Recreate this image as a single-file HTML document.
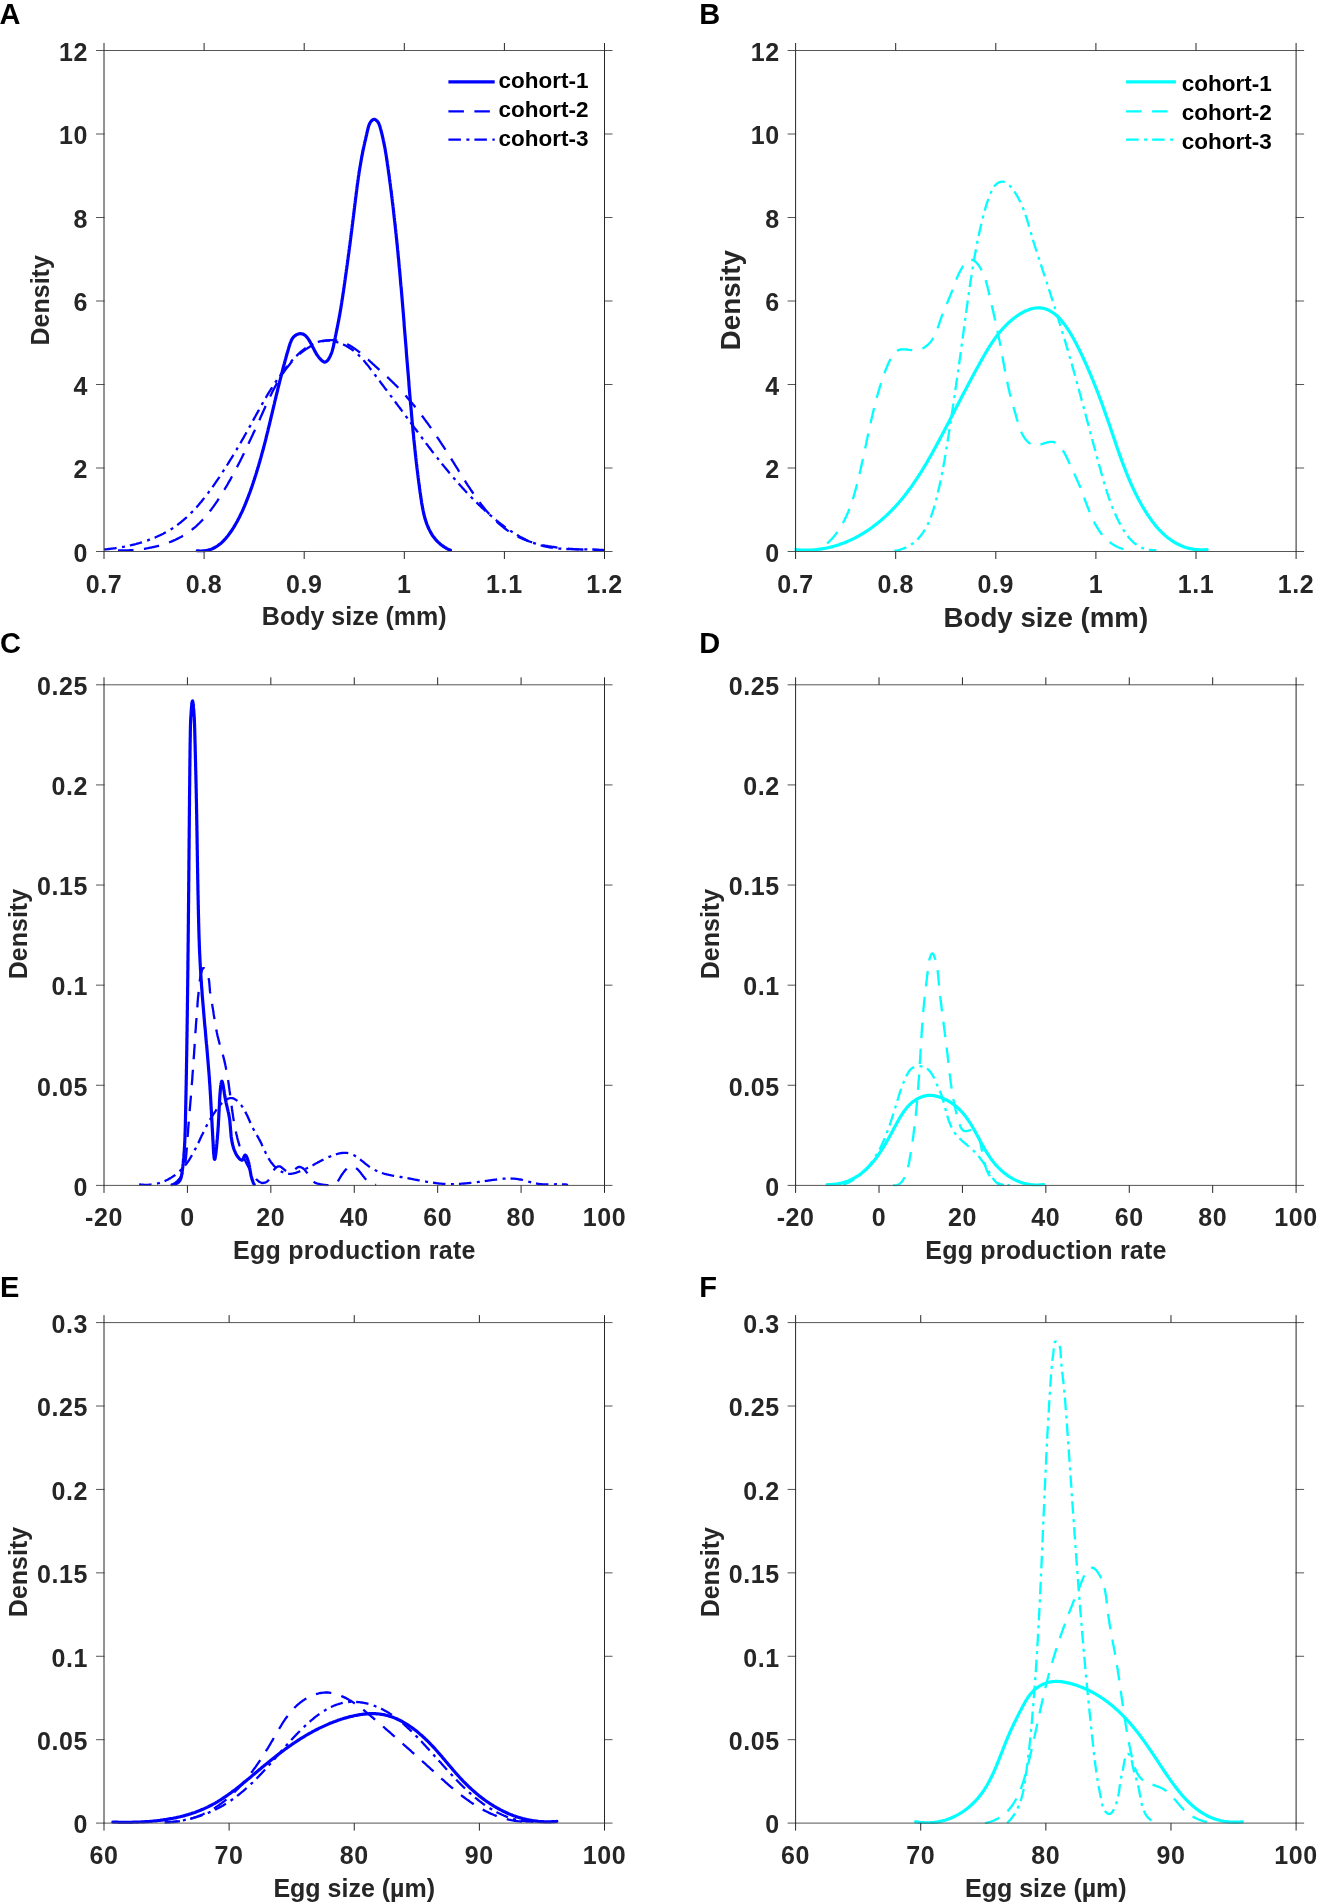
<!DOCTYPE html><html><head><meta charset="utf-8"><style>html,body{margin:0;padding:0;background:#fff;}svg{display:block;}text{font-family:"Liberation Sans",sans-serif;font-weight:bold;}svg{will-change:transform;}</style></head><body>
<svg width="1321" height="1903" viewBox="0 0 1321 1903">
<rect width="1321" height="1903" fill="#fff"/>
<clipPath id="clipA"><rect x="103.00" y="49.50" width="502.50" height="503.00"/></clipPath>
<g clip-path="url(#clipA)" fill="none" stroke="#0000ff" stroke-width="3.20" stroke-linejoin="round">
<path d="M197.3,550.8 L198.7,550.9 L200.1,551.0 L201.5,551.0 L202.8,550.9 L204.1,550.8 L205.3,550.7 L206.5,550.5 L207.7,550.2 L208.9,549.9 L210.0,549.6 L211.2,549.2 L212.3,548.8 L213.3,548.3 L214.4,547.8 L215.4,547.2 L216.4,546.6 L217.3,546.0 L218.3,545.3 L219.2,544.6 L220.1,543.9 L221.0,543.2 L221.9,542.4 L222.7,541.6 L223.6,540.8 L224.4,539.9 L225.2,539.0 L226.0,538.1 L226.7,537.2 L227.5,536.3 L228.2,535.4 L228.9,534.4 L229.6,533.4 L230.3,532.5 L231.0,531.5 L231.7,530.5 L232.4,529.5 L233.0,528.5 L233.7,527.4 L234.3,526.4 L234.9,525.4 L235.5,524.3 L236.1,523.3 L236.7,522.2 L237.3,521.2 L237.9,520.1 L238.4,519.0 L239.0,518.0 L239.5,516.9 L240.1,515.8 L240.6,514.7 L241.1,513.6 L241.7,512.5 L242.2,511.4 L242.7,510.3 L243.2,509.2 L243.6,508.1 L244.1,507.0 L244.6,505.9 L245.1,504.7 L245.5,503.6 L246.0,502.5 L246.4,501.4 L246.9,500.2 L247.3,499.1 L247.8,498.0 L248.2,496.8 L248.6,495.7 L249.0,494.6 L249.5,493.4 L249.9,492.3 L250.3,491.2 L250.7,490.0 L251.1,488.9 L251.5,487.7 L251.9,486.6 L252.3,485.5 L252.7,484.3 L253.1,483.2 L253.4,482.0 L253.8,480.9 L254.2,479.8 L254.6,478.6 L254.9,477.5 L255.3,476.3 L255.7,475.2 L256.0,474.1 L256.4,472.9 L256.7,471.8 L257.1,470.6 L257.4,469.5 L257.8,468.3 L258.1,467.2 L258.5,466.0 L258.8,464.9 L259.1,463.8 L259.5,462.6 L259.8,461.5 L260.1,460.3 L260.4,459.2 L260.8,458.0 L261.1,456.9 L261.4,455.7 L261.7,454.6 L262.0,453.4 L262.3,452.3 L262.7,451.1 L263.0,450.0 L263.3,448.8 L263.6,447.7 L263.9,446.5 L264.2,445.4 L264.5,444.2 L264.8,443.1 L265.1,441.9 L265.4,440.8 L265.7,439.6 L266.0,438.4 L266.2,437.3 L266.5,436.1 L266.8,435.0 L267.1,433.8 L267.4,432.7 L267.7,431.5 L268.0,430.3 L268.2,429.2 L268.5,428.0 L268.8,426.9 L269.1,425.7 L269.4,424.5 L269.7,423.4 L269.9,422.2 L270.2,421.1 L270.5,419.9 L270.8,418.7 L271.0,417.6 L271.3,416.4 L271.6,415.2 L271.9,414.1 L272.2,412.9 L272.4,411.7 L272.7,410.6 L273.0,409.4 L273.3,408.2 L273.5,407.1 L273.8,405.9 L274.1,404.7 L274.4,403.6 L274.6,402.4 L274.9,401.2 L275.2,400.1 L275.5,398.9 L275.8,397.7 L276.0,396.5 L276.3,395.4 L276.6,394.2 L276.9,393.0 L277.2,391.8 L277.5,390.7 L277.7,389.5 L278.0,388.3 L278.3,387.1 L278.6,386.0 L278.9,384.8 L279.2,383.6 L279.5,382.4 L279.8,381.2 L280.1,380.1 L280.4,378.9 L280.7,377.7 L281.0,376.5 L281.3,375.3 L281.6,374.1 L281.9,373.0 L282.2,371.8 L282.5,370.6 L282.8,369.4 L283.1,368.2 L283.4,367.0 L283.7,365.8 L284.0,364.7 L284.4,363.5 L284.7,362.3 L285.0,361.1 L285.3,359.9 L285.7,358.7 L286.0,357.5 L286.3,356.3 L286.7,355.1 L287.0,353.9 L287.3,352.7 L287.7,351.6 L288.0,350.4 L288.4,349.2 L288.7,348.0 L289.1,346.8 L289.5,345.6 L289.8,344.4 L290.2,343.2 L290.7,342.1 L291.1,341.0 L291.6,339.9 L292.2,338.9 L292.8,338.0 L293.5,337.1 L294.3,336.3 L295.2,335.6 L296.2,334.9 L297.2,334.4 L298.3,334.0 L299.5,333.7 L300.6,333.7 L301.7,333.8 L302.8,334.0 L303.8,334.5 L304.7,335.1 L305.6,335.8 L306.4,336.7 L307.3,337.6 L308.0,338.6 L308.8,339.7 L309.5,340.9 L310.2,342.1 L310.8,343.3 L311.5,344.5 L312.1,345.8 L312.7,347.0 L313.3,348.1 L313.9,349.2 L314.4,350.3 L315.0,351.4 L315.6,352.4 L316.1,353.4 L316.7,354.4 L317.4,355.3 L318.0,356.2 L318.7,357.2 L319.4,358.0 L320.2,358.9 L321.0,359.8 L321.9,360.6 L322.9,361.4 L323.8,361.9 L324.8,362.1 L325.8,361.8 L326.8,361.2 L327.7,360.3 L328.5,359.2 L329.2,358.1 L329.8,356.9 L330.4,355.7 L330.9,354.5 L331.4,353.3 L331.8,352.2 L332.2,351.0 L332.5,349.9 L332.8,348.8 L333.1,347.6 L333.4,346.5 L333.6,345.4 L333.9,344.2 L334.1,343.1 L334.3,341.9 L334.6,340.8 L334.8,339.6 L335.0,338.5 L335.3,337.3 L335.5,336.1 L335.8,334.9 L336.0,333.8 L336.2,332.6 L336.5,331.4 L336.7,330.2 L337.0,329.0 L337.2,327.9 L337.4,326.7 L337.7,325.5 L337.9,324.3 L338.1,323.1 L338.4,321.9 L338.6,320.7 L338.8,319.6 L339.0,318.4 L339.2,317.2 L339.5,316.0 L339.7,314.8 L339.9,313.6 L340.1,312.4 L340.3,311.2 L340.5,310.1 L340.7,308.9 L340.9,307.7 L341.1,306.5 L341.3,305.3 L341.5,304.1 L341.7,302.9 L341.8,301.7 L342.0,300.6 L342.2,299.4 L342.4,298.2 L342.6,297.0 L342.8,295.8 L342.9,294.6 L343.1,293.4 L343.3,292.2 L343.5,291.0 L343.6,289.9 L343.8,288.7 L344.0,287.5 L344.2,286.3 L344.3,285.1 L344.5,283.9 L344.7,282.7 L344.8,281.5 L345.0,280.3 L345.2,279.2 L345.3,278.0 L345.5,276.8 L345.7,275.6 L345.8,274.4 L346.0,273.2 L346.2,272.0 L346.3,270.8 L346.5,269.6 L346.7,268.5 L346.8,267.3 L347.0,266.1 L347.2,264.9 L347.3,263.7 L347.5,262.5 L347.6,261.3 L347.8,260.1 L348.0,258.9 L348.1,257.8 L348.3,256.6 L348.4,255.4 L348.6,254.2 L348.8,253.0 L348.9,251.8 L349.1,250.6 L349.2,249.4 L349.4,248.2 L349.5,247.0 L349.7,245.9 L349.9,244.7 L350.0,243.5 L350.2,242.3 L350.3,241.1 L350.5,239.9 L350.6,238.7 L350.8,237.5 L350.9,236.3 L351.1,235.1 L351.2,233.9 L351.4,232.8 L351.5,231.6 L351.7,230.4 L351.8,229.2 L352.0,228.0 L352.1,226.8 L352.3,225.6 L352.4,224.4 L352.6,223.2 L352.7,222.0 L352.9,220.8 L353.0,219.6 L353.2,218.4 L353.3,217.2 L353.5,216.0 L353.6,214.8 L353.8,213.6 L353.9,212.4 L354.1,211.3 L354.2,210.1 L354.3,208.9 L354.5,207.7 L354.6,206.5 L354.8,205.3 L354.9,204.1 L355.1,202.9 L355.2,201.7 L355.4,200.5 L355.5,199.3 L355.7,198.1 L355.8,196.9 L356.0,195.7 L356.1,194.5 L356.3,193.3 L356.4,192.1 L356.6,190.9 L356.7,189.7 L356.9,188.5 L357.0,187.3 L357.2,186.1 L357.3,184.9 L357.5,183.7 L357.7,182.5 L357.8,181.4 L358.0,180.2 L358.2,179.0 L358.3,177.8 L358.5,176.6 L358.7,175.4 L358.9,174.2 L359.0,173.0 L359.2,171.9 L359.4,170.7 L359.6,169.5 L359.8,168.3 L360.0,167.1 L360.2,165.9 L360.4,164.8 L360.6,163.6 L360.8,162.4 L361.0,161.2 L361.2,160.1 L361.4,158.9 L361.6,157.7 L361.8,156.6 L362.1,155.4 L362.3,154.2 L362.5,153.1 L362.7,151.9 L363.0,150.7 L363.2,149.6 L363.5,148.4 L363.7,147.2 L364.0,146.1 L364.2,144.9 L364.5,143.8 L364.7,142.6 L365.0,141.4 L365.3,140.3 L365.6,139.1 L365.8,137.9 L366.1,136.7 L366.4,135.5 L366.7,134.3 L366.9,133.1 L367.2,131.9 L367.5,130.7 L367.8,129.5 L368.1,128.2 L368.4,127.0 L368.8,125.8 L369.2,124.6 L369.7,123.5 L370.3,122.4 L371.0,121.4 L371.9,120.5 L372.8,119.8 L373.8,119.4 L374.8,119.4 L375.8,119.9 L376.7,120.7 L377.6,121.6 L378.3,122.6 L378.9,123.7 L379.3,124.8 L379.8,126.0 L380.1,127.2 L380.4,128.4 L380.8,129.6 L381.1,130.8 L381.4,132.0 L381.7,133.2 L382.0,134.4 L382.3,135.5 L382.5,136.7 L382.8,137.9 L383.1,139.1 L383.3,140.3 L383.6,141.5 L383.8,142.7 L384.1,143.9 L384.3,145.0 L384.5,146.2 L384.8,147.4 L385.0,148.6 L385.2,149.8 L385.4,151.0 L385.6,152.2 L385.8,153.3 L386.0,154.5 L386.2,155.7 L386.4,156.9 L386.6,158.1 L386.7,159.3 L386.9,160.4 L387.1,161.6 L387.3,162.8 L387.4,164.0 L387.6,165.2 L387.8,166.4 L388.0,167.5 L388.1,168.7 L388.3,169.9 L388.4,171.1 L388.6,172.3 L388.8,173.5 L388.9,174.6 L389.1,175.8 L389.3,177.0 L389.4,178.2 L389.6,179.4 L389.7,180.6 L389.9,181.8 L390.0,182.9 L390.2,184.1 L390.4,185.3 L390.5,186.5 L390.7,187.7 L390.8,188.9 L391.0,190.1 L391.1,191.3 L391.3,192.4 L391.4,193.6 L391.6,194.8 L391.7,196.0 L391.9,197.2 L392.0,198.4 L392.2,199.6 L392.3,200.8 L392.4,202.0 L392.6,203.2 L392.7,204.3 L392.9,205.5 L393.0,206.7 L393.2,207.9 L393.3,209.1 L393.4,210.3 L393.6,211.5 L393.7,212.7 L393.8,213.9 L394.0,215.1 L394.1,216.3 L394.2,217.5 L394.4,218.6 L394.5,219.8 L394.6,221.0 L394.8,222.2 L394.9,223.4 L395.0,224.6 L395.2,225.8 L395.3,227.0 L395.4,228.2 L395.6,229.4 L395.7,230.6 L395.8,231.8 L395.9,233.0 L396.1,234.2 L396.2,235.4 L396.3,236.6 L396.4,237.8 L396.6,239.0 L396.7,240.2 L396.8,241.4 L396.9,242.6 L397.0,243.8 L397.2,245.0 L397.3,246.1 L397.4,247.3 L397.5,248.5 L397.6,249.7 L397.8,250.9 L397.9,252.1 L398.0,253.3 L398.1,254.5 L398.2,255.7 L398.3,256.9 L398.4,258.1 L398.6,259.3 L398.7,260.5 L398.8,261.7 L398.9,262.9 L399.0,264.1 L399.1,265.3 L399.2,266.5 L399.3,267.7 L399.5,268.9 L399.6,270.1 L399.7,271.3 L399.8,272.5 L399.9,273.7 L400.0,274.9 L400.1,276.1 L400.2,277.3 L400.3,278.5 L400.4,279.7 L400.5,280.9 L400.6,282.1 L400.7,283.3 L400.8,284.5 L400.9,285.7 L401.1,286.9 L401.2,288.1 L401.3,289.3 L401.4,290.5 L401.5,291.7 L401.6,292.9 L401.7,294.1 L401.8,295.3 L401.9,296.5 L402.0,297.7 L402.1,298.9 L402.2,300.1 L402.3,301.3 L402.4,302.5 L402.5,303.7 L402.6,304.9 L402.7,306.1 L402.8,307.3 L402.9,308.5 L403.0,309.7 L403.1,310.9 L403.2,312.1 L403.3,313.3 L403.4,314.5 L403.5,315.7 L403.6,317.0 L403.7,318.2 L403.8,319.4 L403.9,320.6 L404.0,321.8 L404.1,323.0 L404.1,324.2 L404.2,325.4 L404.3,326.6 L404.4,327.8 L404.5,329.0 L404.6,330.2 L404.7,331.4 L404.8,332.6 L404.9,333.8 L405.0,335.0 L405.1,336.2 L405.2,337.4 L405.3,338.6 L405.4,339.8 L405.5,341.0 L405.6,342.1 L405.7,343.3 L405.8,344.5 L405.9,345.7 L406.0,346.9 L406.1,348.1 L406.2,349.3 L406.3,350.5 L406.3,351.7 L406.4,352.9 L406.5,354.1 L406.6,355.3 L406.7,356.5 L406.8,357.7 L406.9,358.9 L407.0,360.1 L407.1,361.3 L407.2,362.5 L407.3,363.7 L407.4,364.9 L407.5,366.1 L407.6,367.3 L407.7,368.5 L407.8,369.7 L407.9,370.9 L408.0,372.1 L408.1,373.3 L408.2,374.5 L408.3,375.7 L408.4,376.9 L408.5,378.1 L408.6,379.3 L408.7,380.4 L408.8,381.6 L408.9,382.8 L408.9,384.0 L409.0,385.2 L409.1,386.4 L409.2,387.6 L409.3,388.8 L409.4,390.0 L409.5,391.2 L409.6,392.4 L409.7,393.6 L409.8,394.8 L409.9,395.9 L410.0,397.1 L410.1,398.3 L410.2,399.5 L410.3,400.7 L410.4,401.9 L410.5,403.1 L410.6,404.3 L410.8,405.5 L410.9,406.7 L411.0,407.9 L411.1,409.0 L411.2,410.2 L411.3,411.4 L411.4,412.6 L411.5,413.8 L411.6,415.0 L411.7,416.2 L411.8,417.4 L411.9,418.6 L412.0,419.7 L412.1,420.9 L412.2,422.1 L412.3,423.3 L412.5,424.5 L412.6,425.7 L412.7,426.9 L412.8,428.1 L412.9,429.3 L413.0,430.5 L413.1,431.6 L413.2,432.8 L413.4,434.0 L413.5,435.2 L413.6,436.4 L413.7,437.6 L413.8,438.8 L413.9,440.0 L414.1,441.2 L414.2,442.4 L414.3,443.6 L414.4,444.8 L414.6,445.9 L414.7,447.1 L414.8,448.3 L414.9,449.5 L415.1,450.7 L415.2,451.9 L415.3,453.1 L415.4,454.3 L415.6,455.5 L415.7,456.7 L415.8,457.9 L416.0,459.1 L416.1,460.3 L416.2,461.5 L416.4,462.7 L416.5,463.9 L416.7,465.1 L416.8,466.3 L416.9,467.5 L417.1,468.7 L417.2,469.9 L417.4,471.1 L417.5,472.3 L417.7,473.5 L417.8,474.7 L418.0,475.9 L418.1,477.2 L418.3,478.4 L418.4,479.6 L418.6,480.8 L418.7,482.0 L418.9,483.2 L419.1,484.4 L419.2,485.6 L419.4,486.8 L419.5,488.1 L419.7,489.3 L419.9,490.5 L420.0,491.7 L420.2,492.9 L420.4,494.1 L420.6,495.4 L420.7,496.6 L420.9,497.8 L421.1,499.0 L421.3,500.3 L421.5,501.5 L421.6,502.7 L421.8,503.9 L422.1,505.1 L422.3,506.3 L422.5,507.5 L422.7,508.7 L423.0,509.9 L423.2,511.1 L423.5,512.3 L423.7,513.5 L424.0,514.7 L424.3,515.8 L424.6,517.0 L424.9,518.1 L425.2,519.3 L425.6,520.4 L426.0,521.5 L426.3,522.6 L426.7,523.7 L427.1,524.8 L427.6,525.9 L428.0,527.0 L428.5,528.0 L429.0,529.1 L429.5,530.1 L430.0,531.1 L430.5,532.1 L431.1,533.1 L431.7,534.1 L432.3,535.1 L432.9,536.0 L433.6,536.9 L434.3,537.8 L435.0,538.7 L435.7,539.6 L436.5,540.5 L437.3,541.3 L438.1,542.1 L439.0,542.9 L439.9,543.7 L440.8,544.5 L441.7,545.2 L442.7,545.9 L443.7,546.6 L444.7,547.3 L445.8,547.9 L446.9,548.6 L448.0,549.2 L449.2,549.7 L450.4,550.3" stroke-linecap="round"/>
<path d="M118.0,550.4 L119.2,550.4 L120.4,550.4 L121.6,550.4 L122.7,550.4 L123.9,550.4 L125.1,550.4 L126.3,550.3 L127.5,550.3 L128.7,550.3 L129.9,550.2 L131.1,550.1 L132.3,550.1 L133.6,550.0 L134.8,549.9 L136.0,549.8 L137.2,549.7 L138.4,549.5 L139.6,549.4 L140.8,549.3 L142.0,549.1 L143.2,548.9 L144.4,548.8 L145.6,548.6 L146.8,548.4 L148.0,548.2 L149.2,547.9 L150.4,547.7 L151.6,547.5 L152.8,547.2 L153.9,547.0 L155.1,546.7 L156.3,546.4 L157.5,546.1 L158.6,545.8 L159.8,545.5 L161.0,545.1 L162.1,544.8 L163.3,544.4 L164.4,544.1 L165.6,543.7 L166.7,543.3 L167.8,542.9 L169.0,542.4 L170.1,542.0 L171.2,541.6 L172.3,541.1 L173.4,540.6 L174.5,540.2 L175.6,539.7 L176.6,539.1 L177.7,538.6 L178.8,538.1 L179.8,537.5 L180.9,537.0 L181.9,536.4 L182.9,535.8 L184.0,535.2 L185.0,534.6 L186.0,533.9 L187.0,533.3 L188.0,532.6 L188.9,531.9 L189.9,531.2 L190.9,530.5 L191.8,529.8 L192.7,529.0 L193.7,528.3 L194.6,527.5 L195.5,526.8 L196.4,526.0 L197.3,525.2 L198.1,524.3 L199.0,523.5 L199.8,522.7 L200.7,521.8 L201.5,521.0 L202.4,520.1 L203.2,519.2 L204.0,518.3 L204.8,517.4 L205.6,516.5 L206.4,515.6 L207.2,514.6 L208.0,513.7 L208.7,512.7 L209.5,511.8 L210.2,510.8 L211.0,509.9 L211.7,508.9 L212.4,507.9 L213.2,506.9 L213.9,505.9 L214.6,504.9 L215.3,503.9 L216.0,502.9 L216.7,501.9 L217.4,500.9 L218.0,499.9 L218.7,498.8 L219.4,497.8 L220.0,496.8 L220.7,495.7 L221.3,494.7 L222.0,493.7 L222.6,492.6 L223.3,491.6 L223.9,490.5 L224.5,489.5 L225.1,488.4 L225.8,487.4 L226.4,486.4 L227.0,485.3 L227.6,484.3 L228.2,483.2 L228.8,482.2 L229.4,481.1 L230.0,480.1 L230.6,479.1 L231.1,478.0 L231.7,477.0 L232.3,475.9 L232.9,474.9 L233.4,473.8 L234.0,472.8 L234.5,471.8 L235.1,470.7 L235.7,469.7 L236.2,468.6 L236.8,467.6 L237.3,466.5 L237.8,465.5 L238.4,464.4 L238.9,463.4 L239.5,462.3 L240.0,461.3 L240.5,460.2 L241.0,459.2 L241.6,458.1 L242.1,457.1 L242.6,456.0 L243.1,455.0 L243.7,453.9 L244.2,452.9 L244.7,451.8 L245.2,450.7 L245.7,449.7 L246.2,448.6 L246.7,447.6 L247.2,446.5 L247.7,445.4 L248.2,444.4 L248.7,443.3 L249.2,442.2 L249.7,441.1 L250.2,440.1 L250.7,439.0 L251.2,437.9 L251.7,436.8 L252.2,435.8 L252.7,434.7 L253.2,433.6 L253.7,432.5 L254.2,431.4 L254.7,430.4 L255.2,429.3 L255.7,428.2 L256.2,427.1 L256.7,426.0 L257.2,424.9 L257.7,423.8 L258.2,422.7 L258.7,421.6 L259.2,420.5 L259.7,419.4 L260.2,418.3 L260.7,417.1 L261.2,416.0 L261.7,414.9 L262.2,413.8 L262.7,412.7 L263.2,411.6 L263.7,410.4 L264.2,409.3 L264.7,408.2 L265.2,407.0 L265.7,405.9 L266.2,404.8 L266.7,403.7 L267.3,402.5 L267.8,401.4 L268.3,400.3 L268.8,399.1 L269.4,398.0 L269.9,396.9 L270.5,395.8 L271.0,394.7 L271.6,393.5 L272.1,392.4 L272.7,391.3 L273.2,390.2 L273.8,389.1 L274.4,388.0 L275.0,386.9 L275.6,385.8 L276.2,384.7 L276.8,383.7 L277.4,382.6 L278.0,381.5 L278.6,380.4 L279.2,379.4 L279.9,378.3 L280.5,377.3 L281.1,376.3 L281.8,375.2 L282.5,374.2 L283.1,373.2 L283.8,372.2 L284.5,371.2 L285.2,370.2 L285.9,369.2 L286.6,368.2 L287.4,367.3 L288.1,366.3 L288.8,365.4 L289.6,364.5 L290.3,363.5 L291.1,362.6 L291.9,361.7 L292.7,360.8 L293.5,360.0 L294.3,359.1 L295.2,358.3 L296.0,357.4 L296.9,356.6 L297.7,355.8 L298.6,355.0 L299.5,354.2 L300.4,353.4 L301.3,352.7 L302.2,351.9 L303.2,351.2 L304.1,350.5 L305.1,349.8 L306.1,349.1 L307.1,348.5 L308.1,347.8 L309.1,347.2 L310.1,346.6 L311.2,346.0 L312.2,345.4 L313.3,344.9 L314.4,344.3 L315.5,343.8 L316.6,343.3 L317.7,342.9 L318.8,342.5 L320.0,342.1 L321.1,341.7 L322.2,341.4 L323.4,341.1 L324.5,340.8 L325.7,340.6 L326.9,340.4 L328.0,340.3 L329.2,340.1 L330.3,340.1 L331.5,340.1 L332.6,340.1 L333.8,340.1 L334.9,340.3 L336.1,340.4 L337.2,340.6 L338.4,340.9 L339.5,341.2 L340.6,341.5 L341.8,341.9 L342.9,342.3 L344.0,342.7 L345.1,343.2 L346.2,343.7 L347.3,344.2 L348.4,344.8 L349.4,345.3 L350.5,346.0 L351.6,346.6 L352.6,347.3 L353.6,347.9 L354.7,348.6 L355.7,349.4 L356.7,350.1 L357.7,350.8 L358.7,351.6 L359.7,352.4 L360.7,353.2 L361.6,354.0 L362.6,354.8 L363.6,355.6 L364.6,356.5 L365.5,357.3 L366.5,358.1 L367.4,359.0 L368.4,359.8 L369.3,360.7 L370.2,361.5 L371.2,362.4 L372.1,363.2 L373.0,364.1 L374.0,364.9 L374.9,365.8 L375.8,366.6 L376.7,367.4 L377.7,368.3 L378.6,369.1 L379.5,369.9 L380.4,370.7 L381.3,371.6 L382.2,372.4 L383.1,373.2 L384.0,374.0 L384.9,374.9 L385.8,375.7 L386.7,376.5 L387.6,377.3 L388.5,378.2 L389.4,379.0 L390.2,379.8 L391.1,380.6 L392.0,381.5 L392.8,382.3 L393.7,383.1 L394.5,384.0 L395.4,384.8 L396.2,385.7 L397.1,386.5 L397.9,387.4 L398.7,388.2 L399.6,389.1 L400.4,390.0 L401.2,390.8 L402.0,391.7 L402.8,392.6 L403.6,393.5 L404.4,394.3 L405.2,395.2 L406.0,396.1 L406.8,397.0 L407.5,397.9 L408.3,398.8 L409.1,399.7 L409.9,400.6 L410.6,401.5 L411.4,402.4 L412.2,403.3 L412.9,404.2 L413.7,405.1 L414.4,406.0 L415.1,406.9 L415.9,407.9 L416.6,408.8 L417.4,409.7 L418.1,410.6 L418.8,411.6 L419.5,412.5 L420.3,413.4 L421.0,414.4 L421.7,415.3 L422.4,416.3 L423.1,417.2 L423.8,418.2 L424.5,419.1 L425.2,420.1 L425.9,421.0 L426.6,422.0 L427.3,422.9 L428.0,423.9 L428.7,424.9 L429.4,425.8 L430.1,426.8 L430.8,427.8 L431.5,428.7 L432.1,429.7 L432.8,430.7 L433.5,431.7 L434.2,432.7 L434.8,433.6 L435.5,434.6 L436.2,435.6 L436.9,436.6 L437.5,437.6 L438.2,438.6 L438.9,439.6 L439.5,440.6 L440.2,441.6 L440.8,442.6 L441.5,443.6 L442.1,444.6 L442.8,445.6 L443.5,446.6 L444.1,447.6 L444.8,448.6 L445.4,449.6 L446.1,450.7 L446.7,451.7 L447.4,452.7 L448.0,453.7 L448.7,454.7 L449.3,455.8 L450.0,456.8 L450.6,457.8 L451.3,458.9 L451.9,459.9 L452.5,460.9 L453.2,461.9 L453.8,463.0 L454.5,464.0 L455.1,465.1 L455.8,466.1 L456.4,467.1 L457.1,468.2 L457.7,469.2 L458.4,470.3 L459.0,471.3 L459.7,472.3 L460.3,473.4 L461.0,474.4 L461.6,475.5 L462.3,476.5 L462.9,477.6 L463.6,478.6 L464.2,479.7 L464.9,480.7 L465.5,481.7 L466.2,482.8 L466.9,483.8 L467.5,484.8 L468.2,485.9 L468.9,486.9 L469.6,487.9 L470.2,488.9 L470.9,490.0 L471.6,491.0 L472.3,492.0 L473.0,493.0 L473.7,494.0 L474.4,495.0 L475.1,496.0 L475.8,497.0 L476.5,498.0 L477.2,499.0 L477.9,500.0 L478.6,500.9 L479.3,501.9 L480.1,502.9 L480.8,503.8 L481.5,504.8 L482.3,505.7 L483.0,506.7 L483.8,507.6 L484.5,508.5 L485.3,509.5 L486.1,510.4 L486.8,511.3 L487.6,512.2 L488.4,513.1 L489.2,514.0 L490.0,514.8 L490.8,515.7 L491.6,516.6 L492.4,517.4 L493.3,518.3 L494.1,519.1 L494.9,519.9 L495.8,520.7 L496.6,521.5 L497.5,522.3 L498.4,523.1 L499.2,523.9 L500.1,524.7 L501.0,525.4 L501.9,526.2 L502.8,526.9 L503.7,527.6 L504.6,528.3 L505.6,529.0 L506.5,529.7 L507.5,530.4 L508.4,531.0 L509.4,531.7 L510.4,532.3 L511.3,533.0 L512.3,533.6 L513.3,534.2 L514.3,534.8 L515.4,535.3 L516.4,535.9 L517.4,536.4 L518.5,537.0 L519.5,537.5 L520.6,538.0 L521.7,538.5 L522.8,538.9 L523.9,539.4 L525.0,539.8 L526.1,540.3 L527.2,540.7 L528.4,541.1 L529.5,541.5 L530.7,541.9 L531.8,542.2 L533.0,542.6 L534.2,543.0 L535.3,543.3 L536.5,543.6 L537.7,543.9 L538.9,544.2 L540.1,544.5 L541.3,544.8 L542.5,545.1 L543.8,545.3 L545.0,545.6 L546.2,545.8 L547.4,546.0 L548.7,546.3 L549.9,546.5 L551.1,546.7 L552.4,546.9 L553.6,547.0 L554.9,547.2 L556.1,547.4 L557.4,547.6 L558.6,547.7 L559.8,547.9 L561.1,548.0 L562.3,548.1 L563.6,548.3 L564.8,548.4 L566.1,548.5 L567.3,548.6 L568.6,548.7 L569.8,548.8 L571.1,548.9 L572.3,549.0 L573.5,549.1 L574.8,549.2 L576.0,549.2 L577.2,549.3 L578.5,549.4 L579.7,549.4 L580.9,549.5 L582.1,549.5 L583.3,549.6 L584.5,549.6 L585.7,549.7 L586.9,549.7 L588.1,549.8 L589.3,549.8 L590.4,549.9 L591.6,549.9 L592.8,549.9 L593.9,550.0 L595.0,550.0 L596.2,550.0 L597.3,550.1 L598.4,550.1 L599.5,550.1 L600.6,550.2 L601.7,550.2 L602.8,550.2 L603.9,550.3" stroke-dasharray="15.5 10.5" stroke-width="2.30"/>
<path d="M104.2,549.5 L105.3,549.4 L106.5,549.3 L107.7,549.1 L108.8,549.0 L110.0,548.9 L111.2,548.7 L112.3,548.6 L113.5,548.4 L114.7,548.3 L115.9,548.1 L117.0,547.9 L118.2,547.7 L119.4,547.5 L120.6,547.3 L121.8,547.1 L123.0,546.9 L124.2,546.7 L125.3,546.4 L126.5,546.2 L127.7,546.0 L128.9,545.7 L130.1,545.4 L131.3,545.2 L132.5,544.9 L133.6,544.6 L134.8,544.3 L136.0,544.0 L137.2,543.6 L138.4,543.3 L139.5,543.0 L140.7,542.6 L141.9,542.3 L143.0,541.9 L144.2,541.5 L145.4,541.2 L146.5,540.8 L147.7,540.4 L148.8,539.9 L150.0,539.5 L151.1,539.1 L152.2,538.6 L153.4,538.2 L154.5,537.7 L155.6,537.3 L156.7,536.8 L157.8,536.3 L158.9,535.8 L160.0,535.3 L161.1,534.7 L162.2,534.2 L163.3,533.7 L164.3,533.1 L165.4,532.5 L166.4,532.0 L167.5,531.4 L168.5,530.8 L169.5,530.2 L170.6,529.5 L171.6,528.9 L172.6,528.3 L173.6,527.6 L174.5,526.9 L175.5,526.3 L176.5,525.6 L177.4,524.9 L178.4,524.2 L179.3,523.4 L180.3,522.7 L181.2,522.0 L182.1,521.2 L183.0,520.5 L183.9,519.7 L184.8,518.9 L185.7,518.1 L186.6,517.3 L187.4,516.5 L188.3,515.7 L189.2,514.9 L190.0,514.1 L190.8,513.2 L191.7,512.4 L192.5,511.5 L193.3,510.7 L194.2,509.8 L195.0,508.9 L195.8,508.0 L196.6,507.2 L197.4,506.3 L198.2,505.4 L198.9,504.5 L199.7,503.5 L200.5,502.6 L201.3,501.7 L202.0,500.8 L202.8,499.8 L203.5,498.9 L204.3,497.9 L205.0,497.0 L205.8,496.0 L206.5,495.1 L207.2,494.1 L208.0,493.2 L208.7,492.2 L209.4,491.2 L210.1,490.2 L210.8,489.3 L211.6,488.3 L212.3,487.3 L213.0,486.3 L213.7,485.3 L214.4,484.3 L215.1,483.3 L215.7,482.3 L216.4,481.3 L217.1,480.3 L217.8,479.3 L218.5,478.3 L219.2,477.3 L219.8,476.3 L220.5,475.3 L221.2,474.2 L221.9,473.2 L222.5,472.2 L223.2,471.2 L223.8,470.2 L224.5,469.2 L225.2,468.1 L225.8,467.1 L226.5,466.1 L227.1,465.1 L227.8,464.0 L228.4,463.0 L229.1,462.0 L229.7,460.9 L230.3,459.9 L231.0,458.9 L231.6,457.9 L232.2,456.8 L232.9,455.8 L233.5,454.7 L234.1,453.7 L234.7,452.7 L235.4,451.6 L236.0,450.6 L236.6,449.6 L237.2,448.5 L237.8,447.5 L238.4,446.4 L239.1,445.4 L239.7,444.4 L240.3,443.3 L240.9,442.3 L241.5,441.2 L242.1,440.2 L242.7,439.2 L243.3,438.1 L243.9,437.1 L244.4,436.0 L245.0,435.0 L245.6,434.0 L246.2,432.9 L246.8,431.9 L247.4,430.8 L248.0,429.8 L248.5,428.8 L249.1,427.7 L249.7,426.7 L250.3,425.6 L250.8,424.6 L251.4,423.6 L252.0,422.5 L252.5,421.5 L253.1,420.4 L253.7,419.4 L254.2,418.4 L254.8,417.3 L255.4,416.3 L255.9,415.3 L256.5,414.2 L257.1,413.2 L257.6,412.2 L258.2,411.1 L258.8,410.1 L259.3,409.1 L259.9,408.0 L260.5,407.0 L261.1,406.0 L261.6,405.0 L262.2,403.9 L262.8,402.9 L263.4,401.9 L264.0,400.8 L264.6,399.8 L265.2,398.8 L265.8,397.8 L266.4,396.7 L267.0,395.7 L267.6,394.7 L268.2,393.7 L268.8,392.7 L269.4,391.6 L270.1,390.6 L270.7,389.6 L271.3,388.6 L272.0,387.6 L272.6,386.5 L273.3,385.5 L273.9,384.5 L274.6,383.5 L275.3,382.5 L276.0,381.5 L276.6,380.5 L277.3,379.5 L278.0,378.4 L278.7,377.4 L279.4,376.4 L280.2,375.4 L280.9,374.4 L281.6,373.4 L282.4,372.4 L283.1,371.4 L283.9,370.4 L284.7,369.4 L285.5,368.4 L286.2,367.4 L287.0,366.4 L287.9,365.4 L288.7,364.4 L289.5,363.4 L290.3,362.5 L291.2,361.5 L292.0,360.5 L292.9,359.6 L293.7,358.7 L294.6,357.7 L295.5,356.8 L296.4,356.0 L297.3,355.1 L298.2,354.2 L299.1,353.4 L300.0,352.5 L301.0,351.7 L301.9,351.0 L302.9,350.2 L303.8,349.4 L304.8,348.7 L305.7,348.0 L306.7,347.4 L307.7,346.7 L308.7,346.1 L309.7,345.5 L310.7,344.9 L311.7,344.4 L312.8,343.9 L313.8,343.4 L314.8,343.0 L315.9,342.6 L316.9,342.2 L318.0,341.9 L319.1,341.6 L320.2,341.3 L321.2,341.1 L322.3,340.9 L323.4,340.7 L324.5,340.6 L325.7,340.6 L326.8,340.5 L327.9,340.6 L329.0,340.6 L330.2,340.7 L331.3,340.9 L332.4,341.0 L333.6,341.2 L334.7,341.5 L335.9,341.8 L337.0,342.1 L338.1,342.5 L339.3,342.8 L340.4,343.3 L341.5,343.7 L342.6,344.2 L343.8,344.7 L344.9,345.2 L346.0,345.8 L347.0,346.4 L348.1,347.0 L349.2,347.7 L350.2,348.4 L351.2,349.0 L352.3,349.8 L353.3,350.5 L354.3,351.3 L355.2,352.1 L356.2,352.9 L357.1,353.7 L358.0,354.5 L358.9,355.4 L359.8,356.3 L360.7,357.1 L361.5,358.1 L362.4,359.0 L363.2,359.9 L364.0,360.8 L364.8,361.8 L365.6,362.7 L366.4,363.7 L367.2,364.7 L368.0,365.6 L368.8,366.6 L369.5,367.6 L370.3,368.6 L371.0,369.6 L371.8,370.6 L372.5,371.6 L373.3,372.5 L374.0,373.5 L374.7,374.5 L375.5,375.5 L376.2,376.5 L376.9,377.4 L377.7,378.4 L378.4,379.4 L379.1,380.4 L379.9,381.3 L380.6,382.3 L381.3,383.3 L382.0,384.2 L382.8,385.2 L383.5,386.1 L384.2,387.1 L384.9,388.1 L385.6,389.0 L386.4,390.0 L387.1,390.9 L387.8,391.9 L388.5,392.8 L389.2,393.8 L389.9,394.7 L390.6,395.7 L391.4,396.6 L392.1,397.6 L392.8,398.5 L393.5,399.5 L394.2,400.4 L394.9,401.4 L395.6,402.3 L396.3,403.3 L397.0,404.2 L397.7,405.2 L398.4,406.1 L399.2,407.1 L399.9,408.0 L400.6,409.0 L401.3,409.9 L402.0,410.9 L402.7,411.8 L403.4,412.8 L404.1,413.7 L404.8,414.7 L405.5,415.6 L406.2,416.6 L406.9,417.5 L407.6,418.5 L408.3,419.5 L409.0,420.4 L409.8,421.4 L410.5,422.3 L411.2,423.3 L411.9,424.2 L412.6,425.2 L413.3,426.2 L414.0,427.1 L414.7,428.1 L415.4,429.1 L416.2,430.0 L416.9,431.0 L417.6,431.9 L418.3,432.9 L419.0,433.9 L419.7,434.8 L420.5,435.8 L421.2,436.8 L421.9,437.7 L422.6,438.7 L423.3,439.6 L424.1,440.6 L424.8,441.6 L425.5,442.5 L426.2,443.5 L427.0,444.4 L427.7,445.4 L428.4,446.4 L429.1,447.3 L429.9,448.3 L430.6,449.2 L431.3,450.2 L432.1,451.2 L432.8,452.1 L433.6,453.1 L434.3,454.0 L435.0,455.0 L435.8,455.9 L436.5,456.9 L437.3,457.8 L438.0,458.8 L438.8,459.7 L439.5,460.7 L440.3,461.6 L441.0,462.6 L441.8,463.5 L442.5,464.5 L443.3,465.4 L444.1,466.4 L444.8,467.3 L445.6,468.2 L446.4,469.2 L447.1,470.1 L447.9,471.0 L448.7,472.0 L449.4,472.9 L450.2,473.8 L451.0,474.7 L451.8,475.7 L452.6,476.6 L453.3,477.5 L454.1,478.4 L454.9,479.3 L455.7,480.3 L456.5,481.2 L457.3,482.1 L458.1,483.0 L458.9,483.9 L459.7,484.8 L460.5,485.7 L461.3,486.6 L462.1,487.5 L462.9,488.4 L463.8,489.3 L464.6,490.2 L465.4,491.0 L466.2,491.9 L467.0,492.8 L467.9,493.7 L468.7,494.6 L469.5,495.4 L470.4,496.3 L471.2,497.2 L472.1,498.0 L472.9,498.9 L473.7,499.7 L474.6,500.6 L475.5,501.4 L476.3,502.3 L477.2,503.1 L478.0,504.0 L478.9,504.8 L479.8,505.6 L480.6,506.5 L481.5,507.3 L482.4,508.1 L483.3,508.9 L484.2,509.8 L485.0,510.6 L485.9,511.4 L486.8,512.2 L487.7,513.0 L488.6,513.8 L489.5,514.6 L490.4,515.4 L491.4,516.2 L492.3,516.9 L493.2,517.7 L494.1,518.5 L495.0,519.2 L496.0,520.0 L496.9,520.8 L497.8,521.5 L498.8,522.3 L499.7,523.0 L500.7,523.8 L501.6,524.5 L502.6,525.2 L503.5,525.9 L504.5,526.7 L505.5,527.4 L506.5,528.1 L507.4,528.7 L508.4,529.4 L509.4,530.1 L510.4,530.8 L511.4,531.4 L512.4,532.1 L513.4,532.7 L514.4,533.4 L515.4,534.0 L516.4,534.6 L517.5,535.2 L518.5,535.8 L519.5,536.4 L520.6,537.0 L521.6,537.5 L522.7,538.1 L523.7,538.6 L524.8,539.1 L525.8,539.7 L526.9,540.2 L528.0,540.7 L529.1,541.1 L530.2,541.6 L531.3,542.1 L532.4,542.5 L533.5,542.9 L534.6,543.3 L535.7,543.7 L536.8,544.1 L537.9,544.5 L539.1,544.8 L540.2,545.2 L541.4,545.5 L542.5,545.8 L543.7,546.1 L544.9,546.4 L546.0,546.7 L547.2,546.9 L548.4,547.1 L549.6,547.3 L550.8,547.5 L552.0,547.7 L553.2,547.9 L554.4,548.1 L555.6,548.2 L556.8,548.3 L558.1,548.5 L559.3,548.6 L560.5,548.7 L561.7,548.8 L563.0,548.8 L564.2,548.9 L565.5,549.0 L566.7,549.0 L567.9,549.1 L569.2,549.1 L570.4,549.2 L571.7,549.2 L572.9,549.2 L574.1,549.2 L575.4,549.3 L576.6,549.3 L577.9,549.3 L579.1,549.3 L580.3,549.3 L581.6,549.3 L582.8,549.3 L584.0,549.4 L585.2,549.4 L586.4,549.4 L587.7,549.4 L588.9,549.4 L590.1,549.4 L591.3,549.5 L592.5,549.5 L593.6,549.5 L594.8,549.6 L596.0,549.6 L597.2,549.6 L598.3,549.7 L599.5,549.8 L600.6,549.8 L601.8,549.9 L602.9,550.0 L604.0,550.1" stroke-dasharray="12.5 5.5 3 5" stroke-width="2.30"/>
</g>
<g stroke="#555555" stroke-width="1" fill="none" stroke-linecap="square">
<path d="M104.00,50.50 H604.50 M104.00,551.50 H604.50"/>
<path d="M104.00,551.50 H96.50 M604.50,551.50 H612.00"/>
<path d="M104.00,468.00 H96.50 M604.50,468.00 H612.00"/>
<path d="M104.00,384.50 H96.50 M604.50,384.50 H612.00"/>
<path d="M104.00,301.00 H96.50 M604.50,301.00 H612.00"/>
<path d="M104.00,217.50 H96.50 M604.50,217.50 H612.00"/>
<path d="M104.00,134.00 H96.50 M604.50,134.00 H612.00"/>
<path d="M104.00,50.50 H96.50 M604.50,50.50 H612.00"/>
</g>
<g stroke="#262626" stroke-width="1" fill="none">
<path d="M104.00,50.50 V551.50 M604.50,50.50 V551.50"/>
<path d="M104.00,551.50 V559.00 M104.00,50.50 V43.00"/>
<path d="M204.10,551.50 V559.00 M204.10,50.50 V43.00"/>
<path d="M304.20,551.50 V559.00 M304.20,50.50 V43.00"/>
<path d="M404.30,551.50 V559.00 M404.30,50.50 V43.00"/>
<path d="M504.40,551.50 V559.00 M504.40,50.50 V43.00"/>
<path d="M604.50,551.50 V559.00 M604.50,50.50 V43.00"/>
</g>
<g fill="#262626" font-size="25.0" letter-spacing="0.6">
<text x="104.00" y="592.50" text-anchor="middle">0.7</text>
<text x="204.10" y="592.50" text-anchor="middle">0.8</text>
<text x="304.20" y="592.50" text-anchor="middle">0.9</text>
<text x="404.30" y="592.50" text-anchor="middle">1</text>
<text x="504.40" y="592.50" text-anchor="middle">1.1</text>
<text x="604.50" y="592.50" text-anchor="middle">1.2</text>
<text x="88.10" y="561.80" text-anchor="end">0</text>
<text x="88.10" y="478.30" text-anchor="end">2</text>
<text x="88.10" y="394.80" text-anchor="end">4</text>
<text x="88.10" y="311.30" text-anchor="end">6</text>
<text x="88.10" y="227.80" text-anchor="end">8</text>
<text x="88.10" y="144.30" text-anchor="end">10</text>
<text x="88.10" y="60.80" text-anchor="end">12</text>
</g>
<text x="354.25" y="625.00" font-size="25.0" fill="#262626" text-anchor="middle" letter-spacing="0.00">Body size (mm)</text>
<text transform="translate(48.60,300.30) rotate(-90)" font-size="25.0" fill="#262626" text-anchor="middle">Density</text>
<clipPath id="clipB"><rect x="794.60" y="49.50" width="502.50" height="503.00"/></clipPath>
<g clip-path="url(#clipB)" fill="none" stroke="#00ffff" stroke-width="3.20" stroke-linejoin="round">
<path d="M794.6,549.6 L795.9,549.7 L797.1,549.8 L798.4,549.9 L799.7,550.0 L801.0,550.1 L802.2,550.1 L803.5,550.1 L804.8,550.2 L806.0,550.2 L807.3,550.2 L808.5,550.1 L809.8,550.1 L811.0,550.0 L812.2,550.0 L813.5,549.9 L814.7,549.8 L815.9,549.7 L817.1,549.5 L818.3,549.4 L819.5,549.2 L820.7,549.1 L821.9,548.9 L823.1,548.7 L824.3,548.5 L825.5,548.2 L826.7,548.0 L827.9,547.8 L829.0,547.5 L830.2,547.2 L831.4,546.9 L832.5,546.6 L833.7,546.3 L834.8,546.0 L836.0,545.6 L837.1,545.3 L838.2,544.9 L839.4,544.5 L840.5,544.1 L841.6,543.7 L842.7,543.3 L843.8,542.9 L845.0,542.5 L846.1,542.0 L847.1,541.6 L848.2,541.1 L849.3,540.6 L850.4,540.1 L851.5,539.6 L852.6,539.1 L853.6,538.6 L854.7,538.1 L855.7,537.5 L856.8,537.0 L857.8,536.4 L858.9,535.8 L859.9,535.2 L860.9,534.6 L862.0,534.0 L863.0,533.4 L864.0,532.8 L865.0,532.2 L866.0,531.5 L867.0,530.9 L868.0,530.2 L869.0,529.5 L870.0,528.9 L870.9,528.2 L871.9,527.5 L872.9,526.8 L873.8,526.1 L874.8,525.3 L875.7,524.6 L876.7,523.9 L877.6,523.1 L878.5,522.4 L879.5,521.6 L880.4,520.9 L881.3,520.1 L882.2,519.3 L883.1,518.5 L884.0,517.7 L884.9,516.9 L885.8,516.1 L886.6,515.3 L887.5,514.5 L888.4,513.6 L889.2,512.8 L890.1,511.9 L891.0,511.1 L891.8,510.2 L892.6,509.4 L893.5,508.5 L894.3,507.6 L895.1,506.8 L895.9,505.9 L896.7,505.0 L897.5,504.1 L898.3,503.2 L899.1,502.3 L899.9,501.4 L900.7,500.5 L901.4,499.5 L902.2,498.6 L903.0,497.7 L903.7,496.7 L904.5,495.8 L905.2,494.9 L905.9,493.9 L906.7,493.0 L907.4,492.0 L908.1,491.0 L908.8,490.1 L909.6,489.1 L910.3,488.1 L911.0,487.2 L911.7,486.2 L912.4,485.2 L913.1,484.2 L913.7,483.2 L914.4,482.2 L915.1,481.2 L915.8,480.2 L916.5,479.2 L917.1,478.2 L917.8,477.2 L918.4,476.2 L919.1,475.1 L919.7,474.1 L920.4,473.1 L921.0,472.1 L921.7,471.0 L922.3,470.0 L922.9,469.0 L923.6,467.9 L924.2,466.9 L924.8,465.9 L925.4,464.8 L926.1,463.8 L926.7,462.7 L927.3,461.7 L927.9,460.6 L928.5,459.6 L929.1,458.5 L929.7,457.5 L930.3,456.4 L930.9,455.4 L931.5,454.3 L932.1,453.3 L932.7,452.2 L933.3,451.1 L933.9,450.1 L934.4,449.0 L935.0,447.9 L935.6,446.9 L936.2,445.8 L936.7,444.8 L937.3,443.7 L937.9,442.6 L938.5,441.6 L939.0,440.5 L939.6,439.4 L940.2,438.4 L940.7,437.3 L941.3,436.2 L941.9,435.2 L942.4,434.1 L943.0,433.0 L943.6,432.0 L944.1,430.9 L944.7,429.8 L945.2,428.8 L945.8,427.7 L946.4,426.6 L946.9,425.6 L947.5,424.5 L948.0,423.4 L948.6,422.4 L949.1,421.3 L949.7,420.2 L950.2,419.2 L950.8,418.1 L951.3,417.1 L951.9,416.0 L952.4,414.9 L953.0,413.9 L953.5,412.8 L954.1,411.7 L954.6,410.7 L955.2,409.6 L955.7,408.5 L956.3,407.5 L956.8,406.4 L957.4,405.4 L957.9,404.3 L958.5,403.2 L959.0,402.2 L959.6,401.1 L960.1,400.1 L960.7,399.0 L961.2,397.9 L961.8,396.9 L962.3,395.8 L962.9,394.8 L963.4,393.7 L964.0,392.6 L964.5,391.6 L965.1,390.5 L965.7,389.5 L966.2,388.4 L966.8,387.3 L967.3,386.3 L967.9,385.2 L968.4,384.2 L969.0,383.1 L969.6,382.0 L970.1,381.0 L970.7,379.9 L971.2,378.9 L971.8,377.8 L972.4,376.8 L972.9,375.7 L973.5,374.7 L974.1,373.6 L974.6,372.5 L975.2,371.5 L975.8,370.4 L976.4,369.4 L976.9,368.3 L977.5,367.3 L978.1,366.2 L978.7,365.2 L979.3,364.1 L979.8,363.1 L980.4,362.0 L981.0,361.0 L981.6,359.9 L982.2,358.9 L982.8,357.8 L983.4,356.8 L984.0,355.7 L984.6,354.7 L985.2,353.6 L985.8,352.6 L986.4,351.6 L987.0,350.5 L987.7,349.5 L988.3,348.5 L988.9,347.4 L989.6,346.4 L990.2,345.4 L990.9,344.4 L991.5,343.4 L992.2,342.4 L992.9,341.4 L993.6,340.4 L994.3,339.4 L995.0,338.4 L995.7,337.4 L996.4,336.5 L997.1,335.5 L997.9,334.5 L998.6,333.6 L999.4,332.6 L1000.1,331.7 L1000.9,330.8 L1001.7,329.9 L1002.5,329.0 L1003.3,328.1 L1004.2,327.2 L1005.0,326.3 L1005.9,325.4 L1006.7,324.5 L1007.6,323.7 L1008.5,322.8 L1009.4,322.0 L1010.4,321.2 L1011.3,320.4 L1012.3,319.6 L1013.2,318.8 L1014.2,318.0 L1015.2,317.3 L1016.3,316.5 L1017.3,315.8 L1018.3,315.1 L1019.4,314.4 L1020.5,313.7 L1021.5,313.1 L1022.6,312.5 L1023.7,311.9 L1024.8,311.3 L1025.9,310.8 L1027.0,310.4 L1028.2,309.9 L1029.3,309.5 L1030.4,309.1 L1031.5,308.8 L1032.7,308.5 L1033.8,308.3 L1034.9,308.1 L1036.1,308.0 L1037.2,307.9 L1038.3,307.8 L1039.4,307.9 L1040.6,307.9 L1041.7,308.1 L1042.8,308.3 L1043.9,308.5 L1045.0,308.8 L1046.1,309.2 L1047.2,309.6 L1048.2,310.0 L1049.3,310.5 L1050.3,311.1 L1051.3,311.7 L1052.3,312.3 L1053.3,313.0 L1054.3,313.7 L1055.3,314.4 L1056.2,315.2 L1057.1,316.0 L1058.0,316.8 L1058.9,317.7 L1059.7,318.6 L1060.5,319.5 L1061.4,320.4 L1062.1,321.4 L1062.9,322.4 L1063.7,323.4 L1064.4,324.3 L1065.2,325.4 L1065.9,326.4 L1066.6,327.4 L1067.3,328.4 L1067.9,329.4 L1068.6,330.5 L1069.3,331.5 L1069.9,332.5 L1070.6,333.6 L1071.2,334.6 L1071.8,335.7 L1072.4,336.7 L1073.0,337.8 L1073.6,338.8 L1074.2,339.9 L1074.8,341.0 L1075.3,342.0 L1075.9,343.1 L1076.5,344.2 L1077.0,345.2 L1077.6,346.3 L1078.1,347.4 L1078.6,348.4 L1079.2,349.5 L1079.7,350.6 L1080.2,351.7 L1080.7,352.8 L1081.3,353.8 L1081.8,354.9 L1082.3,356.0 L1082.8,357.1 L1083.3,358.2 L1083.8,359.3 L1084.3,360.4 L1084.8,361.5 L1085.3,362.6 L1085.8,363.7 L1086.3,364.8 L1086.8,365.9 L1087.3,367.0 L1087.8,368.1 L1088.2,369.2 L1088.7,370.3 L1089.2,371.4 L1089.7,372.5 L1090.1,373.6 L1090.6,374.7 L1091.1,375.8 L1091.5,376.9 L1092.0,378.0 L1092.4,379.1 L1092.9,380.2 L1093.3,381.3 L1093.8,382.5 L1094.2,383.6 L1094.7,384.7 L1095.1,385.8 L1095.6,386.9 L1096.0,388.0 L1096.5,389.2 L1096.9,390.3 L1097.3,391.4 L1097.8,392.5 L1098.2,393.6 L1098.6,394.8 L1099.0,395.9 L1099.5,397.0 L1099.9,398.1 L1100.3,399.3 L1100.7,400.4 L1101.2,401.5 L1101.6,402.6 L1102.0,403.8 L1102.4,404.9 L1102.8,406.0 L1103.2,407.2 L1103.6,408.3 L1104.0,409.4 L1104.4,410.6 L1104.8,411.7 L1105.2,412.8 L1105.6,414.0 L1106.0,415.1 L1106.4,416.2 L1106.8,417.4 L1107.2,418.5 L1107.6,419.6 L1108.0,420.8 L1108.4,421.9 L1108.8,423.0 L1109.2,424.2 L1109.6,425.3 L1110.0,426.5 L1110.4,427.6 L1110.7,428.7 L1111.1,429.9 L1111.5,431.0 L1111.9,432.1 L1112.3,433.3 L1112.7,434.4 L1113.1,435.6 L1113.4,436.7 L1113.8,437.8 L1114.2,439.0 L1114.6,440.1 L1115.0,441.2 L1115.4,442.4 L1115.8,443.5 L1116.1,444.7 L1116.5,445.8 L1116.9,446.9 L1117.3,448.1 L1117.7,449.2 L1118.1,450.3 L1118.5,451.5 L1118.9,452.6 L1119.3,453.7 L1119.7,454.9 L1120.1,456.0 L1120.5,457.1 L1120.9,458.2 L1121.3,459.4 L1121.7,460.5 L1122.1,461.6 L1122.6,462.8 L1123.0,463.9 L1123.4,465.0 L1123.8,466.1 L1124.3,467.2 L1124.7,468.4 L1125.1,469.5 L1125.6,470.6 L1126.0,471.7 L1126.4,472.8 L1126.9,473.9 L1127.3,475.1 L1127.8,476.2 L1128.3,477.3 L1128.7,478.4 L1129.2,479.5 L1129.7,480.6 L1130.1,481.7 L1130.6,482.8 L1131.1,483.9 L1131.6,485.0 L1132.1,486.1 L1132.6,487.2 L1133.1,488.3 L1133.6,489.4 L1134.1,490.5 L1134.7,491.6 L1135.2,492.7 L1135.7,493.7 L1136.3,494.8 L1136.8,495.9 L1137.4,497.0 L1137.9,498.1 L1138.5,499.1 L1139.0,500.2 L1139.6,501.3 L1140.2,502.3 L1140.8,503.4 L1141.4,504.5 L1142.0,505.5 L1142.6,506.6 L1143.2,507.6 L1143.8,508.7 L1144.5,509.7 L1145.1,510.8 L1145.8,511.8 L1146.4,512.8 L1147.1,513.9 L1147.7,514.9 L1148.4,515.9 L1149.1,516.9 L1149.8,517.9 L1150.5,518.9 L1151.2,519.9 L1151.9,520.9 L1152.7,521.9 L1153.4,522.8 L1154.2,523.8 L1154.9,524.7 L1155.7,525.7 L1156.4,526.6 L1157.2,527.5 L1158.0,528.4 L1158.8,529.3 L1159.6,530.1 L1160.5,531.0 L1161.3,531.8 L1162.1,532.7 L1163.0,533.5 L1163.9,534.3 L1164.7,535.1 L1165.6,535.9 L1166.5,536.6 L1167.4,537.4 L1168.3,538.1 L1169.3,538.8 L1170.2,539.5 L1171.2,540.2 L1172.1,540.8 L1173.1,541.4 L1174.1,542.1 L1175.1,542.7 L1176.1,543.2 L1177.1,543.8 L1178.1,544.3 L1179.2,544.8 L1180.3,545.3 L1181.3,545.8 L1182.4,546.2 L1183.5,546.7 L1184.6,547.0 L1185.7,547.4 L1186.9,547.8 L1188.0,548.1 L1189.2,548.4 L1190.4,548.7 L1191.6,548.9 L1192.8,549.1 L1194.0,549.3 L1195.2,549.5 L1196.5,549.6 L1197.7,549.7 L1199.0,549.8 L1200.3,549.9 L1201.6,549.9 L1202.9,549.9 L1204.2,549.9 L1205.6,549.8 L1207.0,549.7" stroke-linecap="round"/>
<path d="M802.9,550.4 L804.2,550.6 L805.6,550.7 L806.9,550.8 L808.1,550.8 L809.4,550.8 L810.6,550.7 L811.9,550.5 L813.0,550.3 L814.2,550.1 L815.4,549.8 L816.5,549.4 L817.6,549.0 L818.7,548.6 L819.8,548.1 L820.8,547.6 L821.8,547.0 L822.8,546.4 L823.8,545.8 L824.8,545.2 L825.8,544.5 L826.7,543.7 L827.6,543.0 L828.5,542.2 L829.4,541.4 L830.2,540.5 L831.1,539.7 L831.9,538.8 L832.7,537.9 L833.5,537.0 L834.3,536.0 L835.0,535.1 L835.8,534.1 L836.5,533.1 L837.2,532.2 L837.9,531.2 L838.6,530.2 L839.2,529.1 L839.9,528.1 L840.5,527.1 L841.1,526.1 L841.8,525.0 L842.3,524.0 L842.9,522.9 L843.5,521.9 L844.1,520.8 L844.6,519.8 L845.1,518.7 L845.6,517.6 L846.2,516.5 L846.7,515.4 L847.1,514.3 L847.6,513.3 L848.1,512.2 L848.5,511.0 L849.0,509.9 L849.4,508.8 L849.8,507.7 L850.3,506.6 L850.7,505.5 L851.1,504.3 L851.5,503.2 L851.9,502.1 L852.2,500.9 L852.6,499.8 L853.0,498.7 L853.3,497.5 L853.7,496.4 L854.0,495.2 L854.3,494.1 L854.7,492.9 L855.0,491.7 L855.3,490.6 L855.6,489.4 L856.0,488.2 L856.3,487.1 L856.6,485.9 L856.9,484.7 L857.2,483.6 L857.5,482.4 L857.8,481.2 L858.1,480.1 L858.3,478.9 L858.6,477.7 L858.9,476.5 L859.2,475.4 L859.5,474.2 L859.7,473.0 L860.0,471.8 L860.3,470.7 L860.6,469.5 L860.8,468.3 L861.1,467.1 L861.4,465.9 L861.6,464.7 L861.9,463.6 L862.1,462.4 L862.4,461.2 L862.7,460.0 L862.9,458.8 L863.2,457.7 L863.4,456.5 L863.7,455.3 L863.9,454.1 L864.2,452.9 L864.4,451.7 L864.7,450.6 L864.9,449.4 L865.2,448.2 L865.4,447.0 L865.7,445.8 L865.9,444.6 L866.2,443.5 L866.4,442.3 L866.7,441.1 L866.9,439.9 L867.2,438.7 L867.4,437.5 L867.7,436.4 L867.9,435.2 L868.2,434.0 L868.5,432.8 L868.7,431.6 L869.0,430.5 L869.2,429.3 L869.5,428.1 L869.7,426.9 L870.0,425.8 L870.2,424.6 L870.5,423.4 L870.8,422.2 L871.0,421.1 L871.3,419.9 L871.6,418.7 L871.8,417.6 L872.1,416.4 L872.4,415.2 L872.6,414.1 L872.9,412.9 L873.2,411.7 L873.5,410.6 L873.8,409.4 L874.0,408.3 L874.3,407.1 L874.6,405.9 L874.9,404.8 L875.2,403.6 L875.5,402.5 L875.8,401.3 L876.1,400.2 L876.4,399.0 L876.7,397.9 L877.0,396.7 L877.3,395.6 L877.7,394.4 L878.0,393.3 L878.3,392.2 L878.6,391.0 L879.0,389.9 L879.3,388.8 L879.6,387.6 L880.0,386.5 L880.3,385.4 L880.7,384.3 L881.0,383.1 L881.4,382.0 L881.8,380.9 L882.1,379.8 L882.5,378.7 L882.9,377.6 L883.3,376.4 L883.6,375.3 L884.0,374.2 L884.5,373.1 L884.9,372.0 L885.3,370.8 L885.7,369.7 L886.2,368.5 L886.7,367.4 L887.2,366.2 L887.7,365.0 L888.2,363.8 L888.7,362.6 L889.3,361.4 L889.9,360.2 L890.5,359.0 L891.1,357.8 L891.8,356.7 L892.5,355.6 L893.2,354.5 L893.9,353.6 L894.7,352.7 L895.6,351.9 L896.5,351.2 L897.4,350.6 L898.4,350.1 L899.4,349.7 L900.5,349.5 L901.6,349.3 L902.7,349.3 L903.9,349.3 L905.1,349.4 L906.3,349.5 L907.6,349.6 L908.8,349.8 L910.1,349.9 L911.3,350.1 L912.6,350.2 L913.8,350.2 L915.0,350.2 L916.2,350.2 L917.4,350.0 L918.5,349.8 L919.6,349.5 L920.7,349.2 L921.8,348.7 L922.8,348.3 L923.9,347.7 L924.8,347.1 L925.8,346.5 L926.7,345.7 L927.6,345.0 L928.4,344.2 L929.3,343.3 L930.1,342.5 L930.8,341.5 L931.5,340.6 L932.2,339.6 L932.8,338.6 L933.5,337.5 L934.0,336.5 L934.6,335.4 L935.1,334.3 L935.6,333.1 L936.1,332.0 L936.6,330.8 L937.1,329.7 L937.5,328.5 L938.0,327.3 L938.4,326.1 L938.8,324.9 L939.2,323.7 L939.6,322.4 L940.0,321.2 L940.4,320.0 L940.9,318.8 L941.3,317.6 L941.7,316.4 L942.1,315.3 L942.6,314.1 L943.0,312.9 L943.5,311.8 L943.9,310.7 L944.4,309.5 L944.8,308.4 L945.3,307.3 L945.8,306.2 L946.2,305.1 L946.7,304.0 L947.2,302.9 L947.6,301.8 L948.1,300.7 L948.5,299.7 L949.0,298.6 L949.4,297.5 L949.9,296.4 L950.3,295.4 L950.7,294.3 L951.2,293.3 L951.6,292.2 L952.0,291.1 L952.4,290.1 L952.8,289.0 L953.1,288.0 L953.5,286.9 L953.9,285.8 L954.3,284.8 L954.7,283.7 L955.1,282.6 L955.5,281.5 L955.9,280.4 L956.3,279.4 L956.8,278.3 L957.3,277.1 L957.8,276.0 L958.3,274.9 L958.8,273.8 L959.4,272.6 L960.0,271.4 L960.6,270.3 L961.3,269.1 L962.0,267.9 L962.7,266.7 L963.5,265.5 L964.3,264.4 L965.2,263.4 L966.1,262.4 L967.0,261.6 L968.0,260.9 L968.9,260.3 L969.9,259.9 L970.9,259.7 L971.9,259.8 L972.9,260.0 L973.8,260.5 L974.8,261.1 L975.7,261.9 L976.5,262.8 L977.4,263.8 L978.2,264.8 L979.0,265.9 L979.7,267.0 L980.4,268.1 L981.0,269.2 L981.6,270.3 L982.2,271.4 L982.8,272.6 L983.3,273.7 L983.7,274.8 L984.2,276.0 L984.6,277.1 L985.0,278.3 L985.4,279.4 L985.8,280.6 L986.1,281.7 L986.5,282.9 L986.8,284.0 L987.1,285.2 L987.4,286.4 L987.7,287.5 L987.9,288.7 L988.2,289.9 L988.5,291.1 L988.8,292.2 L989.0,293.4 L989.3,294.6 L989.6,295.7 L989.8,296.9 L990.1,298.1 L990.4,299.2 L990.6,300.4 L990.9,301.6 L991.2,302.7 L991.5,303.9 L991.7,305.1 L992.0,306.3 L992.3,307.4 L992.5,308.6 L992.8,309.8 L993.1,310.9 L993.3,312.1 L993.6,313.3 L993.8,314.4 L994.1,315.6 L994.4,316.8 L994.6,318.0 L994.9,319.1 L995.2,320.3 L995.4,321.5 L995.7,322.6 L995.9,323.8 L996.2,325.0 L996.4,326.2 L996.7,327.3 L996.9,328.5 L997.2,329.7 L997.4,330.9 L997.7,332.0 L997.9,333.2 L998.2,334.4 L998.4,335.6 L998.7,336.7 L998.9,337.9 L999.1,339.1 L999.4,340.3 L999.6,341.4 L999.8,342.6 L1000.1,343.8 L1000.3,345.0 L1000.5,346.2 L1000.7,347.3 L1001.0,348.5 L1001.2,349.7 L1001.4,350.9 L1001.6,352.1 L1001.8,353.3 L1002.0,354.4 L1002.2,355.6 L1002.5,356.8 L1002.7,358.0 L1002.9,359.2 L1003.1,360.4 L1003.3,361.6 L1003.5,362.7 L1003.7,363.9 L1004.0,365.1 L1004.2,366.3 L1004.4,367.5 L1004.6,368.7 L1004.8,369.9 L1005.1,371.0 L1005.3,372.2 L1005.5,373.4 L1005.7,374.6 L1006.0,375.8 L1006.2,377.0 L1006.4,378.1 L1006.7,379.3 L1006.9,380.5 L1007.2,381.7 L1007.4,382.9 L1007.7,384.1 L1007.9,385.2 L1008.2,386.4 L1008.4,387.6 L1008.7,388.8 L1009.0,389.9 L1009.3,391.1 L1009.5,392.3 L1009.8,393.5 L1010.1,394.6 L1010.4,395.8 L1010.7,397.0 L1011.0,398.1 L1011.3,399.3 L1011.7,400.5 L1012.0,401.6 L1012.3,402.8 L1012.6,404.0 L1013.0,405.1 L1013.3,406.3 L1013.6,407.4 L1013.9,408.6 L1014.3,409.7 L1014.6,410.9 L1014.9,412.0 L1015.3,413.1 L1015.6,414.3 L1015.9,415.4 L1016.2,416.6 L1016.5,417.7 L1016.8,418.8 L1017.2,419.9 L1017.5,421.0 L1017.8,422.2 L1018.1,423.3 L1018.4,424.4 L1018.8,425.5 L1019.1,426.6 L1019.5,427.8 L1019.9,428.9 L1020.4,430.1 L1020.9,431.2 L1021.4,432.4 L1022.0,433.6 L1022.6,434.7 L1023.2,435.9 L1023.9,437.0 L1024.7,438.1 L1025.4,439.2 L1026.3,440.2 L1027.1,441.1 L1028.0,442.0 L1028.9,442.8 L1029.9,443.5 L1030.8,444.1 L1031.9,444.6 L1032.9,445.0 L1034.0,445.2 L1035.1,445.4 L1036.2,445.4 L1037.4,445.3 L1038.6,445.0 L1039.8,444.7 L1041.0,444.4 L1042.2,444.0 L1043.4,443.6 L1044.6,443.2 L1045.9,442.8 L1047.1,442.4 L1048.3,442.1 L1049.5,441.9 L1050.6,441.8 L1051.8,441.8 L1052.9,441.9 L1053.9,442.2 L1055.0,442.6 L1056.0,443.2 L1057.0,443.9 L1057.9,444.6 L1058.8,445.5 L1059.7,446.4 L1060.5,447.4 L1061.3,448.4 L1062.1,449.4 L1062.8,450.5 L1063.5,451.6 L1064.2,452.7 L1064.8,453.7 L1065.4,454.9 L1066.0,456.0 L1066.5,457.1 L1067.1,458.2 L1067.6,459.3 L1068.1,460.4 L1068.6,461.5 L1069.1,462.6 L1069.6,463.7 L1070.1,464.8 L1070.6,465.9 L1071.1,467.0 L1071.6,468.1 L1072.1,469.1 L1072.6,470.2 L1073.1,471.2 L1073.6,472.3 L1074.1,473.3 L1074.6,474.4 L1075.1,475.4 L1075.5,476.5 L1076.0,477.5 L1076.5,478.6 L1077.0,479.7 L1077.4,480.7 L1077.9,481.8 L1078.4,482.8 L1078.8,483.9 L1079.3,485.0 L1079.7,486.1 L1080.2,487.2 L1080.6,488.3 L1081.1,489.4 L1081.5,490.5 L1081.9,491.7 L1082.4,492.8 L1082.8,493.9 L1083.2,495.1 L1083.6,496.2 L1084.1,497.4 L1084.5,498.5 L1084.9,499.7 L1085.3,500.9 L1085.8,502.0 L1086.2,503.2 L1086.6,504.4 L1087.1,505.5 L1087.5,506.7 L1088.0,507.8 L1088.4,509.0 L1088.9,510.1 L1089.3,511.3 L1089.8,512.4 L1090.3,513.6 L1090.7,514.7 L1091.2,515.9 L1091.7,517.0 L1092.2,518.1 L1092.7,519.2 L1093.3,520.3 L1093.8,521.4 L1094.4,522.5 L1094.9,523.5 L1095.5,524.6 L1096.1,525.7 L1096.7,526.7 L1097.3,527.7 L1097.9,528.7 L1098.5,529.7 L1099.2,530.7 L1099.8,531.7 L1100.5,532.6 L1101.2,533.5 L1101.9,534.5 L1102.7,535.4 L1103.4,536.2 L1104.2,537.1 L1105.0,537.9 L1105.8,538.8 L1106.6,539.6 L1107.5,540.3 L1108.3,541.1 L1109.2,541.8 L1110.2,542.5 L1111.1,543.2 L1112.1,543.9 L1113.0,544.5 L1114.0,545.1 L1115.1,545.7 L1116.1,546.3 L1117.2,546.8 L1118.3,547.3 L1119.5,547.8 L1120.6,548.2 L1121.8,548.6 L1123.1,549.0 L1124.3,549.3 L1125.6,549.7 L1126.9,550.0 L1128.2,550.2" stroke-dasharray="15.5 10.5" stroke-width="2.30"/>
<path d="M894.4,550.9 L895.8,550.6 L897.1,550.4 L898.4,550.1 L899.6,549.8 L900.8,549.4 L902.0,549.0 L903.2,548.6 L904.4,548.1 L905.5,547.7 L906.6,547.2 L907.6,546.6 L908.7,546.1 L909.7,545.5 L910.7,544.9 L911.6,544.2 L912.6,543.6 L913.5,542.9 L914.4,542.2 L915.2,541.5 L916.1,540.7 L916.9,539.9 L917.7,539.1 L918.5,538.3 L919.2,537.5 L920.0,536.6 L920.7,535.7 L921.4,534.8 L922.1,533.9 L922.8,533.0 L923.4,532.0 L924.0,531.0 L924.6,530.0 L925.2,529.0 L925.8,528.0 L926.4,527.0 L926.9,526.0 L927.5,524.9 L928.0,523.8 L928.5,522.7 L929.0,521.6 L929.4,520.5 L929.9,519.4 L930.4,518.3 L930.8,517.2 L931.2,516.0 L931.6,514.9 L932.0,513.7 L932.4,512.6 L932.8,511.4 L933.2,510.2 L933.6,509.0 L933.9,507.8 L934.3,506.7 L934.6,505.5 L935.0,504.3 L935.3,503.1 L935.6,501.9 L935.9,500.7 L936.2,499.5 L936.5,498.3 L936.8,497.1 L937.1,495.9 L937.4,494.7 L937.7,493.5 L938.0,492.3 L938.3,491.1 L938.5,489.9 L938.8,488.7 L939.1,487.5 L939.4,486.3 L939.6,485.1 L939.9,483.9 L940.1,482.7 L940.4,481.5 L940.6,480.3 L940.9,479.2 L941.1,478.0 L941.4,476.8 L941.6,475.6 L941.8,474.4 L942.1,473.2 L942.3,472.1 L942.5,470.9 L942.7,469.7 L943.0,468.5 L943.2,467.4 L943.4,466.2 L943.6,465.0 L943.8,463.8 L944.0,462.6 L944.3,461.5 L944.5,460.3 L944.7,459.1 L944.9,457.9 L945.1,456.8 L945.3,455.6 L945.5,454.4 L945.7,453.2 L945.9,452.1 L946.1,450.9 L946.3,449.7 L946.4,448.6 L946.6,447.4 L946.8,446.2 L947.0,445.0 L947.2,443.9 L947.4,442.7 L947.6,441.5 L947.8,440.3 L947.9,439.2 L948.1,438.0 L948.3,436.8 L948.5,435.6 L948.7,434.5 L948.9,433.3 L949.0,432.1 L949.2,430.9 L949.4,429.7 L949.6,428.6 L949.8,427.4 L950.0,426.2 L950.1,425.0 L950.3,423.8 L950.5,422.7 L950.7,421.5 L950.9,420.3 L951.0,419.1 L951.2,417.9 L951.4,416.8 L951.6,415.6 L951.8,414.4 L951.9,413.2 L952.1,412.0 L952.3,410.8 L952.5,409.7 L952.6,408.5 L952.8,407.3 L953.0,406.1 L953.2,404.9 L953.3,403.7 L953.5,402.5 L953.7,401.3 L953.9,400.2 L954.0,399.0 L954.2,397.8 L954.4,396.6 L954.6,395.4 L954.7,394.2 L954.9,393.0 L955.1,391.8 L955.3,390.6 L955.4,389.5 L955.6,388.3 L955.8,387.1 L956.0,385.9 L956.1,384.7 L956.3,383.5 L956.5,382.3 L956.6,381.1 L956.8,379.9 L957.0,378.7 L957.2,377.5 L957.3,376.4 L957.5,375.2 L957.7,374.0 L957.8,372.8 L958.0,371.6 L958.2,370.4 L958.3,369.2 L958.5,368.0 L958.7,366.8 L958.8,365.6 L959.0,364.4 L959.2,363.2 L959.4,362.0 L959.5,360.8 L959.7,359.6 L959.9,358.5 L960.0,357.3 L960.2,356.1 L960.4,354.9 L960.5,353.7 L960.7,352.5 L960.9,351.3 L961.0,350.1 L961.2,348.9 L961.3,347.7 L961.5,346.5 L961.7,345.3 L961.8,344.1 L962.0,342.9 L962.2,341.7 L962.3,340.5 L962.5,339.3 L962.7,338.1 L962.8,337.0 L963.0,335.8 L963.1,334.6 L963.3,333.4 L963.5,332.2 L963.6,331.0 L963.8,329.8 L964.0,328.6 L964.1,327.4 L964.3,326.2 L964.4,325.0 L964.6,323.8 L964.8,322.6 L964.9,321.4 L965.1,320.2 L965.2,319.0 L965.4,317.8 L965.6,316.7 L965.7,315.5 L965.9,314.3 L966.0,313.1 L966.2,311.9 L966.4,310.7 L966.5,309.5 L966.7,308.3 L966.9,307.1 L967.0,305.9 L967.2,304.7 L967.4,303.5 L967.5,302.3 L967.7,301.2 L967.9,300.0 L968.0,298.8 L968.2,297.6 L968.4,296.4 L968.5,295.2 L968.7,294.0 L968.9,292.8 L969.0,291.6 L969.2,290.5 L969.4,289.3 L969.6,288.1 L969.7,286.9 L969.9,285.7 L970.1,284.5 L970.3,283.3 L970.4,282.1 L970.6,281.0 L970.8,279.8 L971.0,278.6 L971.2,277.4 L971.4,276.2 L971.5,275.0 L971.7,273.9 L971.9,272.7 L972.1,271.5 L972.3,270.3 L972.5,269.1 L972.7,267.9 L972.9,266.8 L973.1,265.6 L973.3,264.4 L973.5,263.2 L973.7,262.0 L973.9,260.9 L974.1,259.7 L974.3,258.5 L974.5,257.3 L974.7,256.2 L974.9,255.0 L975.1,253.8 L975.4,252.6 L975.6,251.5 L975.8,250.3 L976.0,249.1 L976.2,247.9 L976.5,246.8 L976.7,245.6 L976.9,244.4 L977.1,243.3 L977.4,242.1 L977.6,240.9 L977.9,239.8 L978.1,238.6 L978.3,237.4 L978.6,236.3 L978.8,235.1 L979.1,233.9 L979.3,232.8 L979.6,231.6 L979.8,230.4 L980.1,229.3 L980.4,228.1 L980.6,226.9 L980.9,225.8 L981.2,224.6 L981.4,223.5 L981.7,222.3 L982.0,221.2 L982.3,220.0 L982.6,218.8 L982.8,217.7 L983.1,216.5 L983.4,215.4 L983.7,214.2 L984.0,213.1 L984.3,211.9 L984.6,210.7 L985.0,209.6 L985.3,208.4 L985.7,207.2 L986.0,206.0 L986.4,204.9 L986.8,203.7 L987.1,202.4 L987.6,201.2 L988.0,200.0 L988.4,198.8 L988.9,197.5 L989.3,196.2 L989.8,195.0 L990.4,193.7 L990.9,192.4 L991.5,191.2 L992.1,190.0 L992.7,188.8 L993.4,187.7 L994.1,186.7 L994.8,185.7 L995.6,184.9 L996.4,184.1 L997.3,183.4 L998.2,182.8 L999.1,182.3 L1000.0,182.0 L1001.0,181.8 L1002.0,181.7 L1002.9,181.7 L1003.9,181.9 L1004.8,182.2 L1005.8,182.6 L1006.7,183.1 L1007.6,183.8 L1008.5,184.5 L1009.3,185.3 L1010.2,186.2 L1011.0,187.1 L1011.9,188.1 L1012.7,189.2 L1013.4,190.2 L1014.2,191.3 L1014.9,192.4 L1015.6,193.5 L1016.3,194.6 L1017.0,195.7 L1017.6,196.8 L1018.2,197.9 L1018.8,199.1 L1019.4,200.2 L1020.0,201.3 L1020.5,202.4 L1021.0,203.5 L1021.5,204.6 L1022.0,205.7 L1022.5,206.9 L1023.0,208.0 L1023.4,209.1 L1023.8,210.2 L1024.3,211.3 L1024.7,212.5 L1025.1,213.6 L1025.4,214.7 L1025.8,215.8 L1026.2,217.0 L1026.6,218.1 L1026.9,219.2 L1027.3,220.3 L1027.6,221.5 L1027.9,222.6 L1028.3,223.7 L1028.6,224.9 L1028.9,226.0 L1029.2,227.1 L1029.6,228.3 L1029.9,229.4 L1030.2,230.5 L1030.5,231.7 L1030.9,232.8 L1031.2,234.0 L1031.5,235.1 L1031.9,236.2 L1032.2,237.4 L1032.5,238.5 L1032.9,239.7 L1033.2,240.8 L1033.6,241.9 L1033.9,243.1 L1034.3,244.2 L1034.6,245.4 L1035.0,246.5 L1035.4,247.7 L1035.7,248.8 L1036.1,249.9 L1036.5,251.1 L1036.8,252.2 L1037.2,253.4 L1037.6,254.5 L1037.9,255.7 L1038.3,256.8 L1038.7,258.0 L1039.1,259.1 L1039.4,260.3 L1039.8,261.4 L1040.2,262.6 L1040.6,263.7 L1041.0,264.9 L1041.3,266.0 L1041.7,267.1 L1042.1,268.3 L1042.5,269.4 L1042.8,270.6 L1043.2,271.7 L1043.6,272.9 L1044.0,274.0 L1044.3,275.2 L1044.7,276.3 L1045.1,277.5 L1045.5,278.6 L1045.8,279.8 L1046.2,280.9 L1046.6,282.1 L1047.0,283.2 L1047.3,284.3 L1047.7,285.5 L1048.1,286.6 L1048.4,287.8 L1048.8,288.9 L1049.2,290.1 L1049.6,291.2 L1049.9,292.4 L1050.3,293.5 L1050.7,294.7 L1051.0,295.8 L1051.4,296.9 L1051.8,298.1 L1052.1,299.2 L1052.5,300.4 L1052.9,301.5 L1053.2,302.7 L1053.6,303.8 L1053.9,305.0 L1054.3,306.1 L1054.7,307.3 L1055.0,308.4 L1055.4,309.5 L1055.8,310.7 L1056.1,311.8 L1056.5,313.0 L1056.8,314.1 L1057.2,315.3 L1057.5,316.4 L1057.9,317.6 L1058.3,318.7 L1058.6,319.9 L1059.0,321.0 L1059.3,322.1 L1059.7,323.3 L1060.0,324.4 L1060.4,325.6 L1060.7,326.7 L1061.1,327.9 L1061.4,329.0 L1061.8,330.2 L1062.1,331.3 L1062.5,332.5 L1062.8,333.6 L1063.2,334.8 L1063.5,335.9 L1063.9,337.1 L1064.2,338.2 L1064.6,339.4 L1064.9,340.5 L1065.2,341.7 L1065.6,342.8 L1065.9,344.0 L1066.3,345.1 L1066.6,346.3 L1067.0,347.4 L1067.3,348.6 L1067.6,349.7 L1068.0,350.9 L1068.3,352.0 L1068.6,353.2 L1069.0,354.3 L1069.3,355.5 L1069.6,356.6 L1070.0,357.8 L1070.3,358.9 L1070.6,360.1 L1071.0,361.3 L1071.3,362.4 L1071.6,363.6 L1072.0,364.7 L1072.3,365.9 L1072.6,367.0 L1072.9,368.2 L1073.3,369.3 L1073.6,370.5 L1073.9,371.7 L1074.2,372.8 L1074.6,374.0 L1074.9,375.1 L1075.2,376.3 L1075.5,377.4 L1075.8,378.6 L1076.2,379.8 L1076.5,380.9 L1076.8,382.1 L1077.1,383.2 L1077.4,384.4 L1077.7,385.6 L1078.1,386.7 L1078.4,387.9 L1078.7,389.0 L1079.0,390.2 L1079.3,391.3 L1079.6,392.5 L1080.0,393.7 L1080.3,394.8 L1080.6,396.0 L1080.9,397.2 L1081.2,398.3 L1081.5,399.5 L1081.8,400.6 L1082.2,401.8 L1082.5,403.0 L1082.8,404.1 L1083.1,405.3 L1083.4,406.4 L1083.7,407.6 L1084.0,408.8 L1084.3,409.9 L1084.6,411.1 L1085.0,412.2 L1085.3,413.4 L1085.6,414.6 L1085.9,415.7 L1086.2,416.9 L1086.5,418.1 L1086.8,419.2 L1087.1,420.4 L1087.4,421.5 L1087.7,422.7 L1088.1,423.9 L1088.4,425.0 L1088.7,426.2 L1089.0,427.4 L1089.3,428.5 L1089.6,429.7 L1089.9,430.8 L1090.2,432.0 L1090.5,433.2 L1090.8,434.3 L1091.2,435.5 L1091.5,436.6 L1091.8,437.8 L1092.1,439.0 L1092.4,440.1 L1092.7,441.3 L1093.0,442.5 L1093.3,443.6 L1093.6,444.8 L1094.0,445.9 L1094.3,447.1 L1094.6,448.3 L1094.9,449.4 L1095.2,450.6 L1095.5,451.7 L1095.8,452.9 L1096.1,454.1 L1096.5,455.2 L1096.8,456.4 L1097.1,457.5 L1097.4,458.7 L1097.7,459.9 L1098.0,461.0 L1098.4,462.2 L1098.7,463.3 L1099.0,464.5 L1099.3,465.6 L1099.6,466.8 L1100.0,468.0 L1100.3,469.1 L1100.6,470.3 L1100.9,471.4 L1101.2,472.6 L1101.6,473.7 L1101.9,474.9 L1102.2,476.1 L1102.5,477.2 L1102.9,478.4 L1103.2,479.5 L1103.5,480.7 L1103.9,481.8 L1104.2,483.0 L1104.5,484.1 L1104.9,485.3 L1105.2,486.4 L1105.6,487.6 L1105.9,488.7 L1106.3,489.9 L1106.7,491.0 L1107.0,492.1 L1107.4,493.3 L1107.8,494.4 L1108.1,495.6 L1108.5,496.7 L1108.9,497.8 L1109.3,499.0 L1109.7,500.1 L1110.1,501.2 L1110.5,502.4 L1110.9,503.5 L1111.4,504.6 L1111.8,505.7 L1112.2,506.9 L1112.7,508.0 L1113.1,509.1 L1113.6,510.2 L1114.1,511.3 L1114.5,512.4 L1115.0,513.5 L1115.5,514.6 L1116.0,515.7 L1116.5,516.8 L1117.0,517.9 L1117.5,519.0 L1118.1,520.1 L1118.6,521.2 L1119.2,522.3 L1119.7,523.4 L1120.3,524.4 L1120.9,525.5 L1121.5,526.6 L1122.1,527.6 L1122.7,528.7 L1123.3,529.7 L1124.0,530.8 L1124.6,531.8 L1125.3,532.8 L1126.0,533.8 L1126.7,534.8 L1127.4,535.7 L1128.1,536.7 L1128.9,537.6 L1129.6,538.5 L1130.4,539.3 L1131.2,540.2 L1132.1,541.0 L1132.9,541.8 L1133.8,542.6 L1134.7,543.3 L1135.6,544.0 L1136.5,544.7 L1137.5,545.4 L1138.4,546.0 L1139.4,546.5 L1140.5,547.1 L1141.5,547.6 L1142.6,548.0 L1143.7,548.5 L1144.8,548.8 L1146.0,549.2 L1147.2,549.4 L1148.4,549.7 L1149.7,549.9 L1150.9,550.0 L1152.2,550.1 L1153.6,550.1 L1154.9,550.1 L1156.3,550.1" stroke-dasharray="12.5 5.5 3 5" stroke-width="2.30"/>
</g>
<g stroke="#555555" stroke-width="1" fill="none" stroke-linecap="square">
<path d="M795.60,50.50 H1296.10 M795.60,551.50 H1296.10"/>
<path d="M795.60,551.50 H788.10 M1296.10,551.50 H1303.60"/>
<path d="M795.60,468.00 H788.10 M1296.10,468.00 H1303.60"/>
<path d="M795.60,384.50 H788.10 M1296.10,384.50 H1303.60"/>
<path d="M795.60,301.00 H788.10 M1296.10,301.00 H1303.60"/>
<path d="M795.60,217.50 H788.10 M1296.10,217.50 H1303.60"/>
<path d="M795.60,134.00 H788.10 M1296.10,134.00 H1303.60"/>
<path d="M795.60,50.50 H788.10 M1296.10,50.50 H1303.60"/>
</g>
<g stroke="#262626" stroke-width="1" fill="none">
<path d="M795.60,50.50 V551.50 M1296.10,50.50 V551.50"/>
<path d="M795.60,551.50 V559.00 M795.60,50.50 V43.00"/>
<path d="M895.70,551.50 V559.00 M895.70,50.50 V43.00"/>
<path d="M995.80,551.50 V559.00 M995.80,50.50 V43.00"/>
<path d="M1095.90,551.50 V559.00 M1095.90,50.50 V43.00"/>
<path d="M1196.00,551.50 V559.00 M1196.00,50.50 V43.00"/>
<path d="M1296.10,551.50 V559.00 M1296.10,50.50 V43.00"/>
</g>
<g fill="#262626" font-size="25.0" letter-spacing="0.6">
<text x="795.60" y="592.50" text-anchor="middle">0.7</text>
<text x="895.70" y="592.50" text-anchor="middle">0.8</text>
<text x="995.80" y="592.50" text-anchor="middle">0.9</text>
<text x="1095.90" y="592.50" text-anchor="middle">1</text>
<text x="1196.00" y="592.50" text-anchor="middle">1.1</text>
<text x="1296.10" y="592.50" text-anchor="middle">1.2</text>
<text x="779.70" y="561.80" text-anchor="end">0</text>
<text x="779.70" y="478.30" text-anchor="end">2</text>
<text x="779.70" y="394.80" text-anchor="end">4</text>
<text x="779.70" y="311.30" text-anchor="end">6</text>
<text x="779.70" y="227.80" text-anchor="end">8</text>
<text x="779.70" y="144.30" text-anchor="end">10</text>
<text x="779.70" y="60.80" text-anchor="end">12</text>
</g>
<text x="1045.85" y="627.00" font-size="27.7" fill="#262626" text-anchor="middle" letter-spacing="0.00">Body size (mm)</text>
<text transform="translate(739.50,300.15) rotate(-90)" font-size="27.7" fill="#262626" text-anchor="middle">Density</text>
<clipPath id="clipC"><rect x="103.00" y="683.80" width="502.50" height="502.60"/></clipPath>
<g clip-path="url(#clipC)" fill="none" stroke="#0000ff" stroke-width="3.20" stroke-linejoin="round">
<path d="M172.0,1184.8 L173.6,1184.5 L175.1,1184.1 L176.3,1183.7 L177.4,1183.0 L178.3,1182.3 L179.1,1181.5 L179.8,1180.6 L180.3,1179.7 L180.7,1178.6 L181.1,1177.6 L181.4,1176.4 L181.6,1175.3 L181.8,1174.1 L182.0,1172.9 L182.2,1171.7 L182.3,1170.5 L182.5,1169.4 L182.6,1168.2 L182.8,1167.0 L182.9,1165.8 L183.0,1164.6 L183.2,1163.4 L183.3,1162.2 L183.4,1161.0 L183.5,1159.8 L183.6,1158.6 L183.8,1157.4 L183.9,1156.2 L183.9,1155.0 L184.0,1153.8 L184.1,1152.6 L184.2,1151.4 L184.3,1150.2 L184.4,1149.0 L184.4,1147.8 L184.5,1146.6 L184.6,1145.4 L184.6,1144.2 L184.7,1143.0 L184.8,1141.8 L184.8,1140.6 L184.9,1139.4 L184.9,1138.2 L185.0,1137.0 L185.0,1135.8 L185.0,1134.5 L185.1,1133.3 L185.1,1132.1 L185.2,1130.9 L185.2,1129.7 L185.2,1128.5 L185.3,1127.3 L185.3,1126.1 L185.3,1124.9 L185.4,1123.7 L185.4,1122.5 L185.4,1121.3 L185.4,1120.1 L185.5,1118.8 L185.5,1117.6 L185.5,1116.4 L185.5,1115.2 L185.6,1114.0 L185.6,1112.8 L185.6,1111.6 L185.6,1110.4 L185.7,1109.2 L185.7,1108.0 L185.7,1106.8 L185.7,1105.6 L185.8,1104.4 L185.8,1103.2 L185.8,1102.0 L185.8,1100.8 L185.9,1099.6 L185.9,1098.3 L185.9,1097.1 L185.9,1095.9 L186.0,1094.7 L186.0,1093.5 L186.0,1092.3 L186.0,1091.1 L186.1,1089.9 L186.1,1088.7 L186.1,1087.5 L186.1,1086.3 L186.2,1085.1 L186.2,1083.9 L186.2,1082.7 L186.2,1081.5 L186.2,1080.3 L186.3,1079.1 L186.3,1077.9 L186.3,1076.7 L186.3,1075.5 L186.4,1074.3 L186.4,1073.1 L186.4,1071.9 L186.4,1070.7 L186.4,1069.5 L186.5,1068.3 L186.5,1067.1 L186.5,1065.9 L186.5,1064.7 L186.5,1063.5 L186.6,1062.3 L186.6,1061.1 L186.6,1059.9 L186.6,1058.7 L186.6,1057.5 L186.7,1056.3 L186.7,1055.1 L186.7,1053.9 L186.7,1052.7 L186.7,1051.5 L186.8,1050.3 L186.8,1049.1 L186.8,1047.8 L186.8,1046.6 L186.8,1045.4 L186.9,1044.2 L186.9,1043.0 L186.9,1041.8 L186.9,1040.6 L186.9,1039.4 L186.9,1038.2 L187.0,1037.0 L187.0,1035.8 L187.0,1034.6 L187.0,1033.4 L187.0,1032.3 L187.1,1031.1 L187.1,1029.9 L187.1,1028.7 L187.1,1027.5 L187.1,1026.3 L187.1,1025.1 L187.2,1023.9 L187.2,1022.7 L187.2,1021.5 L187.2,1020.3 L187.2,1019.1 L187.2,1017.9 L187.3,1016.7 L187.3,1015.5 L187.3,1014.3 L187.3,1013.1 L187.3,1011.9 L187.3,1010.7 L187.4,1009.5 L187.4,1008.3 L187.4,1007.1 L187.4,1005.9 L187.4,1004.7 L187.4,1003.5 L187.5,1002.3 L187.5,1001.1 L187.5,999.9 L187.5,998.7 L187.5,997.5 L187.5,996.3 L187.6,995.1 L187.6,993.9 L187.6,992.7 L187.6,991.5 L187.6,990.3 L187.6,989.1 L187.6,987.9 L187.7,986.7 L187.7,985.5 L187.7,984.3 L187.7,983.1 L187.7,981.9 L187.7,980.7 L187.7,979.5 L187.8,978.3 L187.8,977.1 L187.8,975.9 L187.8,974.7 L187.8,973.5 L187.8,972.3 L187.8,971.1 L187.9,969.9 L187.9,968.7 L187.9,967.5 L187.9,966.3 L187.9,965.1 L187.9,963.9 L187.9,962.7 L187.9,961.5 L188.0,960.3 L188.0,959.1 L188.0,957.9 L188.0,956.7 L188.0,955.5 L188.0,954.3 L188.0,953.1 L188.1,951.9 L188.1,950.7 L188.1,949.5 L188.1,948.3 L188.1,947.1 L188.1,945.9 L188.1,944.7 L188.1,943.5 L188.2,942.3 L188.2,941.1 L188.2,939.9 L188.2,938.7 L188.2,937.5 L188.2,936.3 L188.2,935.1 L188.2,933.9 L188.3,932.7 L188.3,931.5 L188.3,930.3 L188.3,929.1 L188.3,927.9 L188.3,926.7 L188.3,925.5 L188.3,924.3 L188.4,923.1 L188.4,921.9 L188.4,920.7 L188.4,919.5 L188.4,918.3 L188.4,917.1 L188.4,915.9 L188.4,914.7 L188.4,913.5 L188.5,912.3 L188.5,911.1 L188.5,909.9 L188.5,908.7 L188.5,907.5 L188.5,906.3 L188.5,905.1 L188.5,903.9 L188.6,902.7 L188.6,901.5 L188.6,900.3 L188.6,899.1 L188.6,897.9 L188.6,896.7 L188.6,895.5 L188.6,894.3 L188.6,893.1 L188.7,891.9 L188.7,890.7 L188.7,889.5 L188.7,888.3 L188.7,887.1 L188.7,885.9 L188.7,884.7 L188.7,883.5 L188.7,882.3 L188.8,881.1 L188.8,879.9 L188.8,878.6 L188.8,877.4 L188.8,876.2 L188.8,875.0 L188.8,873.8 L188.8,872.6 L188.8,871.4 L188.9,870.2 L188.9,869.0 L188.9,867.8 L188.9,866.6 L188.9,865.4 L188.9,864.2 L188.9,863.0 L188.9,861.8 L188.9,860.6 L189.0,859.4 L189.0,858.1 L189.0,856.9 L189.0,855.7 L189.0,854.5 L189.0,853.3 L189.0,852.1 L189.0,850.9 L189.0,849.7 L189.1,848.5 L189.1,847.3 L189.1,846.1 L189.1,844.9 L189.1,843.7 L189.1,842.4 L189.1,841.2 L189.1,840.0 L189.1,838.8 L189.2,837.6 L189.2,836.4 L189.2,835.2 L189.2,834.0 L189.2,832.8 L189.2,831.6 L189.2,830.3 L189.2,829.1 L189.2,827.9 L189.3,826.7 L189.3,825.5 L189.3,824.3 L189.3,823.1 L189.3,821.9 L189.3,820.7 L189.3,819.4 L189.3,818.2 L189.3,817.0 L189.4,815.8 L189.4,814.6 L189.4,813.4 L189.4,812.2 L189.4,810.9 L189.4,809.7 L189.4,808.5 L189.4,807.3 L189.5,806.1 L189.5,804.9 L189.5,803.7 L189.5,802.4 L189.5,801.2 L189.5,800.0 L189.5,798.8 L189.5,797.6 L189.5,796.4 L189.6,795.1 L189.6,793.9 L189.6,792.7 L189.6,791.5 L189.6,790.3 L189.6,789.1 L189.6,787.8 L189.6,786.6 L189.7,785.4 L189.7,784.2 L189.7,783.0 L189.7,781.7 L189.7,780.5 L189.7,779.3 L189.7,778.1 L189.7,776.9 L189.8,775.6 L189.8,774.4 L189.8,773.2 L189.8,772.0 L189.8,770.8 L189.8,769.6 L189.8,768.3 L189.8,767.1 L189.9,765.9 L189.9,764.7 L189.9,763.5 L189.9,762.3 L189.9,761.1 L189.9,759.9 L189.9,758.7 L190.0,757.5 L190.0,756.3 L190.0,755.1 L190.0,753.9 L190.0,752.7 L190.0,751.6 L190.0,750.4 L190.1,749.2 L190.1,748.0 L190.1,746.9 L190.1,745.7 L190.1,744.6 L190.1,743.4 L190.2,742.3 L190.2,741.1 L190.2,740.0 L190.2,738.9 L190.2,737.8 L190.3,736.6 L190.3,735.5 L190.3,734.4 L190.3,733.3 L190.3,732.2 L190.3,731.2 L190.4,730.1 L190.4,729.0 L190.4,727.9 L190.4,726.9 L190.5,725.8 L190.5,724.7 L190.5,723.5 L190.6,722.4 L190.6,721.2 L190.7,720.0 L190.7,718.7 L190.8,717.4 L190.9,716.1 L191.0,714.7 L191.1,713.2 L191.2,711.7 L191.3,710.1 L191.4,708.4 L191.6,706.8 L191.7,705.2 L191.9,703.8 L192.0,702.6 L192.2,701.6 L192.4,701.1 L192.6,701.0 L192.7,701.4 L192.9,702.3 L193.1,703.4 L193.2,704.8 L193.4,706.3 L193.5,707.9 L193.7,709.6 L193.8,711.2 L193.9,712.7 L194.0,714.2 L194.1,715.6 L194.2,716.9 L194.3,718.2 L194.3,719.5 L194.4,720.7 L194.4,721.8 L194.5,723.0 L194.5,724.1 L194.6,725.1 L194.6,726.2 L194.6,727.3 L194.7,728.3 L194.7,729.4 L194.7,730.4 L194.7,731.5 L194.8,732.5 L194.8,733.6 L194.8,734.7 L194.9,735.8 L194.9,736.9 L194.9,738.0 L194.9,739.1 L195.0,740.3 L195.0,741.4 L195.0,742.6 L195.1,743.7 L195.1,744.9 L195.1,746.0 L195.2,747.2 L195.2,748.4 L195.2,749.6 L195.2,750.8 L195.3,752.0 L195.3,753.2 L195.3,754.4 L195.4,755.6 L195.4,756.8 L195.4,758.1 L195.5,759.3 L195.5,760.5 L195.5,761.7 L195.6,763.0 L195.6,764.2 L195.6,765.4 L195.6,766.7 L195.7,767.9 L195.7,769.2 L195.7,770.4 L195.8,771.7 L195.8,772.9 L195.8,774.2 L195.9,775.4 L195.9,776.7 L195.9,777.9 L195.9,779.1 L196.0,780.4 L196.0,781.6 L196.0,782.9 L196.1,784.1 L196.1,785.4 L196.1,786.6 L196.1,787.8 L196.2,789.1 L196.2,790.3 L196.2,791.5 L196.2,792.8 L196.3,794.0 L196.3,795.2 L196.3,796.4 L196.3,797.7 L196.4,798.9 L196.4,800.1 L196.4,801.3 L196.4,802.5 L196.5,803.8 L196.5,805.0 L196.5,806.2 L196.5,807.4 L196.5,808.6 L196.6,809.8 L196.6,811.1 L196.6,812.3 L196.6,813.5 L196.7,814.7 L196.7,815.9 L196.7,817.1 L196.7,818.3 L196.7,819.5 L196.8,820.7 L196.8,821.9 L196.8,823.1 L196.8,824.3 L196.9,825.5 L196.9,826.7 L196.9,827.9 L196.9,829.1 L196.9,830.3 L197.0,831.5 L197.0,832.7 L197.0,833.9 L197.0,835.1 L197.0,836.3 L197.1,837.5 L197.1,838.7 L197.1,839.9 L197.1,841.1 L197.1,842.3 L197.1,843.5 L197.2,844.7 L197.2,845.9 L197.2,847.1 L197.2,848.2 L197.2,849.4 L197.3,850.6 L197.3,851.8 L197.3,853.0 L197.3,854.2 L197.3,855.4 L197.4,856.6 L197.4,857.8 L197.4,859.0 L197.4,860.1 L197.4,861.3 L197.5,862.5 L197.5,863.7 L197.5,864.9 L197.5,866.1 L197.5,867.3 L197.6,868.5 L197.6,869.7 L197.6,870.8 L197.6,872.0 L197.6,873.2 L197.7,874.4 L197.7,875.6 L197.7,876.8 L197.7,878.0 L197.7,879.2 L197.8,880.4 L197.8,881.5 L197.8,882.7 L197.8,883.9 L197.9,885.1 L197.9,886.3 L197.9,887.5 L197.9,888.7 L197.9,889.9 L198.0,891.1 L198.0,892.3 L198.0,893.5 L198.0,894.7 L198.1,895.9 L198.1,897.0 L198.1,898.2 L198.1,899.4 L198.2,900.6 L198.2,901.8 L198.2,903.0 L198.2,904.2 L198.3,905.4 L198.3,906.6 L198.3,907.8 L198.3,909.0 L198.4,910.2 L198.4,911.4 L198.4,912.6 L198.4,913.8 L198.5,915.0 L198.5,916.2 L198.5,917.5 L198.6,918.7 L198.6,919.9 L198.6,921.1 L198.6,922.3 L198.7,923.5 L198.7,924.7 L198.7,925.9 L198.8,927.1 L198.8,928.3 L198.8,929.6 L198.9,930.8 L198.9,932.0 L198.9,933.2 L199.0,934.4 L199.0,935.6 L199.0,936.8 L199.1,938.0 L199.1,939.3 L199.2,940.5 L199.2,941.7 L199.3,942.9 L199.3,944.1 L199.3,945.3 L199.4,946.5 L199.4,947.7 L199.5,949.0 L199.5,950.2 L199.6,951.4 L199.6,952.6 L199.7,953.8 L199.8,955.0 L199.8,956.2 L199.9,957.4 L199.9,958.6 L200.0,959.8 L200.0,961.0 L200.1,962.3 L200.2,963.5 L200.2,964.7 L200.3,965.9 L200.4,967.1 L200.4,968.3 L200.5,969.5 L200.6,970.7 L200.7,971.9 L200.7,973.1 L200.8,974.3 L200.9,975.5 L201.0,976.7 L201.0,977.9 L201.1,979.1 L201.2,980.3 L201.3,981.5 L201.4,982.7 L201.4,983.9 L201.5,985.1 L201.6,986.3 L201.7,987.5 L201.8,988.7 L201.9,989.9 L202.0,991.1 L202.1,992.3 L202.1,993.5 L202.2,994.7 L202.3,995.9 L202.4,997.1 L202.5,998.2 L202.6,999.4 L202.7,1000.6 L202.8,1001.8 L202.9,1003.0 L203.0,1004.2 L203.1,1005.4 L203.2,1006.6 L203.3,1007.8 L203.4,1009.0 L203.5,1010.2 L203.6,1011.4 L203.7,1012.6 L203.8,1013.7 L203.9,1014.9 L204.0,1016.1 L204.1,1017.3 L204.2,1018.5 L204.3,1019.7 L204.4,1020.9 L204.5,1022.1 L204.6,1023.3 L204.7,1024.5 L204.8,1025.6 L204.9,1026.8 L205.1,1028.0 L205.2,1029.2 L205.3,1030.4 L205.4,1031.6 L205.5,1032.8 L205.6,1034.0 L205.7,1035.2 L205.8,1036.4 L205.9,1037.6 L206.0,1038.8 L206.1,1039.9 L206.2,1041.1 L206.3,1042.3 L206.4,1043.5 L206.6,1044.7 L206.7,1045.9 L206.8,1047.1 L206.9,1048.3 L207.0,1049.5 L207.1,1050.7 L207.2,1051.9 L207.3,1053.1 L207.4,1054.3 L207.5,1055.5 L207.6,1056.7 L207.7,1057.9 L207.8,1059.1 L207.9,1060.3 L208.0,1061.5 L208.1,1062.7 L208.2,1063.9 L208.3,1065.1 L208.4,1066.3 L208.5,1067.6 L208.6,1068.8 L208.7,1070.0 L208.8,1071.2 L208.9,1072.4 L209.0,1073.6 L209.1,1074.8 L209.2,1076.1 L209.3,1077.3 L209.4,1078.5 L209.4,1079.7 L209.5,1080.9 L209.6,1082.2 L209.7,1083.4 L209.8,1084.6 L209.9,1085.9 L210.0,1087.1 L210.0,1088.3 L210.1,1089.5 L210.2,1090.8 L210.3,1092.0 L210.3,1093.2 L210.4,1094.5 L210.5,1095.7 L210.6,1096.9 L210.6,1098.1 L210.7,1099.3 L210.8,1100.6 L210.8,1101.8 L210.9,1103.0 L211.0,1104.2 L211.0,1105.3 L211.1,1106.5 L211.2,1107.7 L211.2,1108.9 L211.3,1110.0 L211.4,1111.2 L211.4,1112.3 L211.5,1113.4 L211.5,1114.6 L211.6,1115.7 L211.7,1116.8 L211.7,1117.8 L211.8,1118.9 L211.8,1120.0 L211.9,1121.0 L212.0,1122.1 L212.0,1123.2 L212.1,1124.2 L212.1,1125.3 L212.2,1126.4 L212.2,1127.5 L212.3,1128.6 L212.4,1129.7 L212.4,1130.9 L212.5,1132.0 L212.6,1133.2 L212.6,1134.5 L212.7,1135.8 L212.8,1137.1 L212.8,1138.4 L212.9,1139.8 L213.0,1141.2 L213.1,1142.7 L213.2,1144.3 L213.2,1145.9 L213.3,1147.5 L213.4,1149.1 L213.5,1150.8 L213.6,1152.3 L213.7,1153.8 L213.9,1155.2 L214.0,1156.4 L214.1,1157.5 L214.2,1158.3 L214.4,1159.0 L214.5,1159.3 L214.7,1159.4 L214.8,1159.2 L215.0,1158.7 L215.2,1157.9 L215.3,1157.0 L215.5,1155.8 L215.7,1154.5 L215.9,1153.1 L216.1,1151.6 L216.2,1150.0 L216.4,1148.4 L216.6,1146.7 L216.7,1145.0 L216.9,1143.4 L217.0,1141.8 L217.1,1140.3 L217.3,1138.9 L217.4,1137.5 L217.5,1136.2 L217.6,1134.9 L217.7,1133.7 L217.8,1132.5 L217.9,1131.4 L218.0,1130.2 L218.0,1129.1 L218.1,1128.1 L218.2,1127.0 L218.3,1126.0 L218.3,1125.0 L218.4,1123.9 L218.4,1122.9 L218.5,1121.9 L218.5,1120.9 L218.6,1119.8 L218.7,1118.8 L218.7,1117.7 L218.8,1116.6 L218.8,1115.5 L218.9,1114.4 L218.9,1113.2 L219.0,1112.0 L219.1,1110.7 L219.1,1109.4 L219.2,1108.0 L219.3,1106.6 L219.4,1105.1 L219.4,1103.5 L219.5,1101.9 L219.6,1100.3 L219.7,1098.6 L219.8,1096.9 L219.9,1095.2 L220.1,1093.5 L220.2,1091.9 L220.3,1090.4 L220.4,1088.9 L220.6,1087.5 L220.7,1086.1 L220.9,1085.0 L221.0,1083.9 L221.2,1083.0 L221.3,1082.3 L221.5,1081.7 L221.7,1081.4 L221.9,1081.2 L222.0,1081.3 L222.2,1081.7 L222.4,1082.2 L222.6,1083.0 L222.8,1083.9 L223.0,1085.0 L223.3,1086.2 L223.5,1087.5 L223.7,1088.9 L223.9,1090.4 L224.2,1092.0 L224.4,1093.5 L224.7,1095.1 L224.9,1096.6 L225.2,1098.1 L225.5,1099.6 L225.8,1100.9 L226.0,1102.3 L226.3,1103.6 L226.6,1104.8 L226.9,1106.1 L227.2,1107.3 L227.4,1108.4 L227.7,1109.6 L228.0,1110.7 L228.2,1111.8 L228.5,1112.9 L228.7,1113.9 L228.9,1115.0 L229.1,1116.1 L229.3,1117.2 L229.5,1118.3 L229.6,1119.4 L229.8,1120.5 L229.9,1121.7 L230.0,1122.8 L230.1,1124.0 L230.2,1125.1 L230.3,1126.3 L230.4,1127.4 L230.5,1128.6 L230.6,1129.8 L230.7,1131.0 L230.8,1132.2 L230.9,1133.4 L231.0,1134.6 L231.1,1135.7 L231.2,1136.9 L231.4,1138.1 L231.6,1139.3 L231.8,1140.5 L232.0,1141.7 L232.2,1142.9 L232.5,1144.1 L232.8,1145.3 L233.1,1146.4 L233.4,1147.6 L233.8,1148.8 L234.2,1149.9 L234.7,1151.1 L235.2,1152.2 L235.7,1153.4 L236.3,1154.5 L236.9,1155.6 L237.6,1156.6 L238.4,1157.6 L239.2,1158.6 L240.1,1159.4 L241.1,1160.0 L242.0,1160.2 L242.8,1159.5 L243.4,1158.4 L244.0,1157.0 L244.5,1155.8 L245.0,1155.1 L245.6,1155.3 L246.3,1156.1 L246.9,1157.4 L247.4,1158.8 L247.9,1160.2 L248.3,1161.5 L248.7,1162.7 L249.0,1164.0 L249.2,1165.1 L249.5,1166.3 L249.6,1167.5 L249.8,1168.6 L250.0,1169.7 L250.2,1170.9 L250.4,1172.0 L250.6,1173.2 L250.8,1174.3 L251.0,1175.4 L251.3,1176.6 L251.6,1177.7 L251.9,1178.9 L252.3,1180.0 L252.7,1181.1 L253.1,1182.3 L253.6,1183.4 L254.2,1184.5" stroke-linecap="round"/>
<path d="M172.7,1184.5 L173.8,1183.8 L174.8,1183.1 L175.8,1182.4 L176.7,1181.6 L177.6,1180.8 L178.3,1180.0 L179.1,1179.1 L179.8,1178.2 L180.4,1177.3 L181.0,1176.3 L181.6,1175.3 L182.1,1174.3 L182.6,1173.3 L183.0,1172.2 L183.4,1171.1 L183.8,1170.0 L184.1,1168.9 L184.4,1167.8 L184.7,1166.6 L184.9,1165.4 L185.1,1164.3 L185.3,1163.1 L185.5,1161.9 L185.7,1160.6 L185.8,1159.4 L186.0,1158.2 L186.1,1157.0 L186.2,1155.7 L186.3,1154.5 L186.4,1153.2 L186.5,1152.0 L186.6,1150.7 L186.7,1149.5 L186.8,1148.2 L186.8,1147.0 L186.9,1145.8 L187.0,1144.5 L187.1,1143.3 L187.2,1142.1 L187.3,1140.8 L187.4,1139.6 L187.5,1138.4 L187.6,1137.2 L187.7,1135.9 L187.8,1134.7 L187.9,1133.5 L188.0,1132.3 L188.1,1131.1 L188.1,1129.9 L188.2,1128.7 L188.3,1127.5 L188.4,1126.2 L188.5,1125.0 L188.6,1123.8 L188.7,1122.6 L188.8,1121.4 L188.9,1120.2 L189.0,1119.0 L189.1,1117.8 L189.2,1116.6 L189.3,1115.4 L189.4,1114.2 L189.5,1113.1 L189.6,1111.9 L189.7,1110.7 L189.8,1109.5 L189.9,1108.3 L190.0,1107.1 L190.1,1105.9 L190.2,1104.7 L190.3,1103.5 L190.4,1102.3 L190.5,1101.1 L190.6,1100.0 L190.7,1098.8 L190.8,1097.6 L190.9,1096.4 L191.0,1095.2 L191.0,1094.0 L191.1,1092.8 L191.2,1091.7 L191.3,1090.5 L191.4,1089.3 L191.5,1088.1 L191.6,1086.9 L191.7,1085.7 L191.8,1084.5 L191.9,1083.3 L192.0,1082.2 L192.1,1081.0 L192.2,1079.8 L192.3,1078.6 L192.4,1077.4 L192.4,1076.2 L192.5,1075.0 L192.6,1073.8 L192.7,1072.6 L192.8,1071.4 L192.9,1070.2 L193.0,1069.0 L193.1,1067.8 L193.2,1066.6 L193.2,1065.4 L193.3,1064.2 L193.4,1063.0 L193.5,1061.8 L193.6,1060.6 L193.7,1059.4 L193.7,1058.2 L193.8,1057.0 L193.9,1055.8 L194.0,1054.6 L194.1,1053.3 L194.2,1052.1 L194.2,1050.9 L194.3,1049.7 L194.4,1048.5 L194.5,1047.3 L194.6,1046.1 L194.6,1044.9 L194.7,1043.6 L194.8,1042.4 L194.9,1041.2 L195.0,1040.0 L195.0,1038.8 L195.1,1037.6 L195.2,1036.3 L195.3,1035.1 L195.4,1033.9 L195.4,1032.7 L195.5,1031.5 L195.6,1030.3 L195.7,1029.1 L195.8,1027.9 L195.9,1026.6 L195.9,1025.4 L196.0,1024.2 L196.1,1023.0 L196.2,1021.8 L196.3,1020.6 L196.4,1019.4 L196.5,1018.2 L196.5,1017.0 L196.6,1015.8 L196.7,1014.6 L196.8,1013.4 L196.9,1012.2 L197.0,1011.0 L197.1,1009.8 L197.2,1008.6 L197.3,1007.4 L197.4,1006.2 L197.5,1005.0 L197.5,1003.8 L197.6,1002.6 L197.7,1001.4 L197.8,1000.3 L197.9,999.1 L198.0,997.9 L198.1,996.7 L198.3,995.6 L198.4,994.4 L198.5,993.2 L198.6,992.0 L198.7,990.9 L198.8,989.7 L198.9,988.6 L199.0,987.4 L199.1,986.2 L199.3,985.1 L199.4,983.9 L199.5,982.8 L199.6,981.6 L199.8,980.4 L200.0,979.2 L200.2,978.0 L200.4,976.8 L200.6,975.5 L200.9,974.2 L201.3,972.8 L201.6,971.3 L202.1,969.9 L202.6,968.8 L203.2,968.1 L203.9,968.1 L204.7,968.8 L205.4,969.8 L206.1,970.9 L206.7,972.0 L207.2,973.2 L207.7,974.3 L208.0,975.5 L208.3,976.7 L208.6,977.9 L208.8,979.1 L209.0,980.3 L209.2,981.6 L209.3,982.8 L209.4,984.0 L209.5,985.3 L209.6,986.5 L209.7,987.7 L209.8,989.0 L209.9,990.2 L210.0,991.4 L210.2,992.6 L210.3,993.7 L210.5,994.9 L210.7,996.1 L210.9,997.2 L211.1,998.4 L211.3,999.5 L211.6,1000.7 L211.8,1001.9 L212.0,1003.0 L212.2,1004.2 L212.3,1005.4 L212.5,1006.6 L212.7,1007.8 L212.9,1008.9 L213.1,1010.1 L213.3,1011.3 L213.5,1012.5 L213.6,1013.7 L213.8,1014.9 L214.0,1016.1 L214.2,1017.3 L214.4,1018.5 L214.6,1019.7 L214.8,1020.9 L215.0,1022.1 L215.2,1023.3 L215.4,1024.5 L215.6,1025.7 L215.8,1026.9 L216.0,1028.1 L216.2,1029.3 L216.4,1030.4 L216.7,1031.6 L216.9,1032.8 L217.2,1034.0 L217.4,1035.2 L217.7,1036.4 L218.0,1037.5 L218.3,1038.7 L218.6,1039.9 L218.9,1041.1 L219.2,1042.2 L219.5,1043.4 L219.9,1044.6 L220.2,1045.7 L220.5,1046.9 L220.9,1048.0 L221.2,1049.2 L221.6,1050.3 L221.9,1051.5 L222.2,1052.6 L222.6,1053.8 L222.9,1055.0 L223.2,1056.1 L223.5,1057.3 L223.8,1058.4 L224.1,1059.6 L224.4,1060.8 L224.6,1061.9 L224.9,1063.1 L225.2,1064.3 L225.4,1065.5 L225.7,1066.6 L225.9,1067.8 L226.1,1069.0 L226.4,1070.2 L226.6,1071.4 L226.8,1072.6 L227.0,1073.7 L227.2,1074.9 L227.4,1076.1 L227.6,1077.3 L227.8,1078.5 L228.0,1079.7 L228.2,1080.9 L228.4,1082.1 L228.5,1083.3 L228.7,1084.5 L228.9,1085.6 L229.0,1086.8 L229.2,1088.0 L229.4,1089.2 L229.5,1090.4 L229.7,1091.6 L229.9,1092.8 L230.0,1094.0 L230.2,1095.2 L230.3,1096.4 L230.5,1097.6 L230.6,1098.8 L230.8,1100.0 L231.0,1101.2 L231.1,1102.4 L231.3,1103.6 L231.4,1104.8 L231.6,1106.0 L231.8,1107.2 L231.9,1108.4 L232.1,1109.6 L232.2,1110.8 L232.4,1112.0 L232.6,1113.2 L232.8,1114.4 L233.0,1115.6 L233.1,1116.7 L233.3,1117.9 L233.5,1119.1 L233.7,1120.3 L233.9,1121.5 L234.1,1122.7 L234.3,1123.9 L234.5,1125.1 L234.8,1126.2 L235.0,1127.4 L235.2,1128.6 L235.5,1129.8 L235.7,1130.9 L236.0,1132.1 L236.2,1133.3 L236.5,1134.5 L236.8,1135.6 L237.1,1136.8 L237.3,1138.0 L237.6,1139.1 L237.9,1140.3 L238.3,1141.4 L238.6,1142.6 L238.9,1143.7 L239.3,1144.9 L239.6,1146.0 L240.0,1147.2 L240.4,1148.3 L240.7,1149.5 L241.1,1150.6 L241.5,1151.7 L242.0,1152.9 L242.4,1154.0 L242.8,1155.1 L243.3,1156.2 L243.7,1157.3 L244.2,1158.4 L244.7,1159.5 L245.2,1160.6 L245.7,1161.7 L246.2,1162.8 L246.8,1163.9 L247.3,1165.0 L247.9,1166.0 L248.5,1167.1 L249.0,1168.2 L249.6,1169.2 L250.3,1170.3 L250.9,1171.3 L251.5,1172.3 L252.2,1173.3 L252.8,1174.4 L253.5,1175.4 L254.2,1176.4 L254.9,1177.3 L255.7,1178.3 L256.4,1179.3 L257.3,1180.2 L258.2,1181.0 L259.1,1181.7 L260.2,1182.3 L261.3,1182.8 L262.5,1183.0 L263.7,1182.9 L264.9,1182.7 L266.0,1182.2 L267.1,1181.6 L267.9,1180.8 L268.7,1179.9 L269.3,1179.0 L269.8,1178.0 L270.3,1176.9 L270.8,1175.7 L271.3,1174.6 L271.9,1173.3 L272.5,1172.1 L273.3,1170.9 L274.1,1169.7 L275.0,1168.6 L275.9,1167.7 L276.9,1167.0 L277.9,1166.5 L278.9,1166.3 L279.8,1166.4 L280.8,1166.9 L281.7,1167.5 L282.7,1168.3 L283.7,1169.2 L284.7,1170.0 L285.8,1170.8 L286.9,1171.4 L288.0,1171.9 L289.2,1172.2 L290.3,1172.3 L291.4,1172.2 L292.4,1171.8 L293.4,1171.1 L294.4,1170.2 L295.4,1169.3 L296.3,1168.3 L297.3,1167.6 L298.3,1167.0 L299.3,1166.9 L300.4,1167.0 L301.4,1167.4 L302.5,1168.0 L303.6,1168.8 L304.6,1169.8 L305.6,1170.9 L306.5,1172.1 L307.4,1173.3 L308.3,1174.5 L309.1,1175.7 L309.8,1176.9 L310.6,1178.0 L311.3,1179.1 L312.0,1180.1 L312.7,1180.9 L313.5,1181.6 L314.2,1182.2 L315.0,1182.6 L315.9,1183.0 L316.8,1183.4 L317.8,1183.7 L318.9,1184.0 L320.0,1184.2 L321.3,1184.5 L322.6,1184.7 L323.9,1184.9 L325.2,1185.0 L326.5,1185.1 L327.9,1185.2 L329.2,1185.1 L330.4,1185.1 L331.7,1184.9 L332.8,1184.7 L333.9,1184.4 L334.8,1184.0 L335.7,1183.5 L336.5,1182.9 L337.1,1182.2 L337.7,1181.5 L338.3,1180.6 L338.9,1179.7 L339.4,1178.8 L340.0,1177.7 L340.7,1176.6 L341.4,1175.4 L342.2,1174.3 L343.0,1173.1 L343.9,1171.9 L344.8,1170.8 L345.7,1169.7 L346.7,1168.8 L347.7,1167.9 L348.8,1167.2 L349.8,1166.7 L350.9,1166.4 L351.9,1166.3 L353.0,1166.4 L354.1,1166.7 L355.1,1167.3 L356.1,1168.1 L357.1,1168.9 L358.0,1169.8 L358.9,1170.8 L359.8,1171.8 L360.6,1172.7 L361.3,1173.7 L362.1,1174.7 L362.8,1175.7 L363.5,1176.6 L364.3,1177.5 L365.0,1178.4 L365.8,1179.3 L366.6,1180.2 L367.4,1181.0 L368.2,1181.7 L369.1,1182.4 L370.1,1183.0 L371.1,1183.6 L372.2,1184.1 L373.4,1184.5 L374.7,1184.8 L376.1,1185.0" stroke-dasharray="15.5 10.5" stroke-width="2.30"/>
<path d="M139.1,1184.3 L140.4,1184.5 L141.7,1184.6 L143.0,1184.7 L144.2,1184.8 L145.5,1184.8 L146.7,1184.8 L148.0,1184.8 L149.2,1184.7 L150.4,1184.6 L151.6,1184.5 L152.8,1184.4 L154.0,1184.2 L155.2,1184.0 L156.4,1183.7 L157.5,1183.5 L158.7,1183.2 L159.8,1182.8 L160.9,1182.5 L162.1,1182.1 L163.2,1181.7 L164.2,1181.2 L165.3,1180.8 L166.4,1180.3 L167.5,1179.8 L168.5,1179.2 L169.5,1178.6 L170.5,1178.1 L171.6,1177.4 L172.5,1176.8 L173.5,1176.1 L174.5,1175.5 L175.4,1174.8 L176.4,1174.0 L177.3,1173.3 L178.2,1172.5 L179.1,1171.7 L180.0,1170.9 L180.8,1170.1 L181.7,1169.2 L182.5,1168.4 L183.3,1167.5 L184.1,1166.6 L184.9,1165.7 L185.6,1164.7 L186.4,1163.8 L187.1,1162.8 L187.8,1161.8 L188.5,1160.8 L189.2,1159.8 L189.8,1158.8 L190.5,1157.7 L191.1,1156.7 L191.7,1155.6 L192.3,1154.6 L192.9,1153.5 L193.5,1152.4 L194.1,1151.3 L194.7,1150.2 L195.2,1149.1 L195.8,1148.0 L196.3,1146.9 L196.9,1145.8 L197.4,1144.7 L197.9,1143.7 L198.5,1142.6 L199.0,1141.5 L199.5,1140.4 L200.0,1139.3 L200.5,1138.2 L201.0,1137.2 L201.5,1136.1 L202.0,1135.0 L202.6,1134.0 L203.1,1132.9 L203.6,1131.9 L204.1,1130.8 L204.6,1129.7 L205.1,1128.7 L205.7,1127.7 L206.2,1126.6 L206.7,1125.6 L207.3,1124.5 L207.9,1123.5 L208.4,1122.5 L209.0,1121.4 L209.6,1120.4 L210.2,1119.4 L210.8,1118.4 L211.4,1117.4 L212.0,1116.3 L212.7,1115.3 L213.3,1114.3 L214.0,1113.3 L214.7,1112.3 L215.4,1111.3 L216.1,1110.2 L216.8,1109.2 L217.5,1108.2 L218.3,1107.2 L219.1,1106.2 L219.9,1105.3 L220.8,1104.3 L221.6,1103.4 L222.5,1102.5 L223.5,1101.7 L224.5,1100.9 L225.5,1100.2 L226.5,1099.5 L227.6,1098.9 L228.7,1098.5 L229.9,1098.2 L231.0,1098.1 L232.1,1098.1 L233.2,1098.4 L234.2,1098.8 L235.3,1099.4 L236.3,1100.1 L237.2,1100.9 L238.2,1101.8 L239.0,1102.7 L239.9,1103.7 L240.7,1104.7 L241.5,1105.6 L242.2,1106.6 L242.9,1107.7 L243.5,1108.7 L244.2,1109.7 L244.8,1110.8 L245.3,1111.9 L245.9,1112.9 L246.4,1114.0 L247.0,1115.1 L247.5,1116.2 L248.0,1117.3 L248.5,1118.4 L249.0,1119.5 L249.4,1120.6 L249.9,1121.7 L250.4,1122.8 L250.9,1123.9 L251.4,1125.0 L251.9,1126.1 L252.4,1127.2 L253.0,1128.3 L253.5,1129.3 L254.1,1130.4 L254.7,1131.5 L255.3,1132.5 L255.9,1133.6 L256.5,1134.6 L257.1,1135.6 L257.7,1136.7 L258.3,1137.7 L258.9,1138.8 L259.5,1139.8 L260.0,1140.9 L260.6,1141.9 L261.1,1143.0 L261.6,1144.1 L262.1,1145.2 L262.6,1146.2 L263.1,1147.3 L263.6,1148.4 L264.1,1149.5 L264.6,1150.5 L265.1,1151.6 L265.6,1152.7 L266.1,1153.7 L266.6,1154.8 L267.2,1155.8 L267.7,1156.9 L268.3,1157.9 L268.9,1158.9 L269.5,1159.9 L270.2,1160.9 L270.8,1161.8 L271.5,1162.8 L272.3,1163.7 L273.0,1164.7 L273.8,1165.6 L274.7,1166.5 L275.6,1167.3 L276.5,1168.2 L277.5,1169.0 L278.5,1169.7 L279.5,1170.5 L280.6,1171.1 L281.7,1171.7 L282.8,1172.3 L283.9,1172.8 L285.1,1173.2 L286.3,1173.5 L287.4,1173.7 L288.6,1173.8 L289.8,1173.8 L291.0,1173.8 L292.2,1173.6 L293.4,1173.4 L294.5,1173.1 L295.7,1172.8 L296.9,1172.4 L298.0,1172.0 L299.1,1171.6 L300.3,1171.2 L301.4,1170.7 L302.5,1170.3 L303.6,1169.8 L304.7,1169.3 L305.8,1168.8 L306.8,1168.3 L307.9,1167.7 L309.0,1167.2 L310.0,1166.6 L311.1,1166.1 L312.1,1165.5 L313.2,1165.0 L314.2,1164.4 L315.3,1163.8 L316.3,1163.3 L317.4,1162.7 L318.4,1162.1 L319.5,1161.6 L320.6,1161.0 L321.6,1160.4 L322.7,1159.9 L323.8,1159.3 L324.8,1158.8 L325.9,1158.3 L327.0,1157.8 L328.1,1157.3 L329.2,1156.8 L330.3,1156.4 L331.4,1155.9 L332.6,1155.5 L333.7,1155.1 L334.9,1154.7 L336.0,1154.3 L337.2,1154.0 L338.4,1153.7 L339.6,1153.4 L340.8,1153.2 L342.0,1153.0 L343.2,1152.9 L344.4,1152.8 L345.6,1152.8 L346.8,1152.9 L347.9,1153.1 L349.0,1153.3 L350.2,1153.6 L351.2,1154.0 L352.3,1154.5 L353.4,1155.0 L354.5,1155.6 L355.5,1156.2 L356.5,1156.9 L357.6,1157.6 L358.6,1158.3 L359.6,1159.1 L360.6,1159.8 L361.6,1160.6 L362.6,1161.4 L363.6,1162.2 L364.6,1163.0 L365.6,1163.9 L366.6,1164.6 L367.6,1165.4 L368.6,1166.2 L369.6,1166.9 L370.7,1167.6 L371.7,1168.3 L372.7,1168.9 L373.8,1169.5 L374.8,1170.0 L375.9,1170.5 L377.0,1171.0 L378.1,1171.5 L379.1,1171.9 L380.2,1172.4 L381.3,1172.7 L382.4,1173.1 L383.5,1173.5 L384.7,1173.8 L385.8,1174.1 L386.9,1174.4 L388.0,1174.6 L389.2,1174.9 L390.3,1175.1 L391.5,1175.4 L392.6,1175.6 L393.8,1175.8 L394.9,1176.0 L396.1,1176.2 L397.3,1176.4 L398.4,1176.6 L399.6,1176.8 L400.8,1177.0 L401.9,1177.2 L403.1,1177.4 L404.3,1177.6 L405.5,1177.8 L406.7,1178.0 L407.9,1178.2 L409.0,1178.5 L410.2,1178.7 L411.4,1178.9 L412.6,1179.1 L413.8,1179.4 L415.0,1179.6 L416.2,1179.8 L417.4,1180.0 L418.6,1180.3 L419.8,1180.5 L421.0,1180.7 L422.2,1180.9 L423.4,1181.2 L424.6,1181.4 L425.8,1181.6 L427.0,1181.8 L428.2,1182.0 L429.4,1182.2 L430.6,1182.4 L431.8,1182.5 L433.0,1182.7 L434.2,1182.9 L435.4,1183.0 L436.6,1183.2 L437.8,1183.3 L439.0,1183.5 L440.2,1183.6 L441.4,1183.7 L442.6,1183.8 L443.8,1183.9 L445.0,1183.9 L446.2,1184.0 L447.4,1184.0 L448.6,1184.1 L449.8,1184.1 L451.0,1184.1 L452.2,1184.1 L453.4,1184.1 L454.5,1184.1 L455.7,1184.0 L456.9,1184.0 L458.1,1183.9 L459.3,1183.9 L460.5,1183.8 L461.7,1183.7 L462.9,1183.6 L464.1,1183.5 L465.3,1183.4 L466.5,1183.3 L467.7,1183.2 L468.9,1183.1 L470.1,1182.9 L471.3,1182.8 L472.4,1182.7 L473.6,1182.5 L474.8,1182.4 L476.0,1182.2 L477.2,1182.1 L478.4,1181.9 L479.6,1181.8 L480.8,1181.6 L482.0,1181.4 L483.2,1181.3 L484.4,1181.1 L485.6,1180.9 L486.8,1180.8 L488.0,1180.6 L489.2,1180.4 L490.3,1180.3 L491.5,1180.1 L492.7,1179.9 L493.9,1179.8 L495.1,1179.6 L496.3,1179.5 L497.5,1179.3 L498.7,1179.2 L499.9,1179.1 L501.1,1178.9 L502.3,1178.8 L503.5,1178.7 L504.7,1178.7 L505.9,1178.6 L507.1,1178.6 L508.3,1178.5 L509.5,1178.5 L510.7,1178.5 L511.9,1178.6 L513.1,1178.6 L514.3,1178.7 L515.5,1178.8 L516.7,1178.9 L517.9,1179.1 L519.1,1179.3 L520.3,1179.5 L521.5,1179.7 L522.7,1180.0 L523.8,1180.3 L525.0,1180.6 L526.2,1180.9 L527.4,1181.2 L528.6,1181.6 L529.8,1181.9 L531.0,1182.3 L532.2,1182.6 L533.4,1182.9 L534.6,1183.2 L535.8,1183.4 L536.9,1183.6 L538.1,1183.8 L539.3,1184.0 L540.5,1184.1 L541.7,1184.2 L542.9,1184.3 L544.1,1184.3 L545.3,1184.4 L546.5,1184.4 L547.7,1184.4 L548.9,1184.4 L550.0,1184.3 L551.2,1184.3 L552.4,1184.3 L553.6,1184.3 L554.8,1184.3 L556.0,1184.2 L557.2,1184.2 L558.4,1184.2 L559.6,1184.2 L560.8,1184.2 L562.0,1184.3 L563.2,1184.3 L564.5,1184.4 L565.7,1184.5 L566.9,1184.7 L568.1,1184.8" stroke-dasharray="12.5 5.5 3 5" stroke-width="2.30"/>
</g>
<g stroke="#555555" stroke-width="1" fill="none" stroke-linecap="square">
<path d="M104.00,684.80 H604.50 M104.00,1185.40 H604.50"/>
<path d="M104.00,1185.40 H96.50 M604.50,1185.40 H612.00"/>
<path d="M104.00,1085.28 H96.50 M604.50,1085.28 H612.00"/>
<path d="M104.00,985.16 H96.50 M604.50,985.16 H612.00"/>
<path d="M104.00,885.04 H96.50 M604.50,885.04 H612.00"/>
<path d="M104.00,784.92 H96.50 M604.50,784.92 H612.00"/>
<path d="M104.00,684.80 H96.50 M604.50,684.80 H612.00"/>
</g>
<g stroke="#262626" stroke-width="1" fill="none">
<path d="M104.00,684.80 V1185.40 M604.50,684.80 V1185.40"/>
<path d="M104.00,1185.40 V1192.90 M104.00,684.80 V677.30"/>
<path d="M187.42,1185.40 V1192.90 M187.42,684.80 V677.30"/>
<path d="M270.83,1185.40 V1192.90 M270.83,684.80 V677.30"/>
<path d="M354.25,1185.40 V1192.90 M354.25,684.80 V677.30"/>
<path d="M437.67,1185.40 V1192.90 M437.67,684.80 V677.30"/>
<path d="M521.08,1185.40 V1192.90 M521.08,684.80 V677.30"/>
<path d="M604.50,1185.40 V1192.90 M604.50,684.80 V677.30"/>
</g>
<g fill="#262626" font-size="25.0" letter-spacing="0.6">
<text x="104.00" y="1226.40" text-anchor="middle">-20</text>
<text x="187.42" y="1226.40" text-anchor="middle">0</text>
<text x="270.83" y="1226.40" text-anchor="middle">20</text>
<text x="354.25" y="1226.40" text-anchor="middle">40</text>
<text x="437.67" y="1226.40" text-anchor="middle">60</text>
<text x="521.08" y="1226.40" text-anchor="middle">80</text>
<text x="604.50" y="1226.40" text-anchor="middle">100</text>
<text x="88.10" y="1195.70" text-anchor="end">0</text>
<text x="88.10" y="1095.58" text-anchor="end">0.05</text>
<text x="88.10" y="995.46" text-anchor="end">0.1</text>
<text x="88.10" y="895.34" text-anchor="end">0.15</text>
<text x="88.10" y="795.22" text-anchor="end">0.2</text>
<text x="88.10" y="695.10" text-anchor="end">0.25</text>
</g>
<text x="354.39" y="1258.90" font-size="25.0" fill="#262626" text-anchor="middle" letter-spacing="0.28">Egg production rate</text>
<text transform="translate(27.20,934.10) rotate(-90)" font-size="25.0" fill="#262626" text-anchor="middle">Density</text>
<clipPath id="clipD"><rect x="794.60" y="683.80" width="502.50" height="502.60"/></clipPath>
<g clip-path="url(#clipD)" fill="none" stroke="#00ffff" stroke-width="3.20" stroke-linejoin="round">
<path d="M827.1,1184.6 L828.5,1184.6 L829.8,1184.6 L831.2,1184.5 L832.5,1184.4 L833.8,1184.3 L835.1,1184.2 L836.4,1184.0 L837.6,1183.8 L838.9,1183.6 L840.1,1183.3 L841.3,1183.1 L842.5,1182.8 L843.6,1182.4 L844.8,1182.1 L845.9,1181.7 L847.1,1181.3 L848.2,1180.9 L849.2,1180.5 L850.3,1180.0 L851.4,1179.5 L852.4,1179.0 L853.4,1178.5 L854.4,1177.9 L855.4,1177.3 L856.4,1176.8 L857.4,1176.1 L858.4,1175.5 L859.3,1174.9 L860.2,1174.2 L861.2,1173.5 L862.1,1172.8 L863.0,1172.1 L863.8,1171.3 L864.7,1170.6 L865.6,1169.8 L866.4,1169.0 L867.2,1168.2 L868.1,1167.4 L868.9,1166.6 L869.7,1165.7 L870.5,1164.8 L871.3,1164.0 L872.0,1163.1 L872.8,1162.2 L873.6,1161.3 L874.3,1160.3 L875.0,1159.4 L875.8,1158.4 L876.5,1157.5 L877.2,1156.5 L877.9,1155.5 L878.6,1154.5 L879.3,1153.5 L880.0,1152.5 L880.7,1151.5 L881.3,1150.5 L882.0,1149.4 L882.7,1148.4 L883.3,1147.3 L884.0,1146.3 L884.6,1145.2 L885.3,1144.1 L885.9,1143.1 L886.5,1142.0 L887.1,1140.9 L887.8,1139.8 L888.4,1138.7 L889.0,1137.6 L889.6,1136.5 L890.2,1135.4 L890.8,1134.3 L891.4,1133.2 L892.0,1132.1 L892.6,1131.0 L893.2,1129.9 L893.8,1128.7 L894.4,1127.6 L895.0,1126.5 L895.6,1125.4 L896.2,1124.3 L896.8,1123.2 L897.4,1122.1 L898.0,1121.0 L898.6,1119.9 L899.2,1118.8 L899.8,1117.8 L900.5,1116.7 L901.1,1115.7 L901.8,1114.6 L902.4,1113.6 L903.1,1112.6 L903.8,1111.6 L904.5,1110.6 L905.2,1109.7 L906.0,1108.8 L906.7,1107.8 L907.5,1106.9 L908.3,1106.1 L909.1,1105.2 L909.9,1104.4 L910.8,1103.6 L911.7,1102.8 L912.6,1102.1 L913.5,1101.3 L914.5,1100.6 L915.4,1100.0 L916.5,1099.3 L917.5,1098.7 L918.6,1098.2 L919.6,1097.7 L920.7,1097.2 L921.9,1096.8 L923.0,1096.4 L924.2,1096.1 L925.3,1095.8 L926.5,1095.6 L927.7,1095.4 L928.9,1095.4 L930.1,1095.3 L931.3,1095.4 L932.5,1095.5 L933.7,1095.6 L934.9,1095.9 L936.1,1096.1 L937.3,1096.4 L938.5,1096.8 L939.6,1097.1 L940.8,1097.6 L942.0,1098.0 L943.1,1098.5 L944.3,1099.0 L945.4,1099.5 L946.5,1100.1 L947.7,1100.6 L948.7,1101.3 L949.8,1101.9 L950.9,1102.5 L951.9,1103.2 L952.9,1103.9 L953.9,1104.6 L954.8,1105.4 L955.8,1106.1 L956.7,1106.9 L957.6,1107.7 L958.5,1108.5 L959.3,1109.3 L960.2,1110.1 L961.0,1111.0 L961.8,1111.9 L962.6,1112.8 L963.4,1113.7 L964.1,1114.6 L964.8,1115.5 L965.6,1116.4 L966.3,1117.4 L967.0,1118.3 L967.7,1119.3 L968.3,1120.3 L969.0,1121.3 L969.7,1122.3 L970.3,1123.3 L970.9,1124.3 L971.6,1125.3 L972.2,1126.4 L972.8,1127.4 L973.4,1128.5 L974.0,1129.5 L974.6,1130.6 L975.2,1131.6 L975.7,1132.7 L976.3,1133.8 L976.9,1134.8 L977.5,1135.9 L978.1,1137.0 L978.6,1138.0 L979.2,1139.1 L979.8,1140.2 L980.4,1141.3 L980.9,1142.3 L981.5,1143.4 L982.1,1144.5 L982.7,1145.5 L983.3,1146.6 L983.9,1147.7 L984.5,1148.7 L985.1,1149.8 L985.7,1150.8 L986.4,1151.8 L987.0,1152.9 L987.7,1153.9 L988.3,1154.9 L989.0,1155.9 L989.7,1156.9 L990.3,1157.9 L991.0,1158.9 L991.8,1159.9 L992.5,1160.8 L993.2,1161.8 L994.0,1162.7 L994.8,1163.6 L995.5,1164.6 L996.3,1165.5 L997.2,1166.3 L998.0,1167.2 L998.8,1168.1 L999.7,1168.9 L1000.5,1169.7 L1001.4,1170.5 L1002.3,1171.3 L1003.2,1172.1 L1004.1,1172.9 L1005.1,1173.6 L1006.0,1174.3 L1007.0,1175.0 L1007.9,1175.7 L1008.9,1176.4 L1009.9,1177.0 L1010.9,1177.6 L1011.9,1178.2 L1013.0,1178.8 L1014.0,1179.4 L1015.1,1179.9 L1016.1,1180.4 L1017.2,1180.9 L1018.3,1181.3 L1019.4,1181.8 L1020.5,1182.2 L1021.7,1182.6 L1022.8,1182.9 L1023.9,1183.3 L1025.1,1183.6 L1026.3,1183.9 L1027.4,1184.1 L1028.6,1184.3 L1029.8,1184.5 L1031.0,1184.7 L1032.3,1184.8 L1033.5,1184.9 L1034.7,1185.0 L1036.0,1185.0 L1037.3,1185.0 L1038.5,1185.0 L1039.8,1184.9 L1041.1,1184.8 L1042.4,1184.7 L1043.7,1184.5" stroke-linecap="round"/>
<path d="M892.9,1185.2 L894.4,1185.4 L895.7,1185.3 L896.9,1185.1 L898.0,1184.7 L899.0,1184.2 L900.0,1183.5 L900.8,1182.8 L901.6,1181.9 L902.4,1181.0 L903.0,1180.0 L903.7,1178.9 L904.3,1177.9 L904.8,1176.8 L905.3,1175.7 L905.8,1174.6 L906.2,1173.5 L906.6,1172.4 L907.0,1171.2 L907.3,1170.1 L907.6,1168.9 L907.9,1167.8 L908.2,1166.6 L908.5,1165.4 L908.7,1164.2 L909.0,1163.1 L909.2,1161.9 L909.4,1160.7 L909.6,1159.5 L909.8,1158.3 L910.0,1157.1 L910.2,1155.9 L910.4,1154.7 L910.6,1153.5 L910.8,1152.3 L911.0,1151.1 L911.2,1150.0 L911.4,1148.8 L911.6,1147.6 L911.8,1146.4 L912.0,1145.2 L912.1,1144.0 L912.3,1142.8 L912.5,1141.6 L912.7,1140.4 L912.8,1139.2 L913.0,1138.0 L913.2,1136.8 L913.3,1135.6 L913.5,1134.4 L913.6,1133.2 L913.8,1132.0 L913.9,1130.8 L914.1,1129.6 L914.2,1128.4 L914.4,1127.3 L914.5,1126.1 L914.7,1124.9 L914.8,1123.7 L915.0,1122.5 L915.1,1121.3 L915.2,1120.1 L915.4,1118.9 L915.5,1117.7 L915.6,1116.5 L915.7,1115.3 L915.9,1114.1 L916.0,1112.9 L916.1,1111.7 L916.2,1110.5 L916.3,1109.3 L916.5,1108.1 L916.6,1106.9 L916.7,1105.7 L916.8,1104.5 L916.9,1103.3 L917.0,1102.1 L917.1,1100.9 L917.2,1099.7 L917.3,1098.5 L917.4,1097.3 L917.5,1096.1 L917.6,1094.9 L917.7,1093.7 L917.8,1092.5 L917.9,1091.3 L918.0,1090.1 L918.1,1088.9 L918.2,1087.7 L918.3,1086.5 L918.4,1085.3 L918.4,1084.1 L918.5,1082.9 L918.6,1081.7 L918.7,1080.5 L918.8,1079.3 L918.9,1078.1 L919.0,1076.9 L919.0,1075.7 L919.1,1074.5 L919.2,1073.3 L919.3,1072.0 L919.4,1070.8 L919.4,1069.6 L919.5,1068.4 L919.6,1067.2 L919.7,1066.0 L919.7,1064.8 L919.8,1063.6 L919.9,1062.4 L920.0,1061.2 L920.0,1060.0 L920.1,1058.8 L920.2,1057.6 L920.3,1056.4 L920.3,1055.2 L920.4,1054.0 L920.5,1052.8 L920.5,1051.6 L920.6,1050.4 L920.7,1049.2 L920.8,1048.0 L920.8,1046.8 L920.9,1045.6 L921.0,1044.4 L921.0,1043.2 L921.1,1042.0 L921.2,1040.8 L921.3,1039.6 L921.3,1038.4 L921.4,1037.2 L921.5,1036.0 L921.6,1034.8 L921.6,1033.6 L921.7,1032.3 L921.8,1031.1 L921.9,1029.9 L922.0,1028.7 L922.0,1027.5 L922.1,1026.3 L922.2,1025.1 L922.3,1023.9 L922.4,1022.7 L922.5,1021.5 L922.6,1020.3 L922.6,1019.1 L922.7,1017.9 L922.8,1016.7 L922.9,1015.5 L923.0,1014.3 L923.1,1013.1 L923.2,1011.9 L923.3,1010.7 L923.4,1009.5 L923.5,1008.3 L923.6,1007.1 L923.8,1005.9 L923.9,1004.7 L924.0,1003.5 L924.1,1002.3 L924.2,1001.1 L924.3,999.9 L924.5,998.7 L924.6,997.5 L924.7,996.3 L924.9,995.1 L925.0,993.9 L925.1,992.7 L925.3,991.5 L925.4,990.3 L925.6,989.1 L925.7,987.9 L925.9,986.7 L926.0,985.5 L926.2,984.3 L926.3,983.1 L926.5,981.9 L926.6,980.7 L926.7,979.5 L926.9,978.4 L927.0,977.2 L927.2,976.0 L927.3,974.8 L927.5,973.6 L927.6,972.5 L927.7,971.3 L927.9,970.1 L928.0,968.9 L928.1,967.8 L928.2,966.6 L928.3,965.5 L928.5,964.3 L928.6,963.1 L928.8,961.9 L929.1,960.7 L929.4,959.4 L929.8,958.1 L930.2,956.7 L930.8,955.3 L931.4,954.2 L932.0,953.4 L932.6,953.4 L933.2,954.0 L933.8,955.1 L934.3,956.5 L934.8,957.8 L935.2,959.1 L935.6,960.4 L935.9,961.7 L936.3,963.0 L936.5,964.2 L936.8,965.4 L937.0,966.6 L937.2,967.9 L937.4,969.0 L937.6,970.2 L937.7,971.4 L937.8,972.6 L937.9,973.7 L938.1,974.9 L938.2,976.1 L938.3,977.2 L938.4,978.4 L938.5,979.6 L938.6,980.7 L938.7,981.9 L938.8,983.1 L938.9,984.2 L939.0,985.4 L939.1,986.6 L939.3,987.7 L939.4,988.9 L939.5,990.1 L939.6,991.3 L939.8,992.5 L939.9,993.6 L940.0,994.8 L940.2,996.0 L940.3,997.2 L940.4,998.4 L940.6,999.6 L940.7,1000.8 L940.9,1002.0 L941.0,1003.1 L941.2,1004.3 L941.3,1005.5 L941.5,1006.7 L941.6,1007.9 L941.7,1009.1 L941.9,1010.3 L942.0,1011.5 L942.2,1012.7 L942.4,1013.9 L942.5,1015.1 L942.7,1016.3 L942.8,1017.5 L943.0,1018.7 L943.1,1019.9 L943.3,1021.1 L943.4,1022.3 L943.6,1023.5 L943.7,1024.7 L943.9,1025.9 L944.1,1027.2 L944.2,1028.4 L944.4,1029.6 L944.5,1030.8 L944.7,1032.0 L944.8,1033.2 L945.0,1034.4 L945.1,1035.6 L945.3,1036.8 L945.5,1038.0 L945.6,1039.2 L945.8,1040.4 L945.9,1041.6 L946.1,1042.8 L946.2,1044.0 L946.4,1045.2 L946.5,1046.4 L946.7,1047.6 L946.8,1048.8 L946.9,1050.0 L947.1,1051.2 L947.2,1052.4 L947.4,1053.6 L947.5,1054.8 L947.6,1056.0 L947.8,1057.2 L947.9,1058.4 L948.1,1059.6 L948.2,1060.8 L948.3,1062.0 L948.5,1063.2 L948.6,1064.4 L948.7,1065.5 L948.9,1066.7 L949.0,1067.9 L949.1,1069.1 L949.3,1070.3 L949.4,1071.5 L949.5,1072.7 L949.7,1073.9 L949.8,1075.1 L950.0,1076.2 L950.1,1077.4 L950.3,1078.6 L950.4,1079.8 L950.6,1081.0 L950.7,1082.2 L950.9,1083.4 L951.1,1084.6 L951.2,1085.7 L951.4,1086.9 L951.6,1088.1 L951.7,1089.3 L951.9,1090.5 L952.1,1091.7 L952.3,1092.9 L952.5,1094.0 L952.7,1095.2 L952.9,1096.4 L953.1,1097.6 L953.3,1098.8 L953.5,1100.0 L953.8,1101.2 L954.0,1102.4 L954.2,1103.6 L954.5,1104.8 L954.7,1105.9 L955.0,1107.1 L955.3,1108.3 L955.5,1109.5 L955.8,1110.7 L956.1,1111.9 L956.4,1113.1 L956.7,1114.3 L957.0,1115.5 L957.3,1116.7 L957.7,1117.9 L958.0,1119.1 L958.3,1120.3 L958.7,1121.5 L959.1,1122.7 L959.4,1123.9 L959.8,1125.1 L960.3,1126.2 L960.7,1127.3 L961.3,1128.2 L961.8,1129.1 L962.5,1129.8 L963.2,1130.4 L964.1,1130.9 L965.0,1131.1 L966.0,1131.2 L967.2,1131.0 L968.4,1130.7 L969.7,1130.3 L971.0,1130.0 L972.3,1130.0 L973.4,1130.4 L974.4,1131.0 L975.3,1131.8 L976.1,1132.8 L976.9,1133.9 L977.5,1135.0 L978.1,1136.1 L978.5,1137.1 L979.0,1138.2 L979.3,1139.3 L979.7,1140.3 L980.0,1141.4 L980.3,1142.6 L980.5,1143.7 L980.8,1144.8 L981.0,1146.0 L981.3,1147.2 L981.5,1148.4 L981.7,1149.6 L982.0,1150.9 L982.2,1152.1 L982.4,1153.4 L982.7,1154.6 L982.9,1155.9 L983.2,1157.1 L983.4,1158.4 L983.7,1159.6 L984.0,1160.9 L984.2,1162.1 L984.6,1163.3 L984.9,1164.5 L985.2,1165.7 L985.6,1166.9 L986.0,1168.1 L986.4,1169.2 L986.8,1170.3 L987.3,1171.4 L987.8,1172.5 L988.3,1173.5 L988.9,1174.6 L989.5,1175.5 L990.1,1176.5 L990.8,1177.4 L991.5,1178.2 L992.3,1179.1 L993.1,1179.9 L994.0,1180.6 L994.9,1181.3 L995.8,1181.9 L996.8,1182.5 L997.9,1183.0 L999.0,1183.5 L1000.1,1184.0 L1001.4,1184.3 L1002.6,1184.6 L1004.0,1184.9" stroke-dasharray="15.5 10.5" stroke-width="2.30"/>
<path d="M843.1,1184.9 L844.2,1184.4 L845.4,1184.0 L846.5,1183.5 L847.6,1183.0 L848.7,1182.4 L849.7,1181.9 L850.8,1181.3 L851.8,1180.7 L852.8,1180.1 L853.8,1179.5 L854.8,1178.9 L855.8,1178.2 L856.7,1177.5 L857.7,1176.8 L858.6,1176.1 L859.5,1175.4 L860.4,1174.7 L861.3,1173.9 L862.1,1173.1 L863.0,1172.3 L863.8,1171.5 L864.6,1170.7 L865.4,1169.8 L866.2,1169.0 L867.0,1168.1 L867.8,1167.2 L868.5,1166.3 L869.3,1165.4 L870.0,1164.5 L870.7,1163.6 L871.4,1162.6 L872.1,1161.7 L872.8,1160.7 L873.5,1159.7 L874.1,1158.7 L874.8,1157.7 L875.4,1156.7 L876.0,1155.7 L876.6,1154.6 L877.2,1153.6 L877.8,1152.5 L878.4,1151.5 L879.0,1150.4 L879.6,1149.3 L880.1,1148.3 L880.7,1147.2 L881.2,1146.1 L881.7,1145.0 L882.2,1143.8 L882.8,1142.7 L883.3,1141.6 L883.8,1140.5 L884.2,1139.3 L884.7,1138.2 L885.2,1137.0 L885.7,1135.9 L886.1,1134.7 L886.6,1133.6 L887.0,1132.4 L887.4,1131.2 L887.9,1130.1 L888.3,1128.9 L888.7,1127.7 L889.1,1126.6 L889.6,1125.4 L890.0,1124.2 L890.4,1123.0 L890.8,1121.8 L891.1,1120.7 L891.5,1119.5 L891.9,1118.3 L892.3,1117.1 L892.7,1116.0 L893.0,1114.8 L893.4,1113.6 L893.8,1112.4 L894.1,1111.3 L894.5,1110.1 L894.8,1108.9 L895.2,1107.8 L895.5,1106.6 L895.9,1105.5 L896.2,1104.3 L896.6,1103.2 L896.9,1102.0 L897.3,1100.9 L897.6,1099.8 L898.0,1098.6 L898.3,1097.5 L898.7,1096.4 L899.0,1095.3 L899.4,1094.2 L899.7,1093.0 L900.1,1091.9 L900.5,1090.8 L900.9,1089.7 L901.2,1088.6 L901.6,1087.5 L902.0,1086.4 L902.5,1085.2 L902.9,1084.1 L903.3,1083.0 L903.8,1081.9 L904.3,1080.7 L904.8,1079.6 L905.3,1078.5 L905.8,1077.3 L906.3,1076.2 L906.9,1075.0 L907.4,1073.9 L908.1,1072.8 L908.7,1071.7 L909.4,1070.7 L910.2,1069.8 L911.1,1069.0 L912.0,1068.2 L913.0,1067.6 L914.1,1067.1 L915.2,1066.7 L916.3,1066.4 L917.4,1066.3 L918.6,1066.2 L919.8,1066.2 L920.9,1066.3 L922.1,1066.5 L923.2,1066.8 L924.3,1067.1 L925.4,1067.6 L926.4,1068.2 L927.4,1068.9 L928.3,1069.6 L929.1,1070.5 L930.0,1071.4 L930.7,1072.4 L931.4,1073.4 L932.1,1074.5 L932.8,1075.6 L933.4,1076.8 L934.0,1077.9 L934.6,1079.1 L935.1,1080.3 L935.6,1081.5 L936.1,1082.7 L936.6,1083.9 L937.1,1085.0 L937.6,1086.1 L938.1,1087.2 L938.6,1088.3 L939.1,1089.3 L939.5,1090.4 L940.0,1091.4 L940.4,1092.5 L940.9,1093.5 L941.3,1094.6 L941.6,1095.7 L942.0,1096.8 L942.4,1097.9 L942.7,1099.1 L943.1,1100.2 L943.4,1101.4 L943.7,1102.5 L944.1,1103.7 L944.4,1104.9 L944.7,1106.1 L945.0,1107.2 L945.3,1108.4 L945.6,1109.6 L945.9,1110.8 L946.2,1112.0 L946.6,1113.2 L946.9,1114.4 L947.2,1115.6 L947.6,1116.8 L947.9,1117.9 L948.3,1119.1 L948.7,1120.3 L949.1,1121.4 L949.5,1122.6 L950.0,1123.7 L950.4,1124.8 L950.9,1125.9 L951.4,1127.0 L951.9,1128.1 L952.5,1129.1 L953.0,1130.1 L953.6,1131.1 L954.3,1132.1 L954.9,1133.1 L955.6,1134.0 L956.3,1134.9 L957.1,1135.8 L957.9,1136.7 L958.7,1137.6 L959.5,1138.4 L960.4,1139.2 L961.2,1140.0 L962.1,1140.8 L963.0,1141.6 L963.9,1142.4 L964.8,1143.2 L965.8,1144.0 L966.7,1144.7 L967.6,1145.5 L968.5,1146.3 L969.5,1147.1 L970.4,1147.8 L971.3,1148.6 L972.2,1149.4 L973.1,1150.3 L973.9,1151.1 L974.8,1151.9 L975.6,1152.8 L976.4,1153.7 L977.2,1154.6 L978.0,1155.5 L978.7,1156.4 L979.5,1157.3 L980.2,1158.3 L980.9,1159.3 L981.6,1160.2 L982.3,1161.2 L983.0,1162.2 L983.6,1163.2 L984.3,1164.2 L985.0,1165.2 L985.6,1166.3 L986.2,1167.3 L986.9,1168.4 L987.5,1169.4 L988.1,1170.5 L988.8,1171.5 L989.4,1172.6 L990.0,1173.6 L990.6,1174.7 L991.2,1175.8 L991.9,1176.8 L992.5,1177.8 L993.2,1178.8 L993.9,1179.7 L994.6,1180.6 L995.4,1181.5 L996.2,1182.3 L997.0,1183.0 L997.9,1183.7 L998.8,1184.3 L999.8,1184.7 L1000.8,1185.1 L1001.9,1185.4 L1003.1,1185.6 L1004.3,1185.7 L1005.6,1185.7 L1007.0,1185.5 L1008.4,1185.2 L1010.0,1184.8" stroke-dasharray="12.5 5.5 3 5" stroke-width="2.30"/>
</g>
<g stroke="#555555" stroke-width="1" fill="none" stroke-linecap="square">
<path d="M795.60,684.80 H1296.10 M795.60,1185.40 H1296.10"/>
<path d="M795.60,1185.40 H788.10 M1296.10,1185.40 H1303.60"/>
<path d="M795.60,1085.28 H788.10 M1296.10,1085.28 H1303.60"/>
<path d="M795.60,985.16 H788.10 M1296.10,985.16 H1303.60"/>
<path d="M795.60,885.04 H788.10 M1296.10,885.04 H1303.60"/>
<path d="M795.60,784.92 H788.10 M1296.10,784.92 H1303.60"/>
<path d="M795.60,684.80 H788.10 M1296.10,684.80 H1303.60"/>
</g>
<g stroke="#262626" stroke-width="1" fill="none">
<path d="M795.60,684.80 V1185.40 M1296.10,684.80 V1185.40"/>
<path d="M795.60,1185.40 V1192.90 M795.60,684.80 V677.30"/>
<path d="M879.02,1185.40 V1192.90 M879.02,684.80 V677.30"/>
<path d="M962.43,1185.40 V1192.90 M962.43,684.80 V677.30"/>
<path d="M1045.85,1185.40 V1192.90 M1045.85,684.80 V677.30"/>
<path d="M1129.27,1185.40 V1192.90 M1129.27,684.80 V677.30"/>
<path d="M1212.68,1185.40 V1192.90 M1212.68,684.80 V677.30"/>
<path d="M1296.10,1185.40 V1192.90 M1296.10,684.80 V677.30"/>
</g>
<g fill="#262626" font-size="25.0" letter-spacing="0.6">
<text x="795.60" y="1226.40" text-anchor="middle">-20</text>
<text x="879.02" y="1226.40" text-anchor="middle">0</text>
<text x="962.43" y="1226.40" text-anchor="middle">20</text>
<text x="1045.85" y="1226.40" text-anchor="middle">40</text>
<text x="1129.27" y="1226.40" text-anchor="middle">60</text>
<text x="1212.68" y="1226.40" text-anchor="middle">80</text>
<text x="1296.10" y="1226.40" text-anchor="middle">100</text>
<text x="779.70" y="1195.70" text-anchor="end">0</text>
<text x="779.70" y="1095.58" text-anchor="end">0.05</text>
<text x="779.70" y="995.46" text-anchor="end">0.1</text>
<text x="779.70" y="895.34" text-anchor="end">0.15</text>
<text x="779.70" y="795.22" text-anchor="end">0.2</text>
<text x="779.70" y="695.10" text-anchor="end">0.25</text>
</g>
<text x="1045.95" y="1258.90" font-size="25.0" fill="#262626" text-anchor="middle" letter-spacing="0.20">Egg production rate</text>
<text transform="translate(719.10,934.10) rotate(-90)" font-size="25.0" fill="#262626" text-anchor="middle">Density</text>
<clipPath id="clipE"><rect x="103.00" y="1321.60" width="502.50" height="502.50"/></clipPath>
<g clip-path="url(#clipE)" fill="none" stroke="#0000ff" stroke-width="3.20" stroke-linejoin="round">
<path d="M112.8,1822.1 L114.0,1822.1 L115.2,1822.2 L116.4,1822.2 L117.5,1822.2 L118.7,1822.3 L119.9,1822.3 L121.1,1822.3 L122.3,1822.3 L123.5,1822.3 L124.7,1822.3 L126.0,1822.3 L127.2,1822.3 L128.4,1822.3 L129.6,1822.3 L130.8,1822.3 L132.0,1822.3 L133.2,1822.2 L134.4,1822.2 L135.6,1822.2 L136.8,1822.1 L138.0,1822.1 L139.3,1822.0 L140.5,1822.0 L141.7,1821.9 L142.9,1821.9 L144.1,1821.8 L145.3,1821.7 L146.5,1821.6 L147.7,1821.6 L148.9,1821.5 L150.2,1821.4 L151.4,1821.3 L152.6,1821.2 L153.8,1821.0 L155.0,1820.9 L156.2,1820.8 L157.4,1820.7 L158.6,1820.5 L159.8,1820.4 L161.0,1820.2 L162.2,1820.1 L163.4,1819.9 L164.6,1819.7 L165.8,1819.5 L167.0,1819.3 L168.2,1819.1 L169.4,1818.9 L170.6,1818.7 L171.7,1818.5 L172.9,1818.3 L174.1,1818.0 L175.3,1817.8 L176.5,1817.6 L177.6,1817.3 L178.8,1817.0 L180.0,1816.8 L181.1,1816.5 L182.3,1816.2 L183.5,1815.9 L184.6,1815.6 L185.8,1815.2 L186.9,1814.9 L188.1,1814.6 L189.2,1814.2 L190.3,1813.9 L191.5,1813.5 L192.6,1813.1 L193.7,1812.8 L194.9,1812.4 L196.0,1812.0 L197.1,1811.6 L198.2,1811.1 L199.3,1810.7 L200.4,1810.3 L201.5,1809.8 L202.6,1809.3 L203.7,1808.9 L204.8,1808.4 L205.9,1807.9 L207.0,1807.4 L208.0,1806.9 L209.1,1806.3 L210.2,1805.8 L211.2,1805.3 L212.3,1804.7 L213.3,1804.1 L214.4,1803.6 L215.4,1803.0 L216.4,1802.4 L217.5,1801.8 L218.5,1801.1 L219.5,1800.5 L220.5,1799.9 L221.5,1799.2 L222.5,1798.6 L223.5,1797.9 L224.5,1797.2 L225.5,1796.6 L226.5,1795.9 L227.5,1795.2 L228.5,1794.5 L229.5,1793.8 L230.5,1793.1 L231.4,1792.4 L232.4,1791.6 L233.4,1790.9 L234.3,1790.2 L235.3,1789.5 L236.3,1788.7 L237.2,1788.0 L238.2,1787.2 L239.1,1786.5 L240.1,1785.7 L241.0,1784.9 L242.0,1784.2 L242.9,1783.4 L243.9,1782.6 L244.8,1781.9 L245.8,1781.1 L246.7,1780.3 L247.6,1779.5 L248.6,1778.8 L249.5,1778.0 L250.5,1777.2 L251.4,1776.4 L252.3,1775.6 L253.2,1774.8 L254.2,1774.1 L255.1,1773.3 L256.0,1772.5 L257.0,1771.7 L257.9,1770.9 L258.8,1770.1 L259.8,1769.4 L260.7,1768.6 L261.6,1767.8 L262.5,1767.0 L263.5,1766.3 L264.4,1765.5 L265.3,1764.7 L266.3,1764.0 L267.2,1763.2 L268.1,1762.5 L269.0,1761.7 L270.0,1761.0 L270.9,1760.2 L271.8,1759.5 L272.8,1758.7 L273.7,1758.0 L274.7,1757.2 L275.6,1756.5 L276.5,1755.8 L277.5,1755.0 L278.4,1754.3 L279.4,1753.6 L280.3,1752.9 L281.3,1752.1 L282.2,1751.4 L283.2,1750.7 L284.1,1750.0 L285.1,1749.3 L286.0,1748.6 L287.0,1747.9 L288.0,1747.2 L288.9,1746.5 L289.9,1745.9 L290.9,1745.2 L291.8,1744.5 L292.8,1743.8 L293.8,1743.2 L294.8,1742.5 L295.8,1741.9 L296.8,1741.2 L297.7,1740.6 L298.7,1739.9 L299.7,1739.3 L300.7,1738.6 L301.8,1738.0 L302.8,1737.4 L303.8,1736.8 L304.8,1736.2 L305.8,1735.5 L306.8,1734.9 L307.9,1734.3 L308.9,1733.7 L309.9,1733.2 L311.0,1732.6 L312.0,1732.0 L313.1,1731.4 L314.1,1730.9 L315.2,1730.3 L316.3,1729.8 L317.3,1729.2 L318.4,1728.7 L319.5,1728.1 L320.6,1727.6 L321.7,1727.1 L322.8,1726.6 L323.9,1726.1 L325.0,1725.6 L326.1,1725.1 L327.2,1724.6 L328.3,1724.1 L329.4,1723.6 L330.6,1723.1 L331.7,1722.7 L332.9,1722.2 L334.0,1721.8 L335.1,1721.4 L336.3,1720.9 L337.5,1720.5 L338.6,1720.1 L339.8,1719.7 L340.9,1719.3 L342.1,1719.0 L343.3,1718.6 L344.5,1718.2 L345.6,1717.9 L346.8,1717.6 L348.0,1717.2 L349.2,1716.9 L350.4,1716.6 L351.6,1716.3 L352.8,1716.1 L353.9,1715.8 L355.1,1715.5 L356.3,1715.3 L357.5,1715.1 L358.7,1714.9 L359.9,1714.7 L361.1,1714.5 L362.3,1714.3 L363.5,1714.2 L364.7,1714.1 L365.9,1713.9 L367.1,1713.9 L368.3,1713.8 L369.5,1713.7 L370.7,1713.7 L371.9,1713.7 L373.1,1713.7 L374.3,1713.7 L375.4,1713.7 L376.6,1713.8 L377.8,1713.9 L379.0,1714.0 L380.1,1714.1 L381.3,1714.3 L382.4,1714.5 L383.6,1714.7 L384.7,1714.9 L385.9,1715.2 L387.0,1715.5 L388.1,1715.8 L389.3,1716.1 L390.4,1716.4 L391.5,1716.8 L392.6,1717.2 L393.7,1717.6 L394.8,1718.1 L395.9,1718.5 L397.0,1719.0 L398.0,1719.5 L399.1,1720.0 L400.2,1720.5 L401.2,1721.0 L402.3,1721.6 L403.3,1722.2 L404.4,1722.8 L405.4,1723.4 L406.4,1724.0 L407.5,1724.7 L408.5,1725.3 L409.5,1726.0 L410.5,1726.7 L411.5,1727.4 L412.5,1728.1 L413.5,1728.8 L414.4,1729.5 L415.4,1730.3 L416.4,1731.1 L417.3,1731.8 L418.3,1732.6 L419.2,1733.4 L420.1,1734.2 L421.1,1735.0 L422.0,1735.8 L422.9,1736.6 L423.8,1737.5 L424.7,1738.3 L425.6,1739.2 L426.5,1740.0 L427.4,1740.9 L428.2,1741.7 L429.1,1742.6 L430.0,1743.5 L430.8,1744.4 L431.7,1745.2 L432.5,1746.1 L433.3,1747.0 L434.2,1747.9 L435.0,1748.8 L435.8,1749.7 L436.6,1750.6 L437.4,1751.5 L438.2,1752.5 L439.0,1753.4 L439.8,1754.3 L440.6,1755.2 L441.4,1756.1 L442.2,1757.1 L443.0,1758.0 L443.7,1758.9 L444.5,1759.8 L445.3,1760.7 L446.1,1761.7 L446.9,1762.6 L447.7,1763.5 L448.4,1764.4 L449.2,1765.4 L450.0,1766.3 L450.8,1767.2 L451.6,1768.1 L452.3,1769.0 L453.1,1770.0 L453.9,1770.9 L454.7,1771.8 L455.5,1772.7 L456.3,1773.6 L457.1,1774.5 L457.9,1775.4 L458.7,1776.3 L459.5,1777.2 L460.3,1778.1 L461.1,1779.0 L462.0,1779.8 L462.8,1780.7 L463.6,1781.6 L464.5,1782.4 L465.3,1783.3 L466.2,1784.1 L467.0,1785.0 L467.9,1785.8 L468.8,1786.7 L469.7,1787.5 L470.5,1788.3 L471.4,1789.1 L472.3,1789.9 L473.2,1790.7 L474.1,1791.5 L475.0,1792.3 L475.9,1793.1 L476.9,1793.9 L477.8,1794.6 L478.7,1795.4 L479.7,1796.2 L480.6,1796.9 L481.6,1797.6 L482.5,1798.4 L483.5,1799.1 L484.4,1799.8 L485.4,1800.5 L486.4,1801.2 L487.4,1801.9 L488.4,1802.5 L489.4,1803.2 L490.4,1803.9 L491.4,1804.5 L492.4,1805.1 L493.4,1805.8 L494.4,1806.4 L495.4,1807.0 L496.5,1807.6 L497.5,1808.2 L498.5,1808.8 L499.6,1809.3 L500.6,1809.9 L501.7,1810.4 L502.8,1811.0 L503.8,1811.5 L504.9,1812.0 L506.0,1812.5 L507.1,1813.0 L508.1,1813.5 L509.2,1813.9 L510.3,1814.4 L511.4,1814.8 L512.5,1815.3 L513.6,1815.7 L514.8,1816.1 L515.9,1816.5 L517.0,1816.9 L518.1,1817.2 L519.3,1817.6 L520.4,1817.9 L521.6,1818.2 L522.7,1818.6 L523.9,1818.9 L525.0,1819.2 L526.2,1819.4 L527.4,1819.7 L528.5,1819.9 L529.7,1820.2 L530.9,1820.4 L532.1,1820.6 L533.3,1820.8 L534.5,1820.9 L535.7,1821.1 L536.9,1821.2 L538.1,1821.4 L539.3,1821.5 L540.6,1821.6 L541.8,1821.7 L543.0,1821.7 L544.2,1821.8 L545.5,1821.8 L546.7,1821.8 L548.0,1821.8 L549.2,1821.8 L550.5,1821.8 L551.8,1821.7 L553.0,1821.7 L554.3,1821.6 L555.6,1821.5 L556.8,1821.4" stroke-linecap="round"/>
<path d="M164.5,1822.4 L165.8,1822.4 L167.2,1822.4 L168.5,1822.3 L169.8,1822.3 L171.1,1822.2 L172.4,1822.1 L173.7,1822.0 L174.9,1821.9 L176.2,1821.7 L177.5,1821.5 L178.7,1821.4 L180.0,1821.2 L181.2,1821.0 L182.4,1820.7 L183.6,1820.5 L184.8,1820.2 L186.0,1820.0 L187.2,1819.7 L188.4,1819.4 L189.6,1819.1 L190.7,1818.8 L191.9,1818.4 L193.0,1818.1 L194.1,1817.7 L195.3,1817.3 L196.4,1816.9 L197.5,1816.5 L198.6,1816.1 L199.7,1815.6 L200.8,1815.2 L201.9,1814.7 L203.0,1814.2 L204.0,1813.7 L205.1,1813.2 L206.1,1812.7 L207.2,1812.2 L208.2,1811.7 L209.2,1811.1 L210.3,1810.5 L211.3,1810.0 L212.3,1809.4 L213.3,1808.8 L214.3,1808.2 L215.2,1807.6 L216.2,1806.9 L217.2,1806.3 L218.2,1805.6 L219.1,1805.0 L220.1,1804.3 L221.0,1803.6 L222.0,1802.9 L222.9,1802.2 L223.8,1801.5 L224.7,1800.8 L225.6,1800.0 L226.5,1799.3 L227.4,1798.5 L228.3,1797.8 L229.2,1797.0 L230.1,1796.2 L231.0,1795.4 L231.8,1794.6 L232.7,1793.8 L233.6,1793.0 L234.4,1792.2 L235.3,1791.3 L236.1,1790.5 L236.9,1789.6 L237.8,1788.8 L238.6,1787.9 L239.4,1787.1 L240.2,1786.2 L241.0,1785.3 L241.8,1784.4 L242.6,1783.5 L243.4,1782.6 L244.2,1781.7 L245.0,1780.7 L245.7,1779.8 L246.5,1778.9 L247.3,1777.9 L248.0,1777.0 L248.8,1776.1 L249.5,1775.1 L250.3,1774.1 L251.0,1773.2 L251.7,1772.2 L252.5,1771.2 L253.2,1770.2 L253.9,1769.2 L254.6,1768.2 L255.4,1767.2 L256.1,1766.2 L256.8,1765.2 L257.5,1764.2 L258.2,1763.2 L258.9,1762.2 L259.6,1761.2 L260.2,1760.1 L260.9,1759.1 L261.6,1758.1 L262.3,1757.0 L262.9,1756.0 L263.6,1754.9 L264.3,1753.9 L264.9,1752.9 L265.6,1751.8 L266.2,1750.7 L266.9,1749.7 L267.5,1748.6 L268.2,1747.6 L268.8,1746.5 L269.5,1745.4 L270.1,1744.4 L270.7,1743.3 L271.3,1742.2 L272.0,1741.2 L272.6,1740.1 L273.2,1739.0 L273.8,1738.0 L274.4,1736.9 L275.1,1735.8 L275.7,1734.7 L276.3,1733.7 L276.9,1732.6 L277.5,1731.6 L278.1,1730.5 L278.8,1729.4 L279.4,1728.4 L280.0,1727.3 L280.7,1726.3 L281.3,1725.3 L281.9,1724.2 L282.6,1723.2 L283.2,1722.2 L283.9,1721.2 L284.6,1720.2 L285.2,1719.2 L285.9,1718.2 L286.6,1717.3 L287.3,1716.3 L288.0,1715.3 L288.8,1714.4 L289.5,1713.5 L290.2,1712.6 L291.0,1711.6 L291.8,1710.8 L292.5,1709.9 L293.3,1709.0 L294.1,1708.2 L294.9,1707.3 L295.8,1706.5 L296.6,1705.7 L297.5,1704.9 L298.4,1704.1 L299.3,1703.4 L300.2,1702.6 L301.1,1701.9 L302.1,1701.2 L303.0,1700.5 L304.0,1699.9 L305.0,1699.2 L306.1,1698.6 L307.1,1698.0 L308.2,1697.4 L309.3,1696.8 L310.4,1696.3 L311.5,1695.8 L312.6,1695.3 L313.7,1694.9 L314.9,1694.5 L316.0,1694.1 L317.2,1693.8 L318.4,1693.5 L319.5,1693.2 L320.7,1693.0 L321.9,1692.8 L323.1,1692.7 L324.3,1692.6 L325.5,1692.5 L326.7,1692.5 L327.8,1692.5 L329.0,1692.6 L330.2,1692.8 L331.4,1692.9 L332.5,1693.2 L333.7,1693.4 L334.8,1693.7 L336.0,1694.0 L337.1,1694.4 L338.3,1694.8 L339.4,1695.2 L340.5,1695.6 L341.6,1696.1 L342.7,1696.6 L343.8,1697.1 L344.9,1697.6 L346.0,1698.1 L347.0,1698.7 L348.1,1699.3 L349.1,1699.9 L350.2,1700.5 L351.2,1701.1 L352.3,1701.8 L353.3,1702.4 L354.3,1703.1 L355.3,1703.8 L356.3,1704.5 L357.3,1705.2 L358.3,1705.9 L359.3,1706.7 L360.3,1707.4 L361.3,1708.2 L362.3,1708.9 L363.3,1709.7 L364.2,1710.5 L365.2,1711.3 L366.1,1712.1 L367.1,1712.9 L368.1,1713.6 L369.0,1714.4 L370.0,1715.2 L370.9,1716.1 L371.8,1716.9 L372.8,1717.7 L373.7,1718.5 L374.7,1719.3 L375.6,1720.1 L376.5,1720.9 L377.4,1721.7 L378.4,1722.5 L379.3,1723.2 L380.2,1724.0 L381.1,1724.8 L382.0,1725.6 L383.0,1726.4 L383.9,1727.2 L384.8,1728.0 L385.7,1728.8 L386.6,1729.6 L387.5,1730.4 L388.4,1731.1 L389.3,1731.9 L390.2,1732.7 L391.1,1733.5 L392.0,1734.3 L392.9,1735.1 L393.8,1735.9 L394.7,1736.6 L395.6,1737.4 L396.5,1738.2 L397.4,1739.0 L398.3,1739.8 L399.2,1740.6 L400.0,1741.3 L400.9,1742.1 L401.8,1742.9 L402.7,1743.7 L403.6,1744.5 L404.5,1745.3 L405.4,1746.0 L406.2,1746.8 L407.1,1747.6 L408.0,1748.4 L408.9,1749.2 L409.8,1750.0 L410.7,1750.7 L411.5,1751.5 L412.4,1752.3 L413.3,1753.1 L414.2,1753.9 L415.1,1754.7 L415.9,1755.5 L416.8,1756.3 L417.7,1757.1 L418.6,1757.8 L419.5,1758.6 L420.4,1759.4 L421.2,1760.2 L422.1,1761.0 L423.0,1761.8 L423.9,1762.6 L424.8,1763.4 L425.7,1764.2 L426.5,1765.0 L427.4,1765.8 L428.3,1766.6 L429.2,1767.4 L430.1,1768.2 L431.0,1769.1 L431.9,1769.9 L432.8,1770.7 L433.7,1771.5 L434.5,1772.3 L435.4,1773.1 L436.3,1773.9 L437.2,1774.7 L438.1,1775.6 L439.0,1776.4 L439.9,1777.2 L440.8,1778.0 L441.7,1778.8 L442.7,1779.6 L443.6,1780.4 L444.5,1781.2 L445.4,1782.1 L446.3,1782.9 L447.2,1783.7 L448.1,1784.5 L449.1,1785.3 L450.0,1786.1 L450.9,1786.9 L451.8,1787.6 L452.8,1788.4 L453.7,1789.2 L454.6,1790.0 L455.6,1790.8 L456.5,1791.5 L457.5,1792.3 L458.4,1793.1 L459.4,1793.8 L460.3,1794.6 L461.3,1795.3 L462.2,1796.0 L463.2,1796.8 L464.2,1797.5 L465.1,1798.2 L466.1,1798.9 L467.1,1799.6 L468.1,1800.3 L469.1,1801.0 L470.0,1801.7 L471.0,1802.4 L472.0,1803.1 L473.0,1803.7 L474.0,1804.4 L475.1,1805.0 L476.1,1805.7 L477.1,1806.3 L478.1,1806.9 L479.1,1807.5 L480.2,1808.1 L481.2,1808.7 L482.2,1809.3 L483.3,1809.9 L484.3,1810.4 L485.4,1811.0 L486.5,1811.5 L487.5,1812.0 L488.6,1812.6 L489.7,1813.1 L490.7,1813.6 L491.8,1814.0 L492.9,1814.5 L494.0,1815.0 L495.1,1815.4 L496.2,1815.8 L497.3,1816.2 L498.5,1816.7 L499.6,1817.0 L500.7,1817.4 L501.8,1817.8 L503.0,1818.1 L504.1,1818.5 L505.3,1818.8 L506.5,1819.1 L507.6,1819.4 L508.8,1819.7 L510.0,1819.9 L511.2,1820.2 L512.4,1820.4 L513.6,1820.6 L514.8,1820.8 L516.0,1821.0 L517.2,1821.1 L518.4,1821.3 L519.7,1821.4 L520.9,1821.5 L522.1,1821.6 L523.4,1821.7 L524.7,1821.7 L525.9,1821.8 L527.2,1821.8" stroke-dasharray="15.5 10.5" stroke-width="2.30"/>
<path d="M165.0,1822.4 L166.2,1822.3 L167.4,1822.2 L168.6,1822.1 L169.8,1822.0 L171.0,1821.9 L172.2,1821.8 L173.4,1821.7 L174.6,1821.6 L175.8,1821.4 L177.0,1821.3 L178.2,1821.1 L179.4,1820.9 L180.5,1820.7 L181.7,1820.5 L182.9,1820.3 L184.1,1820.1 L185.3,1819.8 L186.4,1819.6 L187.6,1819.3 L188.8,1819.1 L189.9,1818.8 L191.1,1818.5 L192.3,1818.2 L193.4,1817.9 L194.6,1817.5 L195.7,1817.2 L196.9,1816.9 L198.0,1816.5 L199.2,1816.1 L200.3,1815.8 L201.4,1815.4 L202.6,1815.0 L203.7,1814.6 L204.8,1814.1 L205.9,1813.7 L207.1,1813.3 L208.2,1812.8 L209.3,1812.4 L210.4,1811.9 L211.5,1811.4 L212.6,1810.9 L213.7,1810.4 L214.7,1809.9 L215.8,1809.4 L216.9,1808.8 L218.0,1808.3 L219.0,1807.7 L220.1,1807.1 L221.1,1806.6 L222.2,1806.0 L223.2,1805.4 L224.2,1804.8 L225.3,1804.1 L226.3,1803.5 L227.3,1802.9 L228.3,1802.2 L229.3,1801.6 L230.3,1800.9 L231.3,1800.2 L232.3,1799.5 L233.3,1798.8 L234.2,1798.1 L235.2,1797.4 L236.2,1796.7 L237.1,1795.9 L238.1,1795.2 L239.0,1794.5 L240.0,1793.7 L240.9,1792.9 L241.8,1792.2 L242.8,1791.4 L243.7,1790.6 L244.6,1789.8 L245.5,1789.0 L246.4,1788.2 L247.3,1787.4 L248.2,1786.6 L249.1,1785.8 L250.0,1785.0 L250.9,1784.1 L251.7,1783.3 L252.6,1782.5 L253.5,1781.6 L254.3,1780.8 L255.2,1779.9 L256.0,1779.1 L256.9,1778.2 L257.7,1777.4 L258.6,1776.5 L259.4,1775.6 L260.2,1774.8 L261.1,1773.9 L261.9,1773.0 L262.7,1772.1 L263.5,1771.3 L264.3,1770.4 L265.1,1769.5 L265.9,1768.6 L266.7,1767.8 L267.5,1766.9 L268.3,1766.0 L269.1,1765.1 L269.9,1764.2 L270.7,1763.3 L271.5,1762.5 L272.3,1761.6 L273.0,1760.7 L273.8,1759.8 L274.6,1758.9 L275.4,1758.0 L276.1,1757.1 L276.9,1756.2 L277.7,1755.4 L278.4,1754.5 L279.2,1753.6 L280.0,1752.7 L280.8,1751.8 L281.5,1750.9 L282.3,1750.0 L283.1,1749.1 L283.9,1748.2 L284.7,1747.4 L285.4,1746.5 L286.2,1745.6 L287.0,1744.7 L287.8,1743.8 L288.6,1742.9 L289.4,1742.0 L290.2,1741.1 L291.0,1740.3 L291.8,1739.4 L292.6,1738.5 L293.5,1737.6 L294.3,1736.7 L295.1,1735.9 L296.0,1735.0 L296.8,1734.1 L297.7,1733.2 L298.5,1732.3 L299.4,1731.5 L300.2,1730.6 L301.1,1729.7 L302.0,1728.8 L302.9,1728.0 L303.8,1727.1 L304.7,1726.2 L305.6,1725.4 L306.5,1724.5 L307.4,1723.7 L308.4,1722.8 L309.3,1722.0 L310.3,1721.2 L311.2,1720.4 L312.2,1719.6 L313.1,1718.8 L314.1,1718.0 L315.1,1717.2 L316.1,1716.4 L317.1,1715.7 L318.1,1714.9 L319.1,1714.2 L320.1,1713.5 L321.1,1712.8 L322.1,1712.1 L323.2,1711.4 L324.2,1710.8 L325.2,1710.2 L326.3,1709.5 L327.4,1708.9 L328.4,1708.4 L329.5,1707.8 L330.6,1707.3 L331.6,1706.8 L332.7,1706.3 L333.8,1705.8 L334.9,1705.3 L336.0,1704.9 L337.1,1704.5 L338.3,1704.2 L339.4,1703.8 L340.5,1703.5 L341.6,1703.2 L342.8,1702.9 L343.9,1702.7 L345.1,1702.5 L346.2,1702.3 L347.4,1702.2 L348.6,1702.0 L349.7,1701.9 L350.9,1701.9 L352.1,1701.8 L353.3,1701.8 L354.5,1701.9 L355.6,1701.9 L356.8,1702.0 L358.0,1702.1 L359.2,1702.2 L360.4,1702.3 L361.6,1702.5 L362.8,1702.7 L363.9,1702.9 L365.1,1703.1 L366.3,1703.4 L367.5,1703.7 L368.7,1704.0 L369.8,1704.3 L371.0,1704.7 L372.1,1705.0 L373.3,1705.4 L374.4,1705.8 L375.6,1706.3 L376.7,1706.7 L377.8,1707.2 L379.0,1707.7 L380.1,1708.2 L381.2,1708.7 L382.3,1709.2 L383.3,1709.8 L384.4,1710.4 L385.5,1711.0 L386.5,1711.6 L387.6,1712.2 L388.6,1712.8 L389.7,1713.5 L390.7,1714.1 L391.7,1714.8 L392.7,1715.5 L393.7,1716.2 L394.7,1716.9 L395.6,1717.6 L396.6,1718.3 L397.6,1719.1 L398.5,1719.8 L399.5,1720.6 L400.4,1721.4 L401.4,1722.1 L402.3,1722.9 L403.2,1723.7 L404.1,1724.5 L405.0,1725.3 L405.9,1726.1 L406.8,1727.0 L407.7,1727.8 L408.6,1728.6 L409.5,1729.5 L410.4,1730.3 L411.3,1731.1 L412.1,1732.0 L413.0,1732.8 L413.8,1733.7 L414.7,1734.5 L415.5,1735.4 L416.4,1736.3 L417.2,1737.1 L418.1,1738.0 L418.9,1738.8 L419.7,1739.7 L420.5,1740.6 L421.4,1741.4 L422.2,1742.3 L423.0,1743.2 L423.8,1744.1 L424.6,1744.9 L425.4,1745.8 L426.2,1746.7 L427.0,1747.6 L427.8,1748.4 L428.6,1749.3 L429.4,1750.2 L430.2,1751.1 L431.0,1752.0 L431.8,1752.9 L432.6,1753.7 L433.4,1754.6 L434.2,1755.5 L435.0,1756.4 L435.8,1757.3 L436.6,1758.2 L437.4,1759.1 L438.2,1760.0 L439.0,1760.9 L439.8,1761.7 L440.6,1762.6 L441.4,1763.5 L442.2,1764.4 L443.0,1765.3 L443.8,1766.2 L444.6,1767.1 L445.4,1768.0 L446.2,1768.9 L447.0,1769.8 L447.8,1770.7 L448.6,1771.6 L449.4,1772.5 L450.3,1773.3 L451.1,1774.2 L451.9,1775.1 L452.7,1776.0 L453.6,1776.9 L454.4,1777.8 L455.2,1778.7 L456.1,1779.6 L456.9,1780.4 L457.8,1781.3 L458.6,1782.2 L459.5,1783.0 L460.3,1783.9 L461.2,1784.8 L462.1,1785.6 L462.9,1786.5 L463.8,1787.3 L464.7,1788.2 L465.6,1789.0 L466.4,1789.9 L467.3,1790.7 L468.2,1791.5 L469.1,1792.3 L470.0,1793.1 L470.9,1794.0 L471.8,1794.8 L472.7,1795.5 L473.7,1796.3 L474.6,1797.1 L475.5,1797.9 L476.5,1798.6 L477.4,1799.4 L478.3,1800.2 L479.3,1800.9 L480.2,1801.6 L481.2,1802.3 L482.2,1803.1 L483.1,1803.8 L484.1,1804.5 L485.1,1805.1 L486.1,1805.8 L487.1,1806.5 L488.0,1807.1 L489.1,1807.8 L490.1,1808.4 L491.1,1809.0 L492.1,1809.6 L493.1,1810.2 L494.1,1810.8 L495.2,1811.4 L496.2,1811.9 L497.3,1812.5 L498.3,1813.0 L499.4,1813.5 L500.5,1814.0 L501.5,1814.5 L502.6,1815.0 L503.7,1815.5 L504.8,1815.9 L505.9,1816.4 L507.0,1816.8 L508.1,1817.2 L509.2,1817.6 L510.4,1818.0 L511.5,1818.3 L512.6,1818.7 L513.8,1819.0 L515.0,1819.3 L516.1,1819.6 L517.3,1819.9 L518.5,1820.1 L519.7,1820.4 L520.9,1820.6 L522.1,1820.8 L523.3,1821.0 L524.5,1821.2 L525.7,1821.3 L526.9,1821.5 L528.2,1821.6 L529.4,1821.7 L530.7,1821.7 L532.0,1821.8 L533.2,1821.8 L534.5,1821.8 L535.8,1821.8 L537.1,1821.8" stroke-dasharray="12.5 5.5 3 5" stroke-width="2.30"/>
</g>
<g stroke="#555555" stroke-width="1" fill="none" stroke-linecap="square">
<path d="M104.00,1322.60 H604.50 M104.00,1823.10 H604.50"/>
<path d="M104.00,1823.10 H96.50 M604.50,1823.10 H612.00"/>
<path d="M104.00,1739.68 H96.50 M604.50,1739.68 H612.00"/>
<path d="M104.00,1656.27 H96.50 M604.50,1656.27 H612.00"/>
<path d="M104.00,1572.85 H96.50 M604.50,1572.85 H612.00"/>
<path d="M104.00,1489.43 H96.50 M604.50,1489.43 H612.00"/>
<path d="M104.00,1406.02 H96.50 M604.50,1406.02 H612.00"/>
<path d="M104.00,1322.60 H96.50 M604.50,1322.60 H612.00"/>
</g>
<g stroke="#262626" stroke-width="1" fill="none">
<path d="M104.00,1322.60 V1823.10 M604.50,1322.60 V1823.10"/>
<path d="M104.00,1823.10 V1830.60 M104.00,1322.60 V1315.10"/>
<path d="M229.12,1823.10 V1830.60 M229.12,1322.60 V1315.10"/>
<path d="M354.25,1823.10 V1830.60 M354.25,1322.60 V1315.10"/>
<path d="M479.38,1823.10 V1830.60 M479.38,1322.60 V1315.10"/>
<path d="M604.50,1823.10 V1830.60 M604.50,1322.60 V1315.10"/>
</g>
<g fill="#262626" font-size="25.0" letter-spacing="0.6">
<text x="104.00" y="1864.10" text-anchor="middle">60</text>
<text x="229.12" y="1864.10" text-anchor="middle">70</text>
<text x="354.25" y="1864.10" text-anchor="middle">80</text>
<text x="479.38" y="1864.10" text-anchor="middle">90</text>
<text x="604.50" y="1864.10" text-anchor="middle">100</text>
<text x="88.10" y="1833.40" text-anchor="end">0</text>
<text x="88.10" y="1749.98" text-anchor="end">0.05</text>
<text x="88.10" y="1666.57" text-anchor="end">0.1</text>
<text x="88.10" y="1583.15" text-anchor="end">0.15</text>
<text x="88.10" y="1499.73" text-anchor="end">0.2</text>
<text x="88.10" y="1416.32" text-anchor="end">0.25</text>
<text x="88.10" y="1332.90" text-anchor="end">0.3</text>
</g>
<text x="354.25" y="1896.60" font-size="25.0" fill="#262626" text-anchor="middle" letter-spacing="0.00">Egg size (µm)</text>
<text transform="translate(27.40,1572.00) rotate(-90)" font-size="25.0" fill="#262626" text-anchor="middle">Density</text>
<clipPath id="clipF"><rect x="794.60" y="1321.60" width="502.50" height="502.50"/></clipPath>
<g clip-path="url(#clipF)" fill="none" stroke="#00ffff" stroke-width="3.20" stroke-linejoin="round">
<path d="M915.6,1821.8 L916.9,1822.0 L918.2,1822.2 L919.5,1822.4 L920.8,1822.5 L922.0,1822.6 L923.3,1822.7 L924.6,1822.8 L925.8,1822.8 L927.1,1822.8 L928.3,1822.8 L929.6,1822.8 L930.8,1822.7 L932.0,1822.6 L933.2,1822.5 L934.4,1822.4 L935.6,1822.2 L936.8,1822.1 L938.0,1821.9 L939.2,1821.6 L940.4,1821.4 L941.6,1821.1 L942.7,1820.8 L943.9,1820.5 L945.0,1820.2 L946.2,1819.8 L947.3,1819.4 L948.4,1819.0 L949.5,1818.6 L950.6,1818.2 L951.7,1817.7 L952.8,1817.2 L953.9,1816.7 L955.0,1816.2 L956.0,1815.7 L957.1,1815.1 L958.1,1814.6 L959.1,1814.0 L960.1,1813.4 L961.1,1812.8 L962.1,1812.1 L963.1,1811.5 L964.1,1810.8 L965.1,1810.1 L966.0,1809.4 L967.0,1808.7 L967.9,1807.9 L968.8,1807.2 L969.7,1806.4 L970.6,1805.6 L971.5,1804.8 L972.3,1804.0 L973.2,1803.2 L974.0,1802.4 L974.9,1801.5 L975.7,1800.7 L976.5,1799.8 L977.3,1798.9 L978.1,1798.0 L978.8,1797.1 L979.6,1796.2 L980.3,1795.2 L981.0,1794.3 L981.7,1793.3 L982.4,1792.3 L983.1,1791.4 L983.8,1790.4 L984.5,1789.4 L985.1,1788.4 L985.7,1787.4 L986.4,1786.3 L987.0,1785.3 L987.6,1784.3 L988.2,1783.2 L988.7,1782.1 L989.3,1781.1 L989.9,1780.0 L990.4,1778.9 L991.0,1777.9 L991.5,1776.8 L992.0,1775.7 L992.6,1774.6 L993.1,1773.5 L993.6,1772.4 L994.1,1771.2 L994.6,1770.1 L995.1,1769.0 L995.5,1767.9 L996.0,1766.8 L996.5,1765.6 L997.0,1764.5 L997.4,1763.4 L997.9,1762.2 L998.3,1761.1 L998.8,1759.9 L999.2,1758.8 L999.7,1757.7 L1000.1,1756.5 L1000.6,1755.4 L1001.0,1754.2 L1001.5,1753.1 L1001.9,1752.0 L1002.4,1750.8 L1002.8,1749.7 L1003.2,1748.5 L1003.7,1747.4 L1004.1,1746.3 L1004.6,1745.1 L1005.0,1744.0 L1005.5,1742.9 L1005.9,1741.8 L1006.4,1740.7 L1006.8,1739.6 L1007.3,1738.5 L1007.7,1737.4 L1008.2,1736.3 L1008.7,1735.2 L1009.2,1734.1 L1009.6,1733.0 L1010.1,1731.9 L1010.6,1730.8 L1011.1,1729.8 L1011.6,1728.7 L1012.1,1727.6 L1012.6,1726.6 L1013.1,1725.5 L1013.6,1724.4 L1014.1,1723.3 L1014.6,1722.3 L1015.2,1721.2 L1015.7,1720.2 L1016.2,1719.1 L1016.7,1718.0 L1017.3,1716.9 L1017.8,1715.9 L1018.4,1714.8 L1018.9,1713.7 L1019.5,1712.6 L1020.0,1711.6 L1020.6,1710.5 L1021.2,1709.4 L1021.7,1708.3 L1022.3,1707.2 L1022.9,1706.1 L1023.5,1705.0 L1024.1,1703.9 L1024.7,1702.8 L1025.3,1701.7 L1025.9,1700.6 L1026.6,1699.6 L1027.3,1698.5 L1027.9,1697.5 L1028.6,1696.5 L1029.4,1695.5 L1030.1,1694.5 L1030.9,1693.6 L1031.7,1692.7 L1032.5,1691.8 L1033.4,1690.9 L1034.2,1690.1 L1035.1,1689.3 L1036.0,1688.6 L1037.0,1687.8 L1037.9,1687.2 L1038.9,1686.5 L1039.9,1685.9 L1040.9,1685.3 L1042.0,1684.8 L1043.0,1684.3 L1044.1,1683.8 L1045.2,1683.4 L1046.3,1683.0 L1047.4,1682.6 L1048.6,1682.3 L1049.7,1682.1 L1050.9,1681.9 L1052.0,1681.7 L1053.2,1681.6 L1054.4,1681.5 L1055.6,1681.4 L1056.8,1681.4 L1058.0,1681.4 L1059.2,1681.5 L1060.4,1681.6 L1061.6,1681.7 L1062.8,1681.9 L1064.0,1682.1 L1065.2,1682.3 L1066.5,1682.6 L1067.7,1682.8 L1068.9,1683.1 L1070.1,1683.4 L1071.3,1683.7 L1072.5,1684.1 L1073.7,1684.4 L1074.8,1684.8 L1076.0,1685.1 L1077.2,1685.5 L1078.3,1685.9 L1079.5,1686.4 L1080.6,1686.8 L1081.7,1687.2 L1082.9,1687.7 L1084.0,1688.2 L1085.1,1688.7 L1086.2,1689.1 L1087.3,1689.7 L1088.4,1690.2 L1089.5,1690.7 L1090.5,1691.3 L1091.6,1691.8 L1092.7,1692.4 L1093.7,1693.0 L1094.8,1693.5 L1095.8,1694.1 L1096.8,1694.8 L1097.9,1695.4 L1098.9,1696.0 L1099.9,1696.7 L1100.9,1697.3 L1101.9,1698.0 L1102.9,1698.6 L1103.9,1699.3 L1104.8,1700.0 L1105.8,1700.7 L1106.8,1701.4 L1107.7,1702.1 L1108.7,1702.9 L1109.6,1703.6 L1110.6,1704.4 L1111.5,1705.1 L1112.4,1705.9 L1113.3,1706.6 L1114.2,1707.4 L1115.1,1708.2 L1116.0,1709.0 L1116.9,1709.8 L1117.8,1710.6 L1118.7,1711.4 L1119.5,1712.2 L1120.4,1713.0 L1121.2,1713.9 L1122.1,1714.7 L1122.9,1715.6 L1123.8,1716.4 L1124.6,1717.3 L1125.4,1718.1 L1126.2,1719.0 L1127.0,1719.9 L1127.8,1720.8 L1128.6,1721.6 L1129.4,1722.5 L1130.2,1723.4 L1131.0,1724.3 L1131.7,1725.2 L1132.5,1726.1 L1133.3,1727.0 L1134.0,1728.0 L1134.8,1728.9 L1135.5,1729.8 L1136.2,1730.7 L1137.0,1731.7 L1137.7,1732.6 L1138.4,1733.5 L1139.2,1734.5 L1139.9,1735.4 L1140.6,1736.4 L1141.3,1737.3 L1142.0,1738.3 L1142.7,1739.3 L1143.4,1740.2 L1144.1,1741.2 L1144.8,1742.2 L1145.5,1743.2 L1146.2,1744.1 L1146.9,1745.1 L1147.6,1746.1 L1148.3,1747.1 L1148.9,1748.1 L1149.6,1749.1 L1150.3,1750.1 L1151.0,1751.1 L1151.7,1752.1 L1152.3,1753.1 L1153.0,1754.1 L1153.7,1755.1 L1154.4,1756.1 L1155.0,1757.1 L1155.7,1758.2 L1156.4,1759.2 L1157.1,1760.2 L1157.7,1761.2 L1158.4,1762.2 L1159.1,1763.3 L1159.8,1764.3 L1160.4,1765.3 L1161.1,1766.3 L1161.8,1767.4 L1162.5,1768.4 L1163.2,1769.4 L1163.8,1770.5 L1164.5,1771.5 L1165.2,1772.5 L1165.9,1773.5 L1166.6,1774.6 L1167.3,1775.6 L1168.0,1776.6 L1168.7,1777.6 L1169.4,1778.6 L1170.1,1779.6 L1170.8,1780.6 L1171.5,1781.7 L1172.3,1782.6 L1173.0,1783.6 L1173.7,1784.6 L1174.4,1785.6 L1175.2,1786.6 L1175.9,1787.6 L1176.7,1788.5 L1177.4,1789.5 L1178.2,1790.4 L1178.9,1791.4 L1179.7,1792.3 L1180.5,1793.2 L1181.2,1794.2 L1182.0,1795.1 L1182.8,1796.0 L1183.6,1796.9 L1184.4,1797.7 L1185.2,1798.6 L1186.0,1799.5 L1186.9,1800.3 L1187.7,1801.2 L1188.5,1802.0 L1189.4,1802.8 L1190.2,1803.6 L1191.1,1804.4 L1192.0,1805.2 L1192.9,1805.9 L1193.7,1806.7 L1194.6,1807.4 L1195.5,1808.2 L1196.5,1808.9 L1197.4,1809.6 L1198.3,1810.3 L1199.2,1810.9 L1200.2,1811.6 L1201.2,1812.2 L1202.1,1812.8 L1203.1,1813.4 L1204.1,1814.0 L1205.1,1814.6 L1206.1,1815.1 L1207.1,1815.7 L1208.2,1816.2 L1209.2,1816.7 L1210.3,1817.2 L1211.3,1817.6 L1212.4,1818.0 L1213.5,1818.5 L1214.6,1818.9 L1215.7,1819.2 L1216.9,1819.6 L1218.0,1819.9 L1219.2,1820.2 L1220.3,1820.5 L1221.5,1820.8 L1222.7,1821.0 L1223.9,1821.3 L1225.1,1821.5 L1226.4,1821.6 L1227.6,1821.8 L1228.9,1821.9 L1230.1,1822.0 L1231.4,1822.1 L1232.7,1822.2 L1234.0,1822.2 L1235.4,1822.2 L1236.7,1822.2 L1238.1,1822.1 L1239.5,1822.0 L1240.9,1821.9 L1242.3,1821.8" stroke-linecap="round"/>
<path d="M984.9,1823.2 L986.2,1822.9 L987.5,1822.6 L988.8,1822.2 L990.0,1821.9 L991.3,1821.5 L992.4,1821.0 L993.6,1820.6 L994.7,1820.1 L995.8,1819.6 L996.9,1819.0 L998.0,1818.5 L999.0,1817.9 L1000.0,1817.3 L1000.9,1816.6 L1001.9,1816.0 L1002.8,1815.3 L1003.7,1814.6 L1004.6,1813.8 L1005.5,1813.1 L1006.3,1812.3 L1007.1,1811.5 L1007.9,1810.7 L1008.7,1809.8 L1009.4,1809.0 L1010.1,1808.1 L1010.9,1807.2 L1011.6,1806.3 L1012.2,1805.4 L1012.9,1804.4 L1013.5,1803.5 L1014.1,1802.5 L1014.7,1801.5 L1015.3,1800.5 L1015.9,1799.5 L1016.5,1798.4 L1017.0,1797.4 L1017.5,1796.3 L1018.1,1795.3 L1018.5,1794.2 L1019.0,1793.1 L1019.5,1792.0 L1020.0,1790.9 L1020.4,1789.7 L1020.9,1788.6 L1021.3,1787.5 L1021.7,1786.3 L1022.1,1785.2 L1022.5,1784.0 L1022.9,1782.8 L1023.3,1781.6 L1023.6,1780.5 L1024.0,1779.3 L1024.4,1778.1 L1024.7,1776.9 L1025.1,1775.7 L1025.4,1774.5 L1025.7,1773.3 L1026.0,1772.1 L1026.4,1770.9 L1026.7,1769.7 L1027.0,1768.5 L1027.3,1767.3 L1027.6,1766.1 L1027.9,1764.9 L1028.2,1763.7 L1028.5,1762.5 L1028.8,1761.3 L1029.1,1760.1 L1029.4,1758.9 L1029.7,1757.7 L1029.9,1756.5 L1030.2,1755.3 L1030.5,1754.1 L1030.8,1752.9 L1031.1,1751.7 L1031.3,1750.5 L1031.6,1749.3 L1031.9,1748.2 L1032.2,1747.0 L1032.4,1745.8 L1032.7,1744.6 L1033.0,1743.4 L1033.2,1742.3 L1033.5,1741.1 L1033.7,1739.9 L1034.0,1738.7 L1034.3,1737.5 L1034.5,1736.4 L1034.8,1735.2 L1035.0,1734.0 L1035.3,1732.9 L1035.6,1731.7 L1035.8,1730.5 L1036.1,1729.3 L1036.3,1728.2 L1036.6,1727.0 L1036.8,1725.8 L1037.1,1724.7 L1037.3,1723.5 L1037.6,1722.3 L1037.8,1721.2 L1038.1,1720.0 L1038.3,1718.8 L1038.6,1717.7 L1038.8,1716.5 L1039.1,1715.4 L1039.4,1714.2 L1039.6,1713.0 L1039.9,1711.9 L1040.1,1710.7 L1040.4,1709.6 L1040.6,1708.4 L1040.9,1707.2 L1041.1,1706.1 L1041.4,1704.9 L1041.7,1703.8 L1041.9,1702.6 L1042.2,1701.4 L1042.5,1700.3 L1042.7,1699.1 L1043.0,1698.0 L1043.3,1696.8 L1043.5,1695.7 L1043.8,1694.5 L1044.1,1693.3 L1044.3,1692.2 L1044.6,1691.0 L1044.9,1689.9 L1045.2,1688.7 L1045.5,1687.6 L1045.7,1686.4 L1046.0,1685.2 L1046.3,1684.1 L1046.6,1682.9 L1046.9,1681.8 L1047.2,1680.6 L1047.5,1679.4 L1047.8,1678.3 L1048.1,1677.1 L1048.4,1676.0 L1048.7,1674.8 L1049.0,1673.6 L1049.3,1672.5 L1049.6,1671.3 L1050.0,1670.2 L1050.3,1669.0 L1050.6,1667.8 L1050.9,1666.7 L1051.3,1665.5 L1051.6,1664.4 L1051.9,1663.2 L1052.3,1662.0 L1052.6,1660.9 L1053.0,1659.7 L1053.3,1658.5 L1053.7,1657.4 L1054.0,1656.2 L1054.4,1655.0 L1054.7,1653.9 L1055.1,1652.7 L1055.5,1651.6 L1055.8,1650.4 L1056.2,1649.2 L1056.6,1648.1 L1056.9,1646.9 L1057.3,1645.8 L1057.7,1644.6 L1058.1,1643.4 L1058.5,1642.3 L1058.9,1641.1 L1059.2,1640.0 L1059.6,1638.8 L1060.0,1637.7 L1060.4,1636.5 L1060.8,1635.4 L1061.2,1634.2 L1061.6,1633.1 L1062.0,1631.9 L1062.4,1630.8 L1062.8,1629.6 L1063.2,1628.5 L1063.7,1627.3 L1064.1,1626.2 L1064.5,1625.1 L1064.9,1623.9 L1065.3,1622.8 L1065.7,1621.7 L1066.1,1620.5 L1066.6,1619.4 L1067.0,1618.3 L1067.4,1617.2 L1067.8,1616.0 L1068.3,1614.9 L1068.7,1613.8 L1069.1,1612.7 L1069.5,1611.6 L1070.0,1610.5 L1070.4,1609.4 L1070.8,1608.3 L1071.3,1607.2 L1071.7,1606.1 L1072.1,1605.0 L1072.6,1603.9 L1073.0,1602.8 L1073.4,1601.7 L1073.9,1600.6 L1074.3,1599.5 L1074.7,1598.5 L1075.2,1597.4 L1075.6,1596.3 L1076.1,1595.2 L1076.5,1594.2 L1076.9,1593.1 L1077.4,1592.0 L1077.8,1590.9 L1078.3,1589.9 L1078.7,1588.8 L1079.2,1587.7 L1079.7,1586.5 L1080.1,1585.4 L1080.6,1584.3 L1081.1,1583.1 L1081.5,1582.0 L1082.0,1580.8 L1082.5,1579.6 L1083.0,1578.4 L1083.5,1577.1 L1084.0,1575.9 L1084.5,1574.7 L1085.1,1573.5 L1085.7,1572.3 L1086.4,1571.2 L1087.2,1570.3 L1088.0,1569.4 L1089.0,1568.7 L1090.0,1568.1 L1091.1,1567.8 L1092.1,1567.7 L1093.1,1567.9 L1094.1,1568.4 L1095.0,1569.1 L1095.9,1569.9 L1096.7,1570.9 L1097.5,1571.9 L1098.2,1572.9 L1098.9,1574.0 L1099.5,1575.0 L1100.1,1576.1 L1100.7,1577.2 L1101.2,1578.3 L1101.7,1579.4 L1102.2,1580.5 L1102.6,1581.6 L1103.0,1582.8 L1103.4,1583.9 L1103.7,1585.1 L1104.1,1586.2 L1104.4,1587.4 L1104.6,1588.6 L1104.9,1589.7 L1105.1,1590.9 L1105.3,1592.1 L1105.5,1593.3 L1105.7,1594.5 L1105.9,1595.7 L1106.1,1596.9 L1106.2,1598.1 L1106.4,1599.3 L1106.5,1600.5 L1106.7,1601.8 L1106.8,1603.0 L1106.9,1604.2 L1107.1,1605.4 L1107.2,1606.6 L1107.3,1607.8 L1107.5,1609.1 L1107.6,1610.3 L1107.8,1611.5 L1107.9,1612.7 L1108.1,1613.9 L1108.3,1615.1 L1108.4,1616.3 L1108.6,1617.5 L1108.8,1618.7 L1109.0,1619.9 L1109.2,1621.1 L1109.3,1622.3 L1109.5,1623.5 L1109.7,1624.7 L1109.9,1625.9 L1110.1,1627.1 L1110.3,1628.3 L1110.5,1629.5 L1110.8,1630.7 L1111.0,1631.9 L1111.2,1633.1 L1111.4,1634.3 L1111.6,1635.5 L1111.8,1636.6 L1112.0,1637.8 L1112.3,1639.0 L1112.5,1640.2 L1112.7,1641.4 L1112.9,1642.6 L1113.1,1643.8 L1113.4,1644.9 L1113.6,1646.1 L1113.8,1647.3 L1114.0,1648.5 L1114.2,1649.7 L1114.5,1650.9 L1114.7,1652.0 L1114.9,1653.2 L1115.1,1654.4 L1115.3,1655.6 L1115.5,1656.8 L1115.7,1657.9 L1115.9,1659.1 L1116.1,1660.3 L1116.3,1661.5 L1116.5,1662.7 L1116.7,1663.9 L1116.9,1665.0 L1117.1,1666.2 L1117.3,1667.4 L1117.5,1668.6 L1117.7,1669.8 L1117.9,1670.9 L1118.0,1672.1 L1118.2,1673.3 L1118.4,1674.5 L1118.6,1675.7 L1118.7,1676.8 L1118.9,1678.0 L1119.1,1679.2 L1119.3,1680.4 L1119.4,1681.6 L1119.6,1682.7 L1119.8,1683.9 L1119.9,1685.1 L1120.1,1686.3 L1120.3,1687.5 L1120.4,1688.6 L1120.6,1689.8 L1120.8,1691.0 L1120.9,1692.2 L1121.1,1693.4 L1121.3,1694.6 L1121.4,1695.7 L1121.6,1696.9 L1121.8,1698.1 L1121.9,1699.3 L1122.1,1700.5 L1122.3,1701.7 L1122.4,1702.8 L1122.6,1704.0 L1122.8,1705.2 L1122.9,1706.4 L1123.1,1707.6 L1123.3,1708.8 L1123.5,1710.0 L1123.6,1711.1 L1123.8,1712.3 L1124.0,1713.5 L1124.2,1714.7 L1124.3,1715.9 L1124.5,1717.1 L1124.7,1718.3 L1124.9,1719.5 L1125.1,1720.7 L1125.3,1721.9 L1125.5,1723.1 L1125.6,1724.2 L1125.8,1725.4 L1126.0,1726.6 L1126.2,1727.8 L1126.4,1729.0 L1126.6,1730.2 L1126.8,1731.4 L1127.0,1732.6 L1127.3,1733.8 L1127.5,1735.0 L1127.7,1736.2 L1127.9,1737.4 L1128.1,1738.6 L1128.4,1739.8 L1128.6,1741.0 L1128.8,1742.2 L1129.1,1743.4 L1129.3,1744.6 L1129.5,1745.8 L1129.8,1747.1 L1130.0,1748.3 L1130.3,1749.5 L1130.5,1750.7 L1130.8,1751.9 L1131.1,1753.1 L1131.3,1754.3 L1131.6,1755.5 L1131.9,1756.7 L1132.2,1758.0 L1132.5,1759.2 L1132.8,1760.4 L1133.1,1761.6 L1133.4,1762.8 L1133.7,1764.0 L1134.1,1765.2 L1134.4,1766.4 L1134.8,1767.5 L1135.2,1768.6 L1135.6,1769.8 L1136.1,1770.8 L1136.6,1771.9 L1137.1,1772.9 L1137.6,1773.9 L1138.2,1774.9 L1138.8,1775.8 L1139.5,1776.7 L1140.2,1777.6 L1140.9,1778.4 L1141.7,1779.2 L1142.6,1779.9 L1143.5,1780.6 L1144.4,1781.2 L1145.4,1781.7 L1146.4,1782.3 L1147.5,1782.8 L1148.6,1783.2 L1149.7,1783.7 L1150.9,1784.1 L1152.0,1784.5 L1153.2,1784.9 L1154.4,1785.3 L1155.5,1785.7 L1156.7,1786.2 L1157.9,1786.6 L1159.0,1787.0 L1160.2,1787.5 L1161.3,1788.0 L1162.4,1788.5 L1163.4,1789.1 L1164.4,1789.7 L1165.4,1790.4 L1166.4,1791.1 L1167.3,1791.8 L1168.2,1792.6 L1169.1,1793.4 L1169.9,1794.2 L1170.8,1795.0 L1171.6,1795.9 L1172.4,1796.7 L1173.2,1797.6 L1174.0,1798.5 L1174.8,1799.4 L1175.6,1800.4 L1176.3,1801.3 L1177.1,1802.2 L1177.9,1803.1 L1178.7,1804.1 L1179.5,1805.0 L1180.2,1805.9 L1181.0,1806.8 L1181.9,1807.7 L1182.7,1808.6 L1183.5,1809.5 L1184.4,1810.3 L1185.3,1811.2 L1186.2,1812.0 L1187.1,1812.8 L1188.0,1813.5 L1189.0,1814.2 L1190.0,1814.9 L1191.0,1815.6 L1192.0,1816.2 L1193.1,1816.9 L1194.2,1817.4 L1195.3,1818.0 L1196.3,1818.5 L1197.5,1819.0 L1198.6,1819.5 L1199.7,1819.9 L1200.9,1820.4 L1202.0,1820.7 L1203.2,1821.1 L1204.3,1821.4 L1205.5,1821.7 L1206.7,1821.9 L1207.8,1822.2 L1209.0,1822.3 L1210.2,1822.5" stroke-dasharray="15.5 10.5" stroke-width="2.30"/>
<path d="M1007.1,1822.9 L1008.0,1822.1 L1008.9,1821.2 L1009.7,1820.4 L1010.5,1819.5 L1011.3,1818.6 L1012.0,1817.6 L1012.7,1816.7 L1013.4,1815.7 L1014.1,1814.8 L1014.7,1813.8 L1015.3,1812.8 L1015.9,1811.8 L1016.5,1810.8 L1017.0,1809.7 L1017.5,1808.7 L1018.0,1807.6 L1018.5,1806.6 L1018.9,1805.5 L1019.4,1804.4 L1019.8,1803.3 L1020.2,1802.2 L1020.5,1801.1 L1020.9,1799.9 L1021.3,1798.8 L1021.6,1797.7 L1021.9,1796.5 L1022.2,1795.4 L1022.5,1794.2 L1022.8,1793.0 L1023.0,1791.9 L1023.3,1790.7 L1023.5,1789.5 L1023.7,1788.3 L1024.0,1787.1 L1024.2,1785.9 L1024.4,1784.7 L1024.6,1783.5 L1024.8,1782.3 L1025.0,1781.1 L1025.2,1779.9 L1025.3,1778.7 L1025.5,1777.5 L1025.7,1776.3 L1025.9,1775.1 L1026.0,1773.9 L1026.2,1772.7 L1026.4,1771.5 L1026.5,1770.3 L1026.7,1769.1 L1026.8,1767.8 L1027.0,1766.6 L1027.2,1765.4 L1027.3,1764.2 L1027.5,1763.0 L1027.6,1761.8 L1027.8,1760.6 L1027.9,1759.4 L1028.1,1758.2 L1028.2,1757.0 L1028.3,1755.8 L1028.5,1754.6 L1028.6,1753.4 L1028.8,1752.2 L1028.9,1751.0 L1029.0,1749.8 L1029.2,1748.7 L1029.3,1747.5 L1029.4,1746.3 L1029.6,1745.1 L1029.7,1743.9 L1029.8,1742.7 L1030.0,1741.5 L1030.1,1740.3 L1030.2,1739.1 L1030.3,1737.9 L1030.4,1736.7 L1030.6,1735.5 L1030.7,1734.3 L1030.8,1733.1 L1030.9,1731.9 L1031.0,1730.7 L1031.1,1729.5 L1031.3,1728.3 L1031.4,1727.1 L1031.5,1725.9 L1031.6,1724.8 L1031.7,1723.6 L1031.8,1722.4 L1031.9,1721.2 L1032.0,1720.0 L1032.1,1718.8 L1032.2,1717.6 L1032.3,1716.4 L1032.4,1715.2 L1032.5,1714.0 L1032.6,1712.8 L1032.7,1711.6 L1032.8,1710.4 L1032.9,1709.2 L1033.0,1708.0 L1033.1,1706.9 L1033.2,1705.7 L1033.3,1704.5 L1033.4,1703.3 L1033.5,1702.1 L1033.6,1700.9 L1033.7,1699.7 L1033.8,1698.5 L1033.9,1697.3 L1034.0,1696.1 L1034.1,1694.9 L1034.2,1693.7 L1034.3,1692.5 L1034.4,1691.3 L1034.4,1690.1 L1034.5,1688.9 L1034.6,1687.7 L1034.7,1686.5 L1034.8,1685.3 L1034.9,1684.1 L1035.0,1682.9 L1035.1,1681.7 L1035.1,1680.6 L1035.2,1679.4 L1035.3,1678.2 L1035.4,1677.0 L1035.5,1675.8 L1035.6,1674.6 L1035.6,1673.4 L1035.7,1672.2 L1035.8,1671.0 L1035.9,1669.8 L1036.0,1668.6 L1036.0,1667.4 L1036.1,1666.2 L1036.2,1665.0 L1036.3,1663.8 L1036.4,1662.6 L1036.4,1661.4 L1036.5,1660.2 L1036.6,1659.0 L1036.7,1657.8 L1036.7,1656.6 L1036.8,1655.4 L1036.9,1654.2 L1037.0,1653.0 L1037.0,1651.8 L1037.1,1650.6 L1037.2,1649.4 L1037.3,1648.2 L1037.3,1647.0 L1037.4,1645.8 L1037.5,1644.6 L1037.5,1643.4 L1037.6,1642.2 L1037.7,1641.0 L1037.8,1639.8 L1037.8,1638.6 L1037.9,1637.4 L1038.0,1636.2 L1038.0,1635.0 L1038.1,1633.8 L1038.2,1632.6 L1038.2,1631.4 L1038.3,1630.2 L1038.4,1629.0 L1038.4,1627.8 L1038.5,1626.6 L1038.6,1625.4 L1038.6,1624.2 L1038.7,1623.0 L1038.7,1621.8 L1038.8,1620.6 L1038.9,1619.4 L1038.9,1618.2 L1039.0,1617.0 L1039.1,1615.8 L1039.1,1614.6 L1039.2,1613.4 L1039.3,1612.2 L1039.3,1611.0 L1039.4,1609.8 L1039.4,1608.6 L1039.5,1607.4 L1039.6,1606.2 L1039.6,1605.0 L1039.7,1603.8 L1039.7,1602.6 L1039.8,1601.4 L1039.9,1600.2 L1039.9,1599.0 L1040.0,1597.8 L1040.0,1596.6 L1040.1,1595.4 L1040.1,1594.2 L1040.2,1593.0 L1040.3,1591.8 L1040.3,1590.6 L1040.4,1589.4 L1040.4,1588.2 L1040.5,1587.0 L1040.5,1585.7 L1040.6,1584.5 L1040.7,1583.3 L1040.7,1582.1 L1040.8,1580.9 L1040.8,1579.7 L1040.9,1578.5 L1040.9,1577.3 L1041.0,1576.1 L1041.0,1574.9 L1041.1,1573.7 L1041.1,1572.5 L1041.2,1571.3 L1041.3,1570.1 L1041.3,1568.9 L1041.4,1567.7 L1041.4,1566.5 L1041.5,1565.3 L1041.5,1564.1 L1041.6,1562.9 L1041.6,1561.7 L1041.7,1560.5 L1041.7,1559.3 L1041.8,1558.1 L1041.8,1556.9 L1041.9,1555.7 L1041.9,1554.5 L1042.0,1553.3 L1042.0,1552.1 L1042.1,1550.9 L1042.2,1549.7 L1042.2,1548.5 L1042.3,1547.3 L1042.3,1546.1 L1042.4,1544.9 L1042.4,1543.7 L1042.5,1542.5 L1042.5,1541.3 L1042.6,1540.1 L1042.6,1538.9 L1042.7,1537.7 L1042.7,1536.4 L1042.8,1535.2 L1042.8,1534.0 L1042.9,1532.8 L1042.9,1531.6 L1043.0,1530.4 L1043.0,1529.2 L1043.1,1528.0 L1043.1,1526.8 L1043.2,1525.6 L1043.2,1524.4 L1043.3,1523.2 L1043.3,1522.0 L1043.4,1520.8 L1043.4,1519.6 L1043.5,1518.4 L1043.5,1517.2 L1043.6,1516.0 L1043.6,1514.8 L1043.7,1513.6 L1043.7,1512.4 L1043.8,1511.2 L1043.9,1510.0 L1043.9,1508.8 L1044.0,1507.6 L1044.0,1506.4 L1044.1,1505.2 L1044.1,1504.0 L1044.2,1502.8 L1044.2,1501.6 L1044.3,1500.4 L1044.3,1499.2 L1044.4,1498.0 L1044.4,1496.8 L1044.5,1495.6 L1044.5,1494.4 L1044.6,1493.2 L1044.6,1492.0 L1044.7,1490.8 L1044.7,1489.6 L1044.8,1488.4 L1044.9,1487.2 L1044.9,1486.0 L1045.0,1484.8 L1045.0,1483.6 L1045.1,1482.4 L1045.1,1481.2 L1045.2,1480.0 L1045.2,1478.8 L1045.3,1477.6 L1045.3,1476.4 L1045.4,1475.2 L1045.4,1474.0 L1045.5,1472.8 L1045.6,1471.6 L1045.6,1470.4 L1045.7,1469.2 L1045.7,1468.0 L1045.8,1466.8 L1045.8,1465.6 L1045.9,1464.4 L1046.0,1463.2 L1046.0,1462.0 L1046.1,1460.8 L1046.1,1459.6 L1046.2,1458.4 L1046.2,1457.2 L1046.3,1456.0 L1046.4,1454.8 L1046.4,1453.6 L1046.5,1452.4 L1046.5,1451.2 L1046.6,1450.0 L1046.7,1448.8 L1046.7,1447.6 L1046.8,1446.4 L1046.8,1445.2 L1046.9,1444.0 L1047.0,1442.8 L1047.0,1441.6 L1047.1,1440.4 L1047.2,1439.2 L1047.2,1438.0 L1047.3,1436.8 L1047.3,1435.6 L1047.4,1434.4 L1047.5,1433.2 L1047.5,1432.0 L1047.6,1430.8 L1047.7,1429.6 L1047.7,1428.4 L1047.8,1427.2 L1047.9,1426.0 L1047.9,1424.8 L1048.0,1423.6 L1048.1,1422.4 L1048.1,1421.3 L1048.2,1420.1 L1048.3,1418.9 L1048.3,1417.7 L1048.4,1416.5 L1048.5,1415.3 L1048.5,1414.1 L1048.6,1412.9 L1048.7,1411.7 L1048.8,1410.5 L1048.8,1409.3 L1048.9,1408.1 L1049.0,1406.9 L1049.0,1405.7 L1049.1,1404.5 L1049.2,1403.3 L1049.3,1402.1 L1049.3,1400.9 L1049.4,1399.7 L1049.5,1398.5 L1049.6,1397.3 L1049.6,1396.1 L1049.7,1394.8 L1049.8,1393.6 L1049.9,1392.4 L1050.0,1391.2 L1050.0,1390.0 L1050.1,1388.8 L1050.2,1387.6 L1050.3,1386.4 L1050.4,1385.2 L1050.4,1384.0 L1050.5,1382.8 L1050.6,1381.6 L1050.7,1380.4 L1050.8,1379.2 L1050.9,1378.0 L1050.9,1376.8 L1051.0,1375.6 L1051.1,1374.3 L1051.2,1373.1 L1051.3,1371.9 L1051.4,1370.7 L1051.5,1369.6 L1051.6,1368.4 L1051.7,1367.2 L1051.8,1366.0 L1051.9,1364.8 L1052.0,1363.7 L1052.2,1362.5 L1052.3,1361.4 L1052.4,1360.2 L1052.5,1359.1 L1052.7,1358.0 L1052.8,1356.9 L1053.0,1355.7 L1053.1,1354.6 L1053.3,1353.4 L1053.4,1352.1 L1053.5,1350.8 L1053.7,1349.4 L1053.8,1347.9 L1053.9,1346.4 L1054.0,1344.9 L1054.2,1343.5 L1054.6,1342.4 L1055.0,1341.7 L1055.6,1341.6 L1056.4,1341.9 L1057.3,1342.7 L1058.1,1343.7 L1058.9,1344.9 L1059.5,1346.1 L1059.9,1347.2 L1060.2,1348.5 L1060.4,1349.7 L1060.6,1350.9 L1060.6,1352.1 L1060.7,1353.4 L1060.7,1354.6 L1060.8,1355.8 L1060.8,1357.1 L1060.9,1358.3 L1060.9,1359.5 L1061.0,1360.7 L1061.1,1361.9 L1061.2,1363.1 L1061.3,1364.3 L1061.5,1365.5 L1061.6,1366.7 L1061.7,1367.9 L1061.9,1369.1 L1062.0,1370.3 L1062.1,1371.5 L1062.3,1372.6 L1062.4,1373.8 L1062.6,1375.0 L1062.7,1376.2 L1062.8,1377.4 L1063.0,1378.6 L1063.1,1379.8 L1063.2,1381.0 L1063.4,1382.2 L1063.5,1383.3 L1063.6,1384.5 L1063.7,1385.7 L1063.9,1386.9 L1064.0,1388.1 L1064.1,1389.3 L1064.2,1390.5 L1064.3,1391.7 L1064.4,1392.9 L1064.5,1394.1 L1064.6,1395.3 L1064.7,1396.5 L1064.9,1397.7 L1065.0,1398.9 L1065.1,1400.1 L1065.2,1401.3 L1065.3,1402.5 L1065.4,1403.7 L1065.5,1404.9 L1065.5,1406.1 L1065.6,1407.2 L1065.7,1408.4 L1065.8,1409.6 L1065.9,1410.8 L1066.0,1412.0 L1066.1,1413.2 L1066.2,1414.4 L1066.3,1415.6 L1066.4,1416.8 L1066.5,1418.0 L1066.5,1419.2 L1066.6,1420.4 L1066.7,1421.6 L1066.8,1422.8 L1066.9,1424.0 L1067.0,1425.2 L1067.1,1426.4 L1067.1,1427.6 L1067.2,1428.8 L1067.3,1430.0 L1067.4,1431.2 L1067.5,1432.4 L1067.6,1433.6 L1067.7,1434.8 L1067.7,1436.0 L1067.8,1437.2 L1067.9,1438.4 L1068.0,1439.6 L1068.1,1440.8 L1068.2,1442.0 L1068.2,1443.2 L1068.3,1444.4 L1068.4,1445.6 L1068.5,1446.8 L1068.6,1448.0 L1068.7,1449.2 L1068.8,1450.4 L1068.8,1451.6 L1068.9,1452.8 L1069.0,1454.0 L1069.1,1455.2 L1069.2,1456.4 L1069.3,1457.6 L1069.3,1458.8 L1069.4,1460.0 L1069.5,1461.2 L1069.6,1462.4 L1069.7,1463.6 L1069.8,1464.8 L1069.8,1466.0 L1069.9,1467.2 L1070.0,1468.4 L1070.1,1469.6 L1070.2,1470.8 L1070.3,1472.0 L1070.3,1473.2 L1070.4,1474.4 L1070.5,1475.6 L1070.6,1476.8 L1070.7,1478.0 L1070.8,1479.2 L1070.8,1480.4 L1070.9,1481.6 L1071.0,1482.8 L1071.1,1484.0 L1071.2,1485.2 L1071.3,1486.4 L1071.3,1487.6 L1071.4,1488.8 L1071.5,1490.0 L1071.6,1491.2 L1071.7,1492.4 L1071.8,1493.6 L1071.8,1494.8 L1071.9,1496.0 L1072.0,1497.2 L1072.1,1498.4 L1072.2,1499.6 L1072.3,1500.8 L1072.3,1502.0 L1072.4,1503.2 L1072.5,1504.4 L1072.6,1505.6 L1072.7,1506.8 L1072.8,1508.0 L1072.8,1509.2 L1072.9,1510.4 L1073.0,1511.6 L1073.1,1512.8 L1073.2,1514.0 L1073.3,1515.2 L1073.3,1516.4 L1073.4,1517.6 L1073.5,1518.8 L1073.6,1520.0 L1073.7,1521.2 L1073.8,1522.4 L1073.8,1523.6 L1073.9,1524.8 L1074.0,1526.0 L1074.1,1527.2 L1074.2,1528.4 L1074.3,1529.6 L1074.4,1530.8 L1074.4,1532.0 L1074.5,1533.2 L1074.6,1534.4 L1074.7,1535.6 L1074.8,1536.8 L1074.9,1538.0 L1075.0,1539.2 L1075.0,1540.4 L1075.1,1541.6 L1075.2,1542.8 L1075.3,1544.0 L1075.4,1545.2 L1075.5,1546.4 L1075.6,1547.6 L1075.6,1548.8 L1075.7,1550.0 L1075.8,1551.2 L1075.9,1552.4 L1076.0,1553.6 L1076.1,1554.8 L1076.2,1555.9 L1076.3,1557.1 L1076.3,1558.3 L1076.4,1559.5 L1076.5,1560.7 L1076.6,1561.9 L1076.7,1563.1 L1076.8,1564.3 L1076.9,1565.5 L1077.0,1566.7 L1077.0,1567.9 L1077.1,1569.1 L1077.2,1570.3 L1077.3,1571.5 L1077.4,1572.7 L1077.5,1573.9 L1077.6,1575.1 L1077.7,1576.3 L1077.8,1577.5 L1077.9,1578.7 L1077.9,1579.9 L1078.0,1581.1 L1078.1,1582.3 L1078.2,1583.5 L1078.3,1584.7 L1078.4,1585.9 L1078.5,1587.1 L1078.6,1588.3 L1078.7,1589.5 L1078.8,1590.7 L1078.9,1591.9 L1079.0,1593.1 L1079.1,1594.3 L1079.1,1595.5 L1079.2,1596.7 L1079.3,1597.9 L1079.4,1599.1 L1079.5,1600.3 L1079.6,1601.5 L1079.7,1602.7 L1079.8,1603.9 L1079.9,1605.1 L1080.0,1606.3 L1080.1,1607.5 L1080.2,1608.7 L1080.3,1609.9 L1080.4,1611.1 L1080.5,1612.3 L1080.6,1613.5 L1080.7,1614.7 L1080.8,1615.9 L1080.9,1617.1 L1081.0,1618.2 L1081.1,1619.4 L1081.2,1620.6 L1081.3,1621.8 L1081.4,1623.0 L1081.5,1624.2 L1081.6,1625.4 L1081.7,1626.6 L1081.8,1627.8 L1081.9,1629.0 L1082.0,1630.2 L1082.1,1631.4 L1082.2,1632.6 L1082.3,1633.8 L1082.4,1635.0 L1082.5,1636.2 L1082.6,1637.4 L1082.7,1638.6 L1082.8,1639.8 L1082.9,1641.0 L1083.0,1642.2 L1083.1,1643.4 L1083.2,1644.6 L1083.3,1645.8 L1083.4,1647.0 L1083.5,1648.2 L1083.6,1649.4 L1083.7,1650.6 L1083.8,1651.8 L1083.9,1653.0 L1084.0,1654.2 L1084.1,1655.4 L1084.3,1656.6 L1084.4,1657.8 L1084.5,1658.9 L1084.6,1660.1 L1084.7,1661.3 L1084.8,1662.5 L1084.9,1663.7 L1085.0,1664.9 L1085.1,1666.1 L1085.2,1667.3 L1085.3,1668.5 L1085.5,1669.7 L1085.6,1670.9 L1085.7,1672.1 L1085.8,1673.3 L1085.9,1674.5 L1086.0,1675.7 L1086.1,1676.9 L1086.2,1678.1 L1086.4,1679.3 L1086.5,1680.5 L1086.6,1681.7 L1086.7,1682.9 L1086.8,1684.1 L1086.9,1685.3 L1087.0,1686.5 L1087.2,1687.7 L1087.3,1688.9 L1087.4,1690.1 L1087.5,1691.3 L1087.6,1692.5 L1087.7,1693.6 L1087.9,1694.8 L1088.0,1696.0 L1088.1,1697.2 L1088.2,1698.4 L1088.3,1699.6 L1088.4,1700.8 L1088.6,1702.0 L1088.7,1703.2 L1088.8,1704.4 L1088.9,1705.6 L1089.0,1706.8 L1089.2,1708.0 L1089.3,1709.2 L1089.4,1710.4 L1089.5,1711.6 L1089.6,1712.8 L1089.8,1714.0 L1089.9,1715.2 L1090.0,1716.4 L1090.1,1717.6 L1090.3,1718.8 L1090.4,1720.0 L1090.5,1721.2 L1090.6,1722.4 L1090.8,1723.6 L1090.9,1724.8 L1091.0,1726.0 L1091.1,1727.2 L1091.3,1728.4 L1091.4,1729.5 L1091.5,1730.7 L1091.6,1731.9 L1091.8,1733.1 L1091.9,1734.3 L1092.0,1735.5 L1092.1,1736.7 L1092.3,1737.9 L1092.4,1739.1 L1092.5,1740.3 L1092.7,1741.5 L1092.8,1742.7 L1092.9,1743.9 L1093.0,1745.1 L1093.2,1746.3 L1093.3,1747.5 L1093.4,1748.7 L1093.6,1749.9 L1093.7,1751.1 L1093.8,1752.3 L1094.0,1753.5 L1094.1,1754.7 L1094.3,1755.9 L1094.4,1757.1 L1094.5,1758.3 L1094.7,1759.5 L1094.8,1760.7 L1095.0,1761.8 L1095.1,1763.0 L1095.3,1764.2 L1095.4,1765.4 L1095.6,1766.6 L1095.8,1767.8 L1095.9,1769.0 L1096.1,1770.2 L1096.2,1771.4 L1096.4,1772.5 L1096.6,1773.7 L1096.8,1774.9 L1096.9,1776.1 L1097.1,1777.3 L1097.3,1778.4 L1097.5,1779.6 L1097.7,1780.8 L1097.9,1782.0 L1098.1,1783.2 L1098.3,1784.3 L1098.5,1785.5 L1098.7,1786.7 L1098.9,1787.8 L1099.1,1789.0 L1099.4,1790.2 L1099.6,1791.3 L1099.8,1792.5 L1100.1,1793.7 L1100.3,1794.8 L1100.5,1796.0 L1100.8,1797.2 L1101.0,1798.4 L1101.2,1799.6 L1101.4,1800.8 L1101.7,1802.0 L1101.9,1803.2 L1102.2,1804.4 L1102.5,1805.6 L1102.9,1806.8 L1103.3,1808.0 L1103.9,1809.1 L1104.6,1810.3 L1105.3,1811.4 L1106.2,1812.4 L1107.1,1813.2 L1108.1,1813.7 L1109.0,1814.0 L1109.9,1813.9 L1110.8,1813.5 L1111.6,1812.9 L1112.3,1811.9 L1113.1,1810.8 L1113.8,1809.6 L1114.4,1808.2 L1115.0,1806.7 L1115.6,1805.3 L1116.1,1803.8 L1116.5,1802.4 L1116.9,1801.1 L1117.3,1799.8 L1117.6,1798.5 L1117.9,1797.3 L1118.2,1796.2 L1118.4,1795.1 L1118.6,1794.0 L1118.8,1792.9 L1119.0,1791.9 L1119.1,1790.9 L1119.2,1789.9 L1119.4,1788.9 L1119.5,1787.9 L1119.6,1786.9 L1119.7,1785.9 L1119.9,1784.9 L1120.0,1783.9 L1120.2,1782.8 L1120.4,1781.8 L1120.6,1780.7 L1120.8,1779.5 L1121.0,1778.3 L1121.3,1777.1 L1121.5,1775.9 L1121.8,1774.6 L1122.1,1773.3 L1122.4,1772.1 L1122.7,1770.8 L1122.9,1769.5 L1123.2,1768.2 L1123.4,1767.0 L1123.6,1765.7 L1123.8,1764.5 L1124.0,1763.3 L1124.2,1762.1 L1124.4,1760.9 L1124.7,1759.7 L1125.0,1758.5 L1125.5,1757.2 L1126.0,1756.0 L1126.6,1754.9 L1127.3,1754.1 L1128.0,1753.8 L1128.8,1754.2 L1129.6,1755.0 L1130.2,1756.0 L1130.7,1757.1 L1131.2,1758.3 L1131.5,1759.6 L1131.8,1760.9 L1132.1,1762.2 L1132.3,1763.6 L1132.5,1764.9 L1132.8,1766.2 L1133.1,1767.4 L1133.4,1768.6 L1133.6,1769.8 L1133.9,1771.0 L1134.3,1772.1 L1134.6,1773.3 L1134.9,1774.4 L1135.2,1775.5 L1135.5,1776.6 L1135.9,1777.7 L1136.2,1778.7 L1136.5,1779.8 L1136.8,1780.9 L1137.1,1782.0 L1137.4,1783.1 L1137.7,1784.2 L1138.0,1785.3 L1138.3,1786.4 L1138.6,1787.6 L1138.8,1788.7 L1139.1,1789.9 L1139.3,1791.1 L1139.5,1792.3 L1139.7,1793.6 L1139.9,1794.8 L1140.2,1796.0 L1140.4,1797.3 L1140.6,1798.5 L1140.8,1799.8 L1141.1,1801.0 L1141.3,1802.2 L1141.6,1803.4 L1141.9,1804.7 L1142.2,1805.9 L1142.5,1807.0 L1142.9,1808.2 L1143.3,1809.3 L1143.7,1810.4 L1144.2,1811.5 L1144.7,1812.6 L1145.2,1813.6 L1145.8,1814.6 L1146.4,1815.6 L1147.1,1816.5 L1147.8,1817.4 L1148.6,1818.2 L1149.5,1819.0 L1150.3,1819.7 L1151.3,1820.4 L1152.3,1821.0 L1153.4,1821.6" stroke-dasharray="12.5 5.5 3 5" stroke-width="2.30"/>
</g>
<g stroke="#555555" stroke-width="1" fill="none" stroke-linecap="square">
<path d="M795.60,1322.60 H1296.10 M795.60,1823.10 H1296.10"/>
<path d="M795.60,1823.10 H788.10 M1296.10,1823.10 H1303.60"/>
<path d="M795.60,1739.68 H788.10 M1296.10,1739.68 H1303.60"/>
<path d="M795.60,1656.27 H788.10 M1296.10,1656.27 H1303.60"/>
<path d="M795.60,1572.85 H788.10 M1296.10,1572.85 H1303.60"/>
<path d="M795.60,1489.43 H788.10 M1296.10,1489.43 H1303.60"/>
<path d="M795.60,1406.02 H788.10 M1296.10,1406.02 H1303.60"/>
<path d="M795.60,1322.60 H788.10 M1296.10,1322.60 H1303.60"/>
</g>
<g stroke="#262626" stroke-width="1" fill="none">
<path d="M795.60,1322.60 V1823.10 M1296.10,1322.60 V1823.10"/>
<path d="M795.60,1823.10 V1830.60 M795.60,1322.60 V1315.10"/>
<path d="M920.73,1823.10 V1830.60 M920.73,1322.60 V1315.10"/>
<path d="M1045.85,1823.10 V1830.60 M1045.85,1322.60 V1315.10"/>
<path d="M1170.97,1823.10 V1830.60 M1170.97,1322.60 V1315.10"/>
<path d="M1296.10,1823.10 V1830.60 M1296.10,1322.60 V1315.10"/>
</g>
<g fill="#262626" font-size="25.0" letter-spacing="0.6">
<text x="795.60" y="1864.10" text-anchor="middle">60</text>
<text x="920.73" y="1864.10" text-anchor="middle">70</text>
<text x="1045.85" y="1864.10" text-anchor="middle">80</text>
<text x="1170.97" y="1864.10" text-anchor="middle">90</text>
<text x="1296.10" y="1864.10" text-anchor="middle">100</text>
<text x="779.70" y="1833.40" text-anchor="end">0</text>
<text x="779.70" y="1749.98" text-anchor="end">0.05</text>
<text x="779.70" y="1666.57" text-anchor="end">0.1</text>
<text x="779.70" y="1583.15" text-anchor="end">0.15</text>
<text x="779.70" y="1499.73" text-anchor="end">0.2</text>
<text x="779.70" y="1416.32" text-anchor="end">0.25</text>
<text x="779.70" y="1332.90" text-anchor="end">0.3</text>
</g>
<text x="1045.85" y="1896.60" font-size="25.0" fill="#262626" text-anchor="middle" letter-spacing="0.00">Egg size (µm)</text>
<text transform="translate(719.30,1572.20) rotate(-90)" font-size="25.0" fill="#262626" text-anchor="middle">Density</text>
<text x="-0.50" y="23.90" font-size="29" fill="#000">A</text>
<text x="699.20" y="23.90" font-size="29" fill="#000">B</text>
<text x="0.00" y="653.10" font-size="29" fill="#000">C</text>
<text x="699.20" y="653.40" font-size="29" fill="#000">D</text>
<text x="-0.10" y="1297.10" font-size="29" fill="#000">E</text>
<text x="699.20" y="1297.30" font-size="29" fill="#000">F</text>
<g stroke="#0000ff" stroke-width="3.20" fill="none">
<path d="M448.40,81.80 H494.70"/>
<path d="M448.40,111.40 H494.70" stroke-dasharray="15.5 10.5" stroke-width="2.30"/>
<path d="M448.40,139.70 H494.70" stroke-dasharray="12.5 5.5 3 5" stroke-width="2.30"/>
</g>
<text x="498.60" y="87.90" font-size="22.5" fill="#000">cohort-1</text>
<text x="498.60" y="116.50" font-size="22.5" fill="#000">cohort-2</text>
<text x="498.60" y="145.80" font-size="22.5" fill="#000">cohort-3</text>
<g stroke="#00ffff" stroke-width="3.20" fill="none">
<path d="M1126.10,81.80 H1175.90"/>
<path d="M1126.10,111.40 H1175.90" stroke-dasharray="15.5 10.5" stroke-width="2.30"/>
<path d="M1126.10,139.70 H1175.90" stroke-dasharray="12.5 5.5 3 5" stroke-width="2.30"/>
</g>
<text x="1181.80" y="90.70" font-size="22.5" fill="#000">cohort-1</text>
<text x="1181.80" y="120.00" font-size="22.5" fill="#000">cohort-2</text>
<text x="1181.80" y="148.60" font-size="22.5" fill="#000">cohort-3</text>
</svg></body></html>
